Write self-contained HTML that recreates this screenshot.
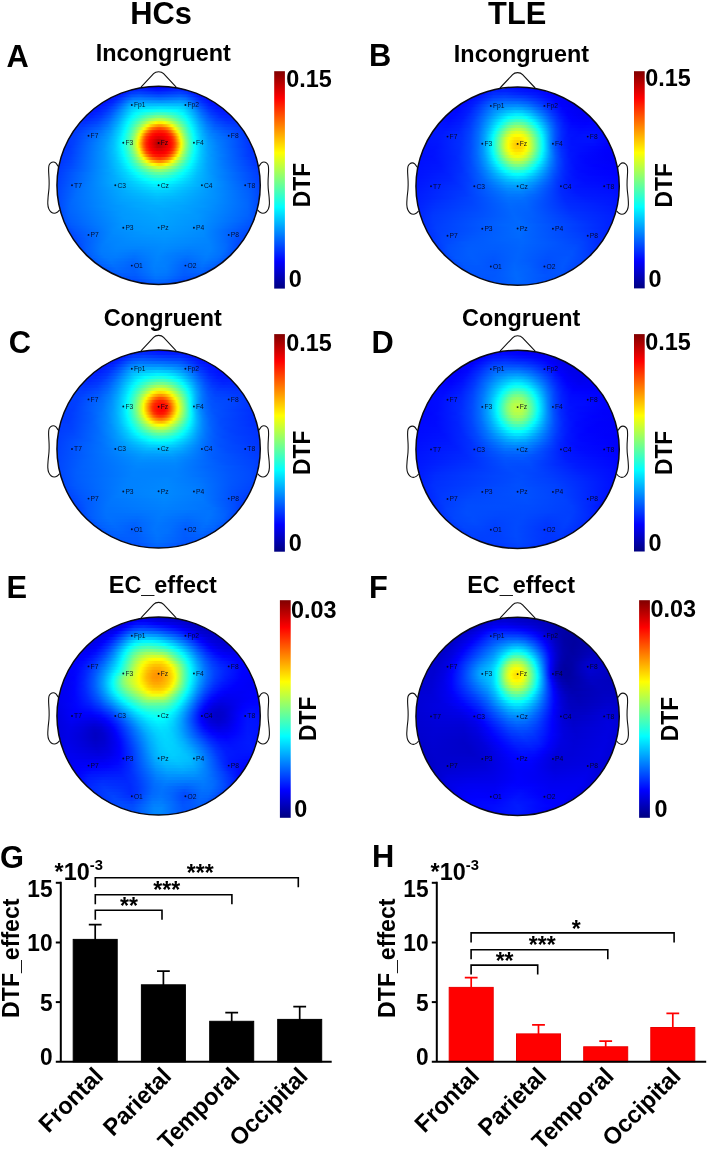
<!DOCTYPE html>
<html lang="en"><head><meta charset="utf-8"><title>Figure</title>
<style>html,body{margin:0;padding:0;background:#fff}svg{display:block}text{font-family:'Liberation Sans',sans-serif;font-weight:bold;fill:#000}.el text{font-weight:400;fill:#05051a}</style></head><body>
<svg width="709" height="1150" viewBox="0 0 709 1150">
<rect width="709" height="1150" fill="#fff"/>
<defs><linearGradient id="jet" x1="0" y1="1" x2="0" y2="0"><stop offset="0" stop-color="#000080"/><stop offset=".125" stop-color="#0000ff"/><stop offset=".375" stop-color="#00ffff"/><stop offset=".625" stop-color="#ffff00"/><stop offset=".875" stop-color="#ff0000"/><stop offset="1" stop-color="#800000"/></linearGradient></defs>
<!-- head A -->
<defs><linearGradient id="A0"><stop offset="0" stop-color="#0012ff"/><stop offset=".167" stop-color="#0014ff"/><stop offset=".444" stop-color="#0000fd"/><stop offset=".639" stop-color="#0004ff"/><stop offset=".861" stop-color="#0015ff"/><stop offset="1" stop-color="#0012ff"/></linearGradient><linearGradient id="A1"><stop offset="0" stop-color="#0001ff"/><stop offset=".14" stop-color="#0022ff"/><stop offset=".26" stop-color="#0028ff"/><stop offset=".48" stop-color="#0013ff"/><stop offset=".6" stop-color="#0019ff"/><stop offset=".76" stop-color="#0028ff"/><stop offset=".86" stop-color="#0022ff"/><stop offset="1" stop-color="#0001ff"/></linearGradient><linearGradient id="A2"><stop offset="0" stop-color="#0000fd"/><stop offset=".05" stop-color="#0004ff"/><stop offset=".2" stop-color="#0038ff"/><stop offset=".283" stop-color="#0041ff"/><stop offset=".5" stop-color="#002eff"/><stop offset=".733" stop-color="#0041ff"/><stop offset=".817" stop-color="#0033ff"/><stop offset=".95" stop-color="#0004ff"/><stop offset="1" stop-color="#0000fc"/></linearGradient><linearGradient id="A3"><stop offset="0" stop-color="#0003ff"/><stop offset=".074" stop-color="#000cff"/><stop offset=".132" stop-color="#0022ff"/><stop offset=".235" stop-color="#0053ff"/><stop offset=".309" stop-color="#005eff"/><stop offset=".5" stop-color="#004dff"/><stop offset=".706" stop-color="#005dff"/><stop offset=".765" stop-color="#0053ff"/><stop offset=".912" stop-color="#000fff"/><stop offset=".985" stop-color="#0003ff"/><stop offset="1" stop-color="#0002ff"/></linearGradient><linearGradient id="A4"><stop offset="0" stop-color="#0009ff"/><stop offset=".066" stop-color="#000dff"/><stop offset=".132" stop-color="#0022ff"/><stop offset=".224" stop-color="#005cff"/><stop offset=".276" stop-color="#0077ff"/><stop offset=".342" stop-color="#007cff"/><stop offset=".513" stop-color="#006fff"/><stop offset=".684" stop-color="#007dff"/><stop offset=".737" stop-color="#0071ff"/><stop offset=".803" stop-color="#0049ff"/><stop offset=".868" stop-color="#0020ff"/><stop offset=".934" stop-color="#000bff"/><stop offset="1" stop-color="#0007ff"/></linearGradient><linearGradient id="A5"><stop offset="0" stop-color="#000dff"/><stop offset=".073" stop-color="#0012ff"/><stop offset=".134" stop-color="#0027ff"/><stop offset=".195" stop-color="#004fff"/><stop offset=".268" stop-color="#008bff"/><stop offset=".305" stop-color="#009aff"/><stop offset=".39" stop-color="#009aff"/><stop offset=".524" stop-color="#0094ff"/><stop offset=".671" stop-color="#009dff"/><stop offset=".72" stop-color="#0091ff"/><stop offset=".793" stop-color="#0058ff"/><stop offset=".854" stop-color="#002cff"/><stop offset=".915" stop-color="#0012ff"/><stop offset="1" stop-color="#000bff"/></linearGradient><linearGradient id="A6"><stop offset="0" stop-color="#0010ff"/><stop offset=".07" stop-color="#0015ff"/><stop offset=".14" stop-color="#0030ff"/><stop offset=".209" stop-color="#0065ff"/><stop offset=".279" stop-color="#00a7ff"/><stop offset=".314" stop-color="#00b8ff"/><stop offset=".395" stop-color="#00bcff"/><stop offset=".593" stop-color="#00bdff"/><stop offset=".674" stop-color="#00bbff"/><stop offset=".709" stop-color="#00afff"/><stop offset=".826" stop-color="#0045ff"/><stop offset=".895" stop-color="#001dff"/><stop offset=".965" stop-color="#000eff"/><stop offset="1" stop-color="#000eff"/></linearGradient><linearGradient id="A7"><stop offset="0" stop-color="#0013ff"/><stop offset=".065" stop-color="#0016ff"/><stop offset=".13" stop-color="#002cff"/><stop offset=".196" stop-color="#0059ff"/><stop offset=".304" stop-color="#00c5ff"/><stop offset=".348" stop-color="#00d7ff"/><stop offset=".511" stop-color="#00e4ff"/><stop offset=".641" stop-color="#00dcff"/><stop offset=".685" stop-color="#00cdff"/><stop offset=".728" stop-color="#00a7ff"/><stop offset=".804" stop-color="#0057ff"/><stop offset=".859" stop-color="#002fff"/><stop offset=".924" stop-color="#0016ff"/><stop offset=".989" stop-color="#0011ff"/><stop offset="1" stop-color="#0012ff"/></linearGradient><linearGradient id="A8"><stop offset="0" stop-color="#0016ff"/><stop offset=".073" stop-color="#001bff"/><stop offset=".135" stop-color="#0033ff"/><stop offset=".187" stop-color="#0057ff"/><stop offset=".26" stop-color="#00a1ff"/><stop offset=".312" stop-color="#00d6ff"/><stop offset=".354" stop-color="#00efff"/><stop offset=".406" stop-color="#01fffe"/><stop offset=".5" stop-color="#12ffed"/><stop offset=".583" stop-color="#09fff6"/><stop offset=".625" stop-color="#00fcff"/><stop offset=".677" stop-color="#00e1ff"/><stop offset=".719" stop-color="#00b8ff"/><stop offset=".792" stop-color="#0067ff"/><stop offset=".844" stop-color="#003cff"/><stop offset=".896" stop-color="#0022ff"/><stop offset=".958" stop-color="#0015ff"/><stop offset="1" stop-color="#0016ff"/></linearGradient><linearGradient id="A9"><stop offset="0" stop-color="#001cff"/><stop offset=".06" stop-color="#001dff"/><stop offset=".12" stop-color="#002fff"/><stop offset=".18" stop-color="#0054ff"/><stop offset=".25" stop-color="#0099ff"/><stop offset=".33" stop-color="#00f0ff"/><stop offset=".35" stop-color="#01fffe"/><stop offset=".43" stop-color="#2fffd0"/><stop offset=".49" stop-color="#43ffbc"/><stop offset=".54" stop-color="#40ffbf"/><stop offset=".6" stop-color="#28ffd7"/><stop offset=".66" stop-color="#00fdff"/><stop offset=".73" stop-color="#00b0ff"/><stop offset=".79" stop-color="#006bff"/><stop offset=".85" stop-color="#003bff"/><stop offset=".91" stop-color="#0022ff"/><stop offset=".97" stop-color="#0019ff"/><stop offset="1" stop-color="#001cff"/></linearGradient><linearGradient id="A10"><stop offset="0" stop-color="#0023ff"/><stop offset=".067" stop-color="#0023ff"/><stop offset=".135" stop-color="#003bff"/><stop offset=".192" stop-color="#0061ff"/><stop offset=".26" stop-color="#00a7ff"/><stop offset=".327" stop-color="#00f7ff"/><stop offset=".337" stop-color="#02fffd"/><stop offset=".423" stop-color="#53ffac"/><stop offset=".481" stop-color="#78ff87"/><stop offset=".519" stop-color="#7cff83"/><stop offset=".567" stop-color="#65ff9a"/><stop offset=".625" stop-color="#33ffcc"/><stop offset=".673" stop-color="#00fcff"/><stop offset=".769" stop-color="#0082ff"/><stop offset=".827" stop-color="#004eff"/><stop offset=".894" stop-color="#002bff"/><stop offset=".962" stop-color="#0020ff"/><stop offset="1" stop-color="#0024ff"/></linearGradient><linearGradient id="A11"><stop offset="0" stop-color="#002bff"/><stop offset=".056" stop-color="#0028ff"/><stop offset=".13" stop-color="#003dff"/><stop offset=".194" stop-color="#0066ff"/><stop offset=".25" stop-color="#009dff"/><stop offset=".324" stop-color="#00fbff"/><stop offset=".352" stop-color="#20ffdf"/><stop offset=".444" stop-color="#97ff68"/><stop offset=".491" stop-color="#bcff43"/><stop offset=".509" stop-color="#c0ff3f"/><stop offset=".537" stop-color="#b2ff4d"/><stop offset=".574" stop-color="#91ff6e"/><stop offset=".667" stop-color="#10ffef"/><stop offset=".676" stop-color="#02fffd"/><stop offset=".75" stop-color="#009aff"/><stop offset=".796" stop-color="#0068ff"/><stop offset=".852" stop-color="#0042ff"/><stop offset=".917" stop-color="#002cff"/><stop offset=".981" stop-color="#0029ff"/><stop offset="1" stop-color="#002cff"/></linearGradient><linearGradient id="A12"><stop offset="0" stop-color="#0031ff"/><stop offset=".063" stop-color="#0030ff"/><stop offset=".134" stop-color="#0045ff"/><stop offset=".196" stop-color="#006aff"/><stop offset=".259" stop-color="#00a9ff"/><stop offset=".321" stop-color="#00fdff"/><stop offset=".375" stop-color="#53ffac"/><stop offset=".446" stop-color="#d5ff2a"/><stop offset=".482" stop-color="#fffd00"/><stop offset=".5" stop-color="#ffef00"/><stop offset=".518" stop-color="#fff200"/><stop offset=".536" stop-color="#faff05"/><stop offset=".562" stop-color="#daff25"/><stop offset=".67" stop-color="#14ffeb"/><stop offset=".679" stop-color="#05fffa"/><stop offset=".696" stop-color="#00e6ff"/><stop offset=".741" stop-color="#00a5ff"/><stop offset=".786" stop-color="#0073ff"/><stop offset=".839" stop-color="#004eff"/><stop offset=".911" stop-color="#0035ff"/><stop offset=".982" stop-color="#0030ff"/><stop offset="1" stop-color="#0032ff"/></linearGradient><linearGradient id="A13"><stop offset="0" stop-color="#0034ff"/><stop offset=".061" stop-color="#0038ff"/><stop offset=".149" stop-color="#0055ff"/><stop offset=".202" stop-color="#0076ff"/><stop offset=".254" stop-color="#00a9ff"/><stop offset=".307" stop-color="#00f0ff"/><stop offset=".316" stop-color="#00fdff"/><stop offset=".351" stop-color="#3bffc4"/><stop offset=".395" stop-color="#96ff69"/><stop offset=".421" stop-color="#d7ff28"/><stop offset=".43" stop-color="#efff10"/><stop offset=".439" stop-color="#fff700"/><stop offset=".456" stop-color="#ffce00"/><stop offset=".482" stop-color="#ffa600"/><stop offset=".5" stop-color="#ff9600"/><stop offset=".518" stop-color="#ff9a00"/><stop offset=".544" stop-color="#ffba00"/><stop offset=".561" stop-color="#ffdb00"/><stop offset=".57" stop-color="#fff000"/><stop offset=".579" stop-color="#f7ff08"/><stop offset=".614" stop-color="#9aff65"/><stop offset=".675" stop-color="#15ffea"/><stop offset=".684" stop-color="#05fffa"/><stop offset=".702" stop-color="#00e5ff"/><stop offset=".737" stop-color="#00afff"/><stop offset=".781" stop-color="#007eff"/><stop offset=".825" stop-color="#005dff"/><stop offset=".886" stop-color="#0045ff"/><stop offset=".974" stop-color="#0035ff"/><stop offset="1" stop-color="#0036ff"/></linearGradient><linearGradient id="A14"><stop offset="0" stop-color="#0036ff"/><stop offset=".059" stop-color="#003cff"/><stop offset=".169" stop-color="#0064ff"/><stop offset=".229" stop-color="#008eff"/><stop offset=".288" stop-color="#00d4ff"/><stop offset=".314" stop-color="#00fbff"/><stop offset=".331" stop-color="#1bffe4"/><stop offset=".364" stop-color="#63ff9c"/><stop offset=".398" stop-color="#bdff42"/><stop offset=".415" stop-color="#f1ff0e"/><stop offset=".424" stop-color="#fff000"/><stop offset=".449" stop-color="#ff9700"/><stop offset=".466" stop-color="#ff6c00"/><stop offset=".492" stop-color="#ff4c00"/><stop offset=".508" stop-color="#ff4500"/><stop offset=".534" stop-color="#ff5b00"/><stop offset=".551" stop-color="#ff7800"/><stop offset=".568" stop-color="#ffa900"/><stop offset=".585" stop-color="#ffe600"/><stop offset=".593" stop-color="#f9ff06"/><stop offset=".636" stop-color="#7aff85"/><stop offset=".669" stop-color="#26ffd9"/><stop offset=".686" stop-color="#02fffd"/><stop offset=".729" stop-color="#00b8ff"/><stop offset=".771" stop-color="#0087ff"/><stop offset=".814" stop-color="#0067ff"/><stop offset=".881" stop-color="#004eff"/><stop offset=".975" stop-color="#0038ff"/><stop offset="1" stop-color="#0038ff"/></linearGradient><linearGradient id="A15"><stop offset="0" stop-color="#0037ff"/><stop offset=".05" stop-color="#003dff"/><stop offset=".183" stop-color="#0073ff"/><stop offset=".233" stop-color="#0097ff"/><stop offset=".283" stop-color="#00d1ff"/><stop offset=".308" stop-color="#00f8ff"/><stop offset=".317" stop-color="#08fff7"/><stop offset=".35" stop-color="#4dffb2"/><stop offset=".375" stop-color="#91ff6e"/><stop offset=".4" stop-color="#e8ff17"/><stop offset=".408" stop-color="#fff500"/><stop offset=".442" stop-color="#ff7200"/><stop offset=".458" stop-color="#ff4000"/><stop offset=".475" stop-color="#ff2500"/><stop offset=".5" stop-color="#ff1500"/><stop offset=".525" stop-color="#ff1b00"/><stop offset=".542" stop-color="#ff2b00"/><stop offset=".55" stop-color="#ff3a00"/><stop offset=".567" stop-color="#ff6800"/><stop offset=".6" stop-color="#ffeb00"/><stop offset=".608" stop-color="#f2ff0d"/><stop offset=".633" stop-color="#96ff69"/><stop offset=".658" stop-color="#4bffb4"/><stop offset=".683" stop-color="#0efff1"/><stop offset=".692" stop-color="#00fbff"/><stop offset=".717" stop-color="#00cdff"/><stop offset=".758" stop-color="#0097ff"/><stop offset=".8" stop-color="#0075ff"/><stop offset=".858" stop-color="#005dff"/><stop offset=".975" stop-color="#003aff"/><stop offset="1" stop-color="#0038ff"/></linearGradient><linearGradient id="A16"><stop offset="0" stop-color="#0036ff"/><stop offset=".049" stop-color="#003fff"/><stop offset=".197" stop-color="#0080ff"/><stop offset=".246" stop-color="#00a7ff"/><stop offset=".287" stop-color="#00d9ff"/><stop offset=".311" stop-color="#02fffd"/><stop offset=".344" stop-color="#47ffb8"/><stop offset=".369" stop-color="#8cff73"/><stop offset=".393" stop-color="#e9ff16"/><stop offset=".402" stop-color="#fff000"/><stop offset=".426" stop-color="#ff7a00"/><stop offset=".434" stop-color="#ff5900"/><stop offset=".451" stop-color="#ff2b00"/><stop offset=".467" stop-color="#ff0e00"/><stop offset=".484" stop-color="#fe0000"/><stop offset=".516" stop-color="#f90000"/><stop offset=".533" stop-color="#ff0300"/><stop offset=".549" stop-color="#ff1500"/><stop offset=".566" stop-color="#ff3800"/><stop offset=".574" stop-color="#ff5000"/><stop offset=".59" stop-color="#ff9400"/><stop offset=".607" stop-color="#ffe300"/><stop offset=".615" stop-color="#f4ff0b"/><stop offset=".639" stop-color="#90ff6f"/><stop offset=".664" stop-color="#42ffbd"/><stop offset=".689" stop-color="#05fffa"/><stop offset=".705" stop-color="#00e3ff"/><stop offset=".738" stop-color="#00b0ff"/><stop offset=".779" stop-color="#0087ff"/><stop offset=".836" stop-color="#006bff"/><stop offset=".91" stop-color="#0052ff"/><stop offset=".967" stop-color="#003cff"/><stop offset="1" stop-color="#0037ff"/></linearGradient><linearGradient id="A17"><stop offset="0" stop-color="#0034ff"/><stop offset=".056" stop-color="#0041ff"/><stop offset=".177" stop-color="#007aff"/><stop offset=".226" stop-color="#0097ff"/><stop offset=".274" stop-color="#00c9ff"/><stop offset=".306" stop-color="#00faff"/><stop offset=".323" stop-color="#19ffe6"/><stop offset=".347" stop-color="#52ffad"/><stop offset=".371" stop-color="#9cff63"/><stop offset=".395" stop-color="#fffe00"/><stop offset=".419" stop-color="#ff7d00"/><stop offset=".427" stop-color="#ff5700"/><stop offset=".435" stop-color="#ff3800"/><stop offset=".452" stop-color="#ff1000"/><stop offset=".46" stop-color="#ff0400"/><stop offset=".484" stop-color="#e90000"/><stop offset=".5" stop-color="#df0000"/><stop offset=".524" stop-color="#e70000"/><stop offset=".548" stop-color="#ff0000"/><stop offset=".565" stop-color="#ff1a00"/><stop offset=".573" stop-color="#ff2f00"/><stop offset=".581" stop-color="#ff4b00"/><stop offset=".589" stop-color="#ff6f00"/><stop offset=".613" stop-color="#fff000"/><stop offset=".621" stop-color="#e5ff1a"/><stop offset=".645" stop-color="#83ff7c"/><stop offset=".669" stop-color="#35ffca"/><stop offset=".685" stop-color="#0cfff3"/><stop offset=".694" stop-color="#00f9ff"/><stop offset=".726" stop-color="#00c0ff"/><stop offset=".766" stop-color="#0094ff"/><stop offset=".806" stop-color="#007aff"/><stop offset=".895" stop-color="#005bff"/><stop offset=".96" stop-color="#003dff"/><stop offset="1" stop-color="#0035ff"/></linearGradient><linearGradient id="A18"><stop offset="0" stop-color="#0032ff"/><stop offset=".056" stop-color="#0040ff"/><stop offset=".175" stop-color="#007bff"/><stop offset=".23" stop-color="#009cff"/><stop offset=".27" stop-color="#00c4ff"/><stop offset=".302" stop-color="#00f1ff"/><stop offset=".31" stop-color="#00ffff"/><stop offset=".341" stop-color="#44ffbb"/><stop offset=".365" stop-color="#8bff74"/><stop offset=".381" stop-color="#c9ff36"/><stop offset=".389" stop-color="#edff12"/><stop offset=".397" stop-color="#ffe900"/><stop offset=".421" stop-color="#ff6700"/><stop offset=".429" stop-color="#ff4300"/><stop offset=".437" stop-color="#ff2800"/><stop offset=".452" stop-color="#ff0400"/><stop offset=".476" stop-color="#df0000"/><stop offset=".492" stop-color="#c80000"/><stop offset=".5" stop-color="#c20000"/><stop offset=".516" stop-color="#c90000"/><stop offset=".556" stop-color="#fe0000"/><stop offset=".571" stop-color="#ff1f00"/><stop offset=".579" stop-color="#ff3900"/><stop offset=".587" stop-color="#ff5a00"/><stop offset=".611" stop-color="#ffdb00"/><stop offset=".619" stop-color="#f9ff06"/><stop offset=".643" stop-color="#8dff72"/><stop offset=".667" stop-color="#3cffc3"/><stop offset=".69" stop-color="#00fdff"/><stop offset=".722" stop-color="#00c4ff"/><stop offset=".762" stop-color="#0098ff"/><stop offset=".81" stop-color="#007bff"/><stop offset=".897" stop-color="#0059ff"/><stop offset=".968" stop-color="#0038ff"/><stop offset="1" stop-color="#0032ff"/></linearGradient><linearGradient id="A19"><stop offset="0" stop-color="#002fff"/><stop offset=".062" stop-color="#0041ff"/><stop offset=".219" stop-color="#0094ff"/><stop offset=".266" stop-color="#00bdff"/><stop offset=".305" stop-color="#00f3ff"/><stop offset=".312" stop-color="#02fffd"/><stop offset=".336" stop-color="#33ffcc"/><stop offset=".359" stop-color="#75ff8a"/><stop offset=".375" stop-color="#aeff51"/><stop offset=".391" stop-color="#f6ff09"/><stop offset=".398" stop-color="#ffde00"/><stop offset=".422" stop-color="#ff5a00"/><stop offset=".43" stop-color="#ff3900"/><stop offset=".437" stop-color="#ff2000"/><stop offset=".453" stop-color="#ff0000"/><stop offset=".477" stop-color="#d70000"/><stop offset=".492" stop-color="#bb0000"/><stop offset=".5" stop-color="#b30000"/><stop offset=".516" stop-color="#bf0000"/><stop offset=".555" stop-color="#fb0000"/><stop offset=".562" stop-color="#ff0800"/><stop offset=".57" stop-color="#ff1900"/><stop offset=".578" stop-color="#ff3000"/><stop offset=".586" stop-color="#ff4e00"/><stop offset=".602" stop-color="#ffa300"/><stop offset=".617" stop-color="#fffc00"/><stop offset=".641" stop-color="#92ff6d"/><stop offset=".664" stop-color="#3fffc0"/><stop offset=".687" stop-color="#01fffe"/><stop offset=".719" stop-color="#00c7ff"/><stop offset=".758" stop-color="#009bff"/><stop offset=".805" stop-color="#007eff"/><stop offset=".898" stop-color="#0056ff"/><stop offset=".969" stop-color="#0036ff"/><stop offset="1" stop-color="#0030ff"/></linearGradient><linearGradient id="A20"><stop offset="0" stop-color="#002eff"/><stop offset=".046" stop-color="#0038ff"/><stop offset=".223" stop-color="#0096ff"/><stop offset=".277" stop-color="#00c7ff"/><stop offset=".315" stop-color="#02fffd"/><stop offset=".338" stop-color="#32ffcd"/><stop offset=".362" stop-color="#72ff8d"/><stop offset=".377" stop-color="#aaff55"/><stop offset=".392" stop-color="#efff10"/><stop offset=".4" stop-color="#ffe600"/><stop offset=".423" stop-color="#ff6400"/><stop offset=".431" stop-color="#ff4100"/><stop offset=".438" stop-color="#ff2600"/><stop offset=".454" stop-color="#ff0300"/><stop offset=".492" stop-color="#c90000"/><stop offset=".508" stop-color="#c50000"/><stop offset=".531" stop-color="#dd0000"/><stop offset=".554" stop-color="#fd0000"/><stop offset=".562" stop-color="#ff0b00"/><stop offset=".569" stop-color="#ff1e00"/><stop offset=".577" stop-color="#ff3700"/><stop offset=".585" stop-color="#ff5700"/><stop offset=".608" stop-color="#ffd800"/><stop offset=".615" stop-color="#fbff04"/><stop offset=".638" stop-color="#8fff70"/><stop offset=".654" stop-color="#56ffa9"/><stop offset=".677" stop-color="#13ffec"/><stop offset=".685" stop-color="#01fffe"/><stop offset=".715" stop-color="#00c8ff"/><stop offset=".754" stop-color="#009dff"/><stop offset=".815" stop-color="#0079ff"/><stop offset=".915" stop-color="#004bff"/><stop offset=".977" stop-color="#0031ff"/><stop offset="1" stop-color="#002eff"/></linearGradient><linearGradient id="A21"><stop offset="0" stop-color="#002eff"/><stop offset=".045" stop-color="#0037ff"/><stop offset=".212" stop-color="#008eff"/><stop offset=".265" stop-color="#00b7ff"/><stop offset=".303" stop-color="#00e5ff"/><stop offset=".318" stop-color="#00feff"/><stop offset=".341" stop-color="#2dffd2"/><stop offset=".364" stop-color="#6aff95"/><stop offset=".386" stop-color="#bcff43"/><stop offset=".402" stop-color="#fffb00"/><stop offset=".424" stop-color="#ff7900"/><stop offset=".432" stop-color="#ff5300"/><stop offset=".439" stop-color="#ff3400"/><stop offset=".455" stop-color="#ff0d00"/><stop offset=".462" stop-color="#ff0100"/><stop offset=".492" stop-color="#e00000"/><stop offset=".515" stop-color="#e00000"/><stop offset=".545" stop-color="#fd0000"/><stop offset=".553" stop-color="#ff0800"/><stop offset=".568" stop-color="#ff2c00"/><stop offset=".576" stop-color="#ff4800"/><stop offset=".591" stop-color="#ff9500"/><stop offset=".606" stop-color="#ffed00"/><stop offset=".614" stop-color="#e9ff16"/><stop offset=".636" stop-color="#85ff7a"/><stop offset=".659" stop-color="#39ffc6"/><stop offset=".682" stop-color="#00ffff"/><stop offset=".712" stop-color="#00c9ff"/><stop offset=".742" stop-color="#00a5ff"/><stop offset=".788" stop-color="#0085ff"/><stop offset=".97" stop-color="#0032ff"/><stop offset="1" stop-color="#002dff"/></linearGradient><linearGradient id="A22"><stop offset="0" stop-color="#002eff"/><stop offset=".061" stop-color="#003fff"/><stop offset=".235" stop-color="#009dff"/><stop offset=".288" stop-color="#00ceff"/><stop offset=".318" stop-color="#00f9ff"/><stop offset=".326" stop-color="#07fff8"/><stop offset=".348" stop-color="#36ffc9"/><stop offset=".371" stop-color="#75ff8a"/><stop offset=".386" stop-color="#aaff55"/><stop offset=".402" stop-color="#edff12"/><stop offset=".409" stop-color="#ffeb00"/><stop offset=".432" stop-color="#ff7300"/><stop offset=".439" stop-color="#ff5200"/><stop offset=".455" stop-color="#ff2500"/><stop offset=".47" stop-color="#ff0a00"/><stop offset=".477" stop-color="#ff0100"/><stop offset=".5" stop-color="#f50000"/><stop offset=".523" stop-color="#f80000"/><stop offset=".538" stop-color="#ff0600"/><stop offset=".553" stop-color="#ff1f00"/><stop offset=".568" stop-color="#ff4900"/><stop offset=".583" stop-color="#ff8d00"/><stop offset=".598" stop-color="#ffde00"/><stop offset=".606" stop-color="#f9ff06"/><stop offset=".621" stop-color="#b2ff4d"/><stop offset=".644" stop-color="#5effa1"/><stop offset=".667" stop-color="#1effe1"/><stop offset=".682" stop-color="#00fbff"/><stop offset=".712" stop-color="#00c8ff"/><stop offset=".75" stop-color="#009fff"/><stop offset=".811" stop-color="#007bff"/><stop offset=".97" stop-color="#0033ff"/><stop offset="1" stop-color="#002eff"/></linearGradient><linearGradient id="A23"><stop offset="0" stop-color="#002fff"/><stop offset=".06" stop-color="#003eff"/><stop offset=".231" stop-color="#0098ff"/><stop offset=".284" stop-color="#00c3ff"/><stop offset=".321" stop-color="#00f3ff"/><stop offset=".328" stop-color="#00ffff"/><stop offset=".358" stop-color="#3dffc2"/><stop offset=".381" stop-color="#7bff84"/><stop offset=".403" stop-color="#ceff31"/><stop offset=".41" stop-color="#eeff11"/><stop offset=".418" stop-color="#ffee00"/><stop offset=".44" stop-color="#ff8700"/><stop offset=".455" stop-color="#ff4e00"/><stop offset=".47" stop-color="#ff2900"/><stop offset=".485" stop-color="#ff1700"/><stop offset=".507" stop-color="#ff0f00"/><stop offset=".53" stop-color="#ff1b00"/><stop offset=".545" stop-color="#ff3300"/><stop offset=".56" stop-color="#ff6000"/><stop offset=".575" stop-color="#ff9d00"/><stop offset=".59" stop-color="#ffe300"/><stop offset=".597" stop-color="#f9ff06"/><stop offset=".619" stop-color="#9bff64"/><stop offset=".642" stop-color="#50ffaf"/><stop offset=".664" stop-color="#15ffea"/><stop offset=".672" stop-color="#05fffa"/><stop offset=".687" stop-color="#00e8ff"/><stop offset=".716" stop-color="#00bdff"/><stop offset=".761" stop-color="#0094ff"/><stop offset=".94" stop-color="#003dff"/><stop offset="1" stop-color="#002fff"/></linearGradient><linearGradient id="A24"><stop offset="0" stop-color="#0030ff"/><stop offset=".059" stop-color="#003dff"/><stop offset=".235" stop-color="#0098ff"/><stop offset=".287" stop-color="#00c0ff"/><stop offset=".324" stop-color="#00ecff"/><stop offset=".338" stop-color="#03fffc"/><stop offset=".368" stop-color="#3fffc0"/><stop offset=".39" stop-color="#7aff85"/><stop offset=".419" stop-color="#ddff22"/><stop offset=".426" stop-color="#f9ff06"/><stop offset=".434" stop-color="#ffe700"/><stop offset=".456" stop-color="#ff8c00"/><stop offset=".471" stop-color="#ff6100"/><stop offset=".493" stop-color="#ff4200"/><stop offset=".507" stop-color="#ff3b00"/><stop offset=".529" stop-color="#ff5100"/><stop offset=".544" stop-color="#ff6d00"/><stop offset=".559" stop-color="#ff9f00"/><stop offset=".581" stop-color="#fffc00"/><stop offset=".618" stop-color="#7fff80"/><stop offset=".64" stop-color="#3fffc0"/><stop offset=".662" stop-color="#0bfff4"/><stop offset=".669" stop-color="#00fcff"/><stop offset=".699" stop-color="#00cdff"/><stop offset=".735" stop-color="#00a5ff"/><stop offset=".801" stop-color="#007cff"/><stop offset=".956" stop-color="#0038ff"/><stop offset="1" stop-color="#002fff"/></linearGradient><linearGradient id="A25"><stop offset="0" stop-color="#0031ff"/><stop offset=".074" stop-color="#0046ff"/><stop offset=".25" stop-color="#00a0ff"/><stop offset=".301" stop-color="#00caff"/><stop offset=".338" stop-color="#00f8ff"/><stop offset=".346" stop-color="#05fffa"/><stop offset=".375" stop-color="#3cffc3"/><stop offset=".404" stop-color="#85ff7a"/><stop offset=".434" stop-color="#deff21"/><stop offset=".441" stop-color="#f7ff08"/><stop offset=".449" stop-color="#ffee00"/><stop offset=".463" stop-color="#ffc300"/><stop offset=".478" stop-color="#ffa500"/><stop offset=".493" stop-color="#ff8f00"/><stop offset=".507" stop-color="#ff8800"/><stop offset=".522" stop-color="#ff9500"/><stop offset=".544" stop-color="#ffbd00"/><stop offset=".566" stop-color="#fffe00"/><stop offset=".596" stop-color="#9fff60"/><stop offset=".632" stop-color="#3dffc2"/><stop offset=".662" stop-color="#00ffff"/><stop offset=".699" stop-color="#00c8ff"/><stop offset=".743" stop-color="#009fff"/><stop offset=".824" stop-color="#0073ff"/><stop offset=".971" stop-color="#0036ff"/><stop offset="1" stop-color="#0031ff"/></linearGradient><linearGradient id="A26"><stop offset="0" stop-color="#0033ff"/><stop offset=".074" stop-color="#0049ff"/><stop offset=".25" stop-color="#009fff"/><stop offset=".309" stop-color="#00ccff"/><stop offset=".353" stop-color="#03fffc"/><stop offset=".39" stop-color="#44ffbb"/><stop offset=".426" stop-color="#97ff68"/><stop offset=".456" stop-color="#dfff20"/><stop offset=".471" stop-color="#f9ff06"/><stop offset=".478" stop-color="#fffb00"/><stop offset=".5" stop-color="#ffe100"/><stop offset=".515" stop-color="#ffe400"/><stop offset=".537" stop-color="#fcff03"/><stop offset=".559" stop-color="#d4ff2b"/><stop offset=".61" stop-color="#56ffa9"/><stop offset=".647" stop-color="#0dfff2"/><stop offset=".654" stop-color="#00ffff"/><stop offset=".691" stop-color="#00ccff"/><stop offset=".735" stop-color="#00a3ff"/><stop offset=".809" stop-color="#007bff"/><stop offset=".963" stop-color="#003bff"/><stop offset="1" stop-color="#0032ff"/></linearGradient><linearGradient id="A27"><stop offset="0" stop-color="#0035ff"/><stop offset=".081" stop-color="#004fff"/><stop offset=".25" stop-color="#009eff"/><stop offset=".316" stop-color="#00cdff"/><stop offset=".36" stop-color="#00feff"/><stop offset=".397" stop-color="#38ffc7"/><stop offset=".456" stop-color="#a2ff5d"/><stop offset=".493" stop-color="#cbff34"/><stop offset=".507" stop-color="#d0ff2f"/><stop offset=".529" stop-color="#c0ff3f"/><stop offset=".559" stop-color="#9aff65"/><stop offset=".632" stop-color="#14ffeb"/><stop offset=".647" stop-color="#00fdff"/><stop offset=".691" stop-color="#00c7ff"/><stop offset=".743" stop-color="#009eff"/><stop offset=".824" stop-color="#0076ff"/><stop offset=".978" stop-color="#003aff"/><stop offset="1" stop-color="#0034ff"/></linearGradient><linearGradient id="A28"><stop offset="0" stop-color="#0036ff"/><stop offset=".132" stop-color="#0068ff"/><stop offset=".279" stop-color="#00aeff"/><stop offset=".338" stop-color="#00daff"/><stop offset=".375" stop-color="#02fffd"/><stop offset=".456" stop-color="#70ff8f"/><stop offset=".485" stop-color="#8bff74"/><stop offset=".507" stop-color="#92ff6d"/><stop offset=".537" stop-color="#81ff7e"/><stop offset=".574" stop-color="#57ffa8"/><stop offset=".632" stop-color="#02fffd"/><stop offset=".691" stop-color="#00c2ff"/><stop offset=".75" stop-color="#0099ff"/><stop offset=".897" stop-color="#005aff"/><stop offset="1" stop-color="#0036ff"/></linearGradient><linearGradient id="A29"><stop offset="0" stop-color="#0038ff"/><stop offset=".257" stop-color="#00a0ff"/><stop offset=".338" stop-color="#00d1ff"/><stop offset=".39" stop-color="#02fffd"/><stop offset=".456" stop-color="#48ffb7"/><stop offset=".485" stop-color="#5cffa3"/><stop offset=".515" stop-color="#60ff9f"/><stop offset=".551" stop-color="#4affb5"/><stop offset=".61" stop-color="#0bfff4"/><stop offset=".618" stop-color="#02fffd"/><stop offset=".691" stop-color="#00bdff"/><stop offset=".765" stop-color="#0092ff"/><stop offset="1" stop-color="#0038ff"/></linearGradient><linearGradient id="A30"><stop offset="0" stop-color="#003aff"/><stop offset=".287" stop-color="#00adff"/><stop offset=".368" stop-color="#00deff"/><stop offset=".404" stop-color="#00fdff"/><stop offset=".471" stop-color="#31ffce"/><stop offset=".507" stop-color="#3affc5"/><stop offset=".544" stop-color="#2effd1"/><stop offset=".603" stop-color="#00fdff"/><stop offset=".684" stop-color="#00bdff"/><stop offset=".794" stop-color="#0086ff"/><stop offset="1" stop-color="#003aff"/></linearGradient><linearGradient id="A31"><stop offset="0" stop-color="#003cff"/><stop offset=".316" stop-color="#00b8ff"/><stop offset=".404" stop-color="#00ebff"/><stop offset=".434" stop-color="#00ffff"/><stop offset=".485" stop-color="#1affe5"/><stop offset=".529" stop-color="#18ffe7"/><stop offset=".574" stop-color="#01fffe"/><stop offset=".684" stop-color="#00b9ff"/><stop offset=".809" stop-color="#0082ff"/><stop offset=".985" stop-color="#0041ff"/><stop offset="1" stop-color="#003cff"/></linearGradient><linearGradient id="A32"><stop offset="0" stop-color="#003dff"/><stop offset=".132" stop-color="#0072ff"/><stop offset=".368" stop-color="#00caff"/><stop offset=".471" stop-color="#00fdff"/><stop offset=".522" stop-color="#02fffd"/><stop offset=".566" stop-color="#00f1ff"/><stop offset=".691" stop-color="#00b2ff"/><stop offset=".853" stop-color="#0075ff"/><stop offset=".971" stop-color="#004aff"/><stop offset="1" stop-color="#003dff"/></linearGradient><linearGradient id="A33"><stop offset="0" stop-color="#003fff"/><stop offset=".132" stop-color="#0074ff"/><stop offset=".397" stop-color="#00ceff"/><stop offset=".485" stop-color="#00eeff"/><stop offset=".529" stop-color="#00ecff"/><stop offset=".618" stop-color="#00cbff"/><stop offset=".838" stop-color="#007cff"/><stop offset=".956" stop-color="#0053ff"/><stop offset="1" stop-color="#003fff"/></linearGradient><linearGradient id="A34"><stop offset="0" stop-color="#0040ff"/><stop offset=".11" stop-color="#006fff"/><stop offset=".478" stop-color="#00ddff"/><stop offset=".529" stop-color="#00ddff"/><stop offset=".941" stop-color="#005cff"/><stop offset="1" stop-color="#0041ff"/></linearGradient><linearGradient id="A35"><stop offset="0" stop-color="#0042ff"/><stop offset=".103" stop-color="#006eff"/><stop offset=".353" stop-color="#00b2ff"/><stop offset=".485" stop-color="#00d1ff"/><stop offset=".544" stop-color="#00ceff"/><stop offset=".824" stop-color="#0082ff"/><stop offset=".941" stop-color="#005eff"/><stop offset="1" stop-color="#0042ff"/></linearGradient><linearGradient id="A36"><stop offset="0" stop-color="#0043ff"/><stop offset=".096" stop-color="#006dff"/><stop offset=".324" stop-color="#00a8ff"/><stop offset=".493" stop-color="#00c7ff"/><stop offset=".566" stop-color="#00c0ff"/><stop offset=".794" stop-color="#008bff"/><stop offset=".941" stop-color="#0060ff"/><stop offset="1" stop-color="#0043ff"/></linearGradient><linearGradient id="A37"><stop offset="0" stop-color="#0044ff"/><stop offset=".096" stop-color="#006eff"/><stop offset=".324" stop-color="#00a5ff"/><stop offset=".493" stop-color="#00beff"/><stop offset=".581" stop-color="#00b6ff"/><stop offset=".772" stop-color="#0090ff"/><stop offset=".941" stop-color="#0061ff"/><stop offset="1" stop-color="#0044ff"/></linearGradient><linearGradient id="A38"><stop offset="0" stop-color="#0044ff"/><stop offset=".081" stop-color="#006aff"/><stop offset=".316" stop-color="#00a1ff"/><stop offset=".493" stop-color="#00b7ff"/><stop offset=".603" stop-color="#00aeff"/><stop offset=".779" stop-color="#008dff"/><stop offset=".934" stop-color="#0065ff"/><stop offset="1" stop-color="#0044ff"/></linearGradient><linearGradient id="A39"><stop offset="0" stop-color="#0044ff"/><stop offset=".074" stop-color="#0068ff"/><stop offset=".301" stop-color="#009cff"/><stop offset=".493" stop-color="#00b2ff"/><stop offset=".625" stop-color="#00a7ff"/><stop offset=".779" stop-color="#008cff"/><stop offset=".934" stop-color="#0066ff"/><stop offset="1" stop-color="#0044ff"/></linearGradient><linearGradient id="A40"><stop offset="0" stop-color="#0043ff"/><stop offset=".066" stop-color="#0065ff"/><stop offset=".228" stop-color="#008cff"/><stop offset=".39" stop-color="#00a6ff"/><stop offset=".529" stop-color="#00adff"/><stop offset=".721" stop-color="#0097ff"/><stop offset=".934" stop-color="#0066ff"/><stop offset="1" stop-color="#0043ff"/></linearGradient><linearGradient id="A41"><stop offset="0" stop-color="#0042ff"/><stop offset=".066" stop-color="#0065ff"/><stop offset=".287" stop-color="#0096ff"/><stop offset=".463" stop-color="#00a9ff"/><stop offset=".596" stop-color="#00a5ff"/><stop offset=".75" stop-color="#008fff"/><stop offset=".934" stop-color="#0065ff"/><stop offset=".985" stop-color="#004cff"/><stop offset="1" stop-color="#0042ff"/></linearGradient><linearGradient id="A42"><stop offset="0" stop-color="#0040ff"/><stop offset=".066" stop-color="#0064ff"/><stop offset=".324" stop-color="#009aff"/><stop offset=".493" stop-color="#00a7ff"/><stop offset=".647" stop-color="#009eff"/><stop offset=".787" stop-color="#0085ff"/><stop offset=".941" stop-color="#0062ff"/><stop offset="1" stop-color="#0040ff"/></linearGradient><linearGradient id="A43"><stop offset="0" stop-color="#0043ff"/><stop offset=".052" stop-color="#0060ff"/><stop offset=".313" stop-color="#0098ff"/><stop offset=".507" stop-color="#00a5ff"/><stop offset=".694" stop-color="#0097ff"/><stop offset=".94" stop-color="#0063ff"/><stop offset=".993" stop-color="#0048ff"/><stop offset="1" stop-color="#0043ff"/></linearGradient><linearGradient id="A44"><stop offset="0" stop-color="#0045ff"/><stop offset=".053" stop-color="#0060ff"/><stop offset=".326" stop-color="#0099ff"/><stop offset=".515" stop-color="#00a3ff"/><stop offset=".697" stop-color="#0096ff"/><stop offset=".955" stop-color="#005eff"/><stop offset="1" stop-color="#0045ff"/></linearGradient><linearGradient id="A45"><stop offset="0" stop-color="#0041ff"/><stop offset=".053" stop-color="#005dff"/><stop offset=".311" stop-color="#0095ff"/><stop offset=".515" stop-color="#00a2ff"/><stop offset=".705" stop-color="#0093ff"/><stop offset=".909" stop-color="#0067ff"/><stop offset=".97" stop-color="#0054ff"/><stop offset="1" stop-color="#0041ff"/></linearGradient><linearGradient id="A46"><stop offset="0" stop-color="#0042ff"/><stop offset=".054" stop-color="#005cff"/><stop offset=".2" stop-color="#007cff"/><stop offset=".323" stop-color="#0096ff"/><stop offset=".523" stop-color="#00a0ff"/><stop offset=".708" stop-color="#0092ff"/><stop offset=".892" stop-color="#0067ff"/><stop offset=".969" stop-color="#0054ff"/><stop offset="1" stop-color="#0042ff"/></linearGradient><linearGradient id="A47"><stop offset="0" stop-color="#0040ff"/><stop offset=".047" stop-color="#0057ff"/><stop offset=".187" stop-color="#0077ff"/><stop offset=".297" stop-color="#0092ff"/><stop offset=".523" stop-color="#009eff"/><stop offset=".719" stop-color="#008fff"/><stop offset=".898" stop-color="#0063ff"/><stop offset=".969" stop-color="#0051ff"/><stop offset="1" stop-color="#0040ff"/></linearGradient><linearGradient id="A48"><stop offset="0" stop-color="#003dff"/><stop offset=".056" stop-color="#0057ff"/><stop offset=".167" stop-color="#0070ff"/><stop offset=".262" stop-color="#008bff"/><stop offset=".389" stop-color="#0097ff"/><stop offset=".548" stop-color="#009bff"/><stop offset=".73" stop-color="#008dff"/><stop offset=".857" stop-color="#0069ff"/><stop offset=".968" stop-color="#004fff"/><stop offset="1" stop-color="#003dff"/></linearGradient><linearGradient id="A49"><stop offset="0" stop-color="#003aff"/><stop offset=".056" stop-color="#0054ff"/><stop offset=".153" stop-color="#006cff"/><stop offset=".258" stop-color="#008aff"/><stop offset=".452" stop-color="#0098ff"/><stop offset=".589" stop-color="#0096ff"/><stop offset=".742" stop-color="#008aff"/><stop offset=".847" stop-color="#006cff"/><stop offset=".903" stop-color="#005dff"/><stop offset=".968" stop-color="#004cff"/><stop offset="1" stop-color="#003aff"/></linearGradient><linearGradient id="A50"><stop offset="0" stop-color="#0036ff"/><stop offset=".057" stop-color="#0052ff"/><stop offset=".156" stop-color="#006eff"/><stop offset=".238" stop-color="#0086ff"/><stop offset=".369" stop-color="#0091ff"/><stop offset=".541" stop-color="#0096ff"/><stop offset=".746" stop-color="#0089ff"/><stop offset=".836" stop-color="#0071ff"/><stop offset=".918" stop-color="#0059ff"/><stop offset=".984" stop-color="#0040ff"/><stop offset="1" stop-color="#0036ff"/></linearGradient><linearGradient id="A51"><stop offset="0" stop-color="#0033ff"/><stop offset=".058" stop-color="#0051ff"/><stop offset=".225" stop-color="#0084ff"/><stop offset=".35" stop-color="#008dff"/><stop offset=".533" stop-color="#0093ff"/><stop offset=".767" stop-color="#0085ff"/><stop offset=".85" stop-color="#006fff"/><stop offset=".967" stop-color="#0047ff"/><stop offset="1" stop-color="#0033ff"/></linearGradient><linearGradient id="A52"><stop offset="0" stop-color="#0030ff"/><stop offset=".059" stop-color="#0052ff"/><stop offset=".203" stop-color="#0081ff"/><stop offset=".314" stop-color="#0089ff"/><stop offset=".534" stop-color="#0090ff"/><stop offset=".78" stop-color="#0084ff"/><stop offset=".873" stop-color="#006aff"/><stop offset=".966" stop-color="#0045ff"/><stop offset="1" stop-color="#0030ff"/></linearGradient><linearGradient id="A53"><stop offset="0" stop-color="#0034ff"/><stop offset=".07" stop-color="#005bff"/><stop offset=".175" stop-color="#007dff"/><stop offset=".263" stop-color="#0086ff"/><stop offset=".412" stop-color="#0089ff"/><stop offset=".535" stop-color="#008dff"/><stop offset=".693" stop-color="#0085ff"/><stop offset=".798" stop-color="#0082ff"/><stop offset=".895" stop-color="#0069ff"/><stop offset=".982" stop-color="#0040ff"/><stop offset="1" stop-color="#0034ff"/></linearGradient><linearGradient id="A54"><stop offset="0" stop-color="#0032ff"/><stop offset=".071" stop-color="#005eff"/><stop offset=".161" stop-color="#007bff"/><stop offset=".25" stop-color="#0084ff"/><stop offset=".402" stop-color="#0084ff"/><stop offset=".527" stop-color="#008bff"/><stop offset=".679" stop-color="#0081ff"/><stop offset=".804" stop-color="#0082ff"/><stop offset=".893" stop-color="#006cff"/><stop offset=".964" stop-color="#004bff"/><stop offset="1" stop-color="#0032ff"/></linearGradient><linearGradient id="A55"><stop offset="0" stop-color="#0038ff"/><stop offset=".056" stop-color="#005cff"/><stop offset=".148" stop-color="#007bff"/><stop offset=".241" stop-color="#0082ff"/><stop offset=".361" stop-color="#007dff"/><stop offset=".509" stop-color="#0089ff"/><stop offset=".676" stop-color="#007cff"/><stop offset=".815" stop-color="#0081ff"/><stop offset=".898" stop-color="#006eff"/><stop offset=".963" stop-color="#0052ff"/><stop offset="1" stop-color="#0038ff"/></linearGradient><linearGradient id="A56"><stop offset="0" stop-color="#003eff"/><stop offset=".058" stop-color="#0060ff"/><stop offset=".135" stop-color="#0079ff"/><stop offset=".221" stop-color="#007fff"/><stop offset=".346" stop-color="#0077ff"/><stop offset=".5" stop-color="#0087ff"/><stop offset=".625" stop-color="#007aff"/><stop offset=".702" stop-color="#0078ff"/><stop offset=".808" stop-color="#0080ff"/><stop offset=".894" stop-color="#0072ff"/><stop offset=".971" stop-color="#0052ff"/><stop offset="1" stop-color="#003eff"/></linearGradient><linearGradient id="A57"><stop offset="0" stop-color="#0043ff"/><stop offset=".06" stop-color="#0063ff"/><stop offset=".14" stop-color="#0079ff"/><stop offset=".22" stop-color="#007cff"/><stop offset=".34" stop-color="#0071ff"/><stop offset=".49" stop-color="#0085ff"/><stop offset=".6" stop-color="#007aff"/><stop offset=".69" stop-color="#0071ff"/><stop offset=".82" stop-color="#007dff"/><stop offset=".9" stop-color="#0070ff"/><stop offset=".97" stop-color="#0055ff"/><stop offset="1" stop-color="#0043ff"/></linearGradient><linearGradient id="A58"><stop offset="0" stop-color="#0045ff"/><stop offset=".083" stop-color="#006aff"/><stop offset=".167" stop-color="#0079ff"/><stop offset=".25" stop-color="#0073ff"/><stop offset=".323" stop-color="#006bff"/><stop offset=".49" stop-color="#0084ff"/><stop offset=".583" stop-color="#007bff"/><stop offset=".687" stop-color="#006bff"/><stop offset=".823" stop-color="#007aff"/><stop offset=".906" stop-color="#006dff"/><stop offset=".99" stop-color="#004bff"/><stop offset="1" stop-color="#0045ff"/></linearGradient><linearGradient id="A59"><stop offset="0" stop-color="#0043ff"/><stop offset=".087" stop-color="#0068ff"/><stop offset=".163" stop-color="#0075ff"/><stop offset=".25" stop-color="#006dff"/><stop offset=".315" stop-color="#0065ff"/><stop offset=".478" stop-color="#0082ff"/><stop offset=".565" stop-color="#007dff"/><stop offset=".696" stop-color="#0065ff"/><stop offset=".826" stop-color="#0076ff"/><stop offset=".913" stop-color="#0068ff"/><stop offset="1" stop-color="#0043ff"/></linearGradient><linearGradient id="A60"><stop offset="0" stop-color="#0045ff"/><stop offset=".081" stop-color="#0064ff"/><stop offset=".151" stop-color="#0070ff"/><stop offset=".233" stop-color="#006aff"/><stop offset=".302" stop-color="#0061ff"/><stop offset=".465" stop-color="#0080ff"/><stop offset=".547" stop-color="#007fff"/><stop offset=".709" stop-color="#0061ff"/><stop offset=".837" stop-color="#0071ff"/><stop offset=".919" stop-color="#0065ff"/><stop offset="1" stop-color="#0045ff"/></linearGradient><linearGradient id="A61"><stop offset="0" stop-color="#0040ff"/><stop offset=".085" stop-color="#0060ff"/><stop offset=".159" stop-color="#006bff"/><stop offset=".293" stop-color="#0060ff"/><stop offset=".463" stop-color="#007eff"/><stop offset=".561" stop-color="#007cff"/><stop offset=".707" stop-color="#0060ff"/><stop offset=".854" stop-color="#006bff"/><stop offset=".927" stop-color="#005dff"/><stop offset="1" stop-color="#0040ff"/></linearGradient><linearGradient id="A62"><stop offset="0" stop-color="#0040ff"/><stop offset=".092" stop-color="#005eff"/><stop offset=".171" stop-color="#0064ff"/><stop offset=".289" stop-color="#005fff"/><stop offset=".474" stop-color="#007dff"/><stop offset=".566" stop-color="#0079ff"/><stop offset=".724" stop-color="#005eff"/><stop offset=".868" stop-color="#0064ff"/><stop offset=".947" stop-color="#0054ff"/><stop offset="1" stop-color="#0040ff"/></linearGradient><linearGradient id="A63"><stop offset="0" stop-color="#0044ff"/><stop offset=".088" stop-color="#005bff"/><stop offset=".279" stop-color="#005dff"/><stop offset=".471" stop-color="#0079ff"/><stop offset=".574" stop-color="#0075ff"/><stop offset=".75" stop-color="#005bff"/><stop offset=".912" stop-color="#005bff"/><stop offset="1" stop-color="#0044ff"/></linearGradient><linearGradient id="A64"><stop offset="0" stop-color="#0046ff"/><stop offset=".083" stop-color="#0053ff"/><stop offset=".25" stop-color="#0057ff"/><stop offset=".467" stop-color="#0073ff"/><stop offset=".583" stop-color="#006fff"/><stop offset=".783" stop-color="#0054ff"/><stop offset=".95" stop-color="#0050ff"/><stop offset="1" stop-color="#0046ff"/></linearGradient><linearGradient id="A65"><stop offset="0" stop-color="#0043ff"/><stop offset=".24" stop-color="#0050ff"/><stop offset=".46" stop-color="#006aff"/><stop offset=".58" stop-color="#0067ff"/><stop offset=".84" stop-color="#0049ff"/><stop offset="1" stop-color="#0043ff"/></linearGradient><linearGradient id="A66"><stop offset="0" stop-color="#0037ff"/><stop offset=".472" stop-color="#005fff"/><stop offset=".639" stop-color="#0058ff"/><stop offset="1" stop-color="#0037ff"/></linearGradient><clipPath id="clipA"><ellipse cx="158.6" cy="185.3" rx="101.65" ry="99.10"/></clipPath></defs>
<g clip-path="url(#clipA)"><rect x="131.5" y="85.45" width="54.2" height="4.08" fill="url(#A0)"/><rect x="121.0" y="88.43" width="75.3" height="4.08" fill="url(#A1)"/><rect x="113.4" y="91.41" width="90.4" height="4.08" fill="url(#A2)"/><rect x="107.4" y="94.39" width="102.4" height="4.08" fill="url(#A3)"/><rect x="101.4" y="97.37" width="114.4" height="4.08" fill="url(#A4)"/><rect x="96.9" y="100.35" width="123.5" height="4.08" fill="url(#A5)"/><rect x="93.8" y="103.33" width="129.5" height="4.08" fill="url(#A6)"/><rect x="89.3" y="106.31" width="138.5" height="4.08" fill="url(#A7)"/><rect x="86.3" y="109.29" width="144.6" height="4.08" fill="url(#A8)"/><rect x="83.3" y="112.28" width="150.6" height="4.08" fill="url(#A9)"/><rect x="80.3" y="115.26" width="156.6" height="4.08" fill="url(#A10)"/><rect x="77.3" y="118.24" width="162.6" height="4.08" fill="url(#A11)"/><rect x="74.3" y="121.22" width="168.7" height="4.08" fill="url(#A12)"/><rect x="72.8" y="124.20" width="171.7" height="4.08" fill="url(#A13)"/><rect x="69.8" y="127.18" width="177.7" height="4.08" fill="url(#A14)"/><rect x="68.2" y="130.16" width="180.7" height="4.08" fill="url(#A15)"/><rect x="66.7" y="133.14" width="183.7" height="4.08" fill="url(#A16)"/><rect x="65.2" y="136.12" width="186.7" height="4.08" fill="url(#A17)"/><rect x="63.7" y="139.10" width="189.7" height="4.08" fill="url(#A18)"/><rect x="62.2" y="142.08" width="192.8" height="4.08" fill="url(#A19)"/><rect x="60.7" y="145.06" width="195.8" height="4.08" fill="url(#A20)"/><rect x="59.2" y="148.04" width="198.8" height="4.08" fill="url(#A21)"/><rect x="59.2" y="151.02" width="198.8" height="4.08" fill="url(#A22)"/><rect x="57.7" y="154.00" width="201.8" height="4.08" fill="url(#A23)"/><rect x="56.2" y="156.98" width="204.8" height="4.08" fill="url(#A24)"/><rect x="56.2" y="159.96" width="204.8" height="4.08" fill="url(#A25)"/><rect x="56.2" y="162.95" width="204.8" height="4.08" fill="url(#A26)"/><rect x="56.2" y="165.93" width="204.8" height="4.08" fill="url(#A27)"/><rect x="56.2" y="168.91" width="204.8" height="4.08" fill="url(#A28)"/><rect x="56.2" y="171.89" width="204.8" height="4.08" fill="url(#A29)"/><rect x="56.2" y="174.87" width="204.8" height="4.08" fill="url(#A30)"/><rect x="56.2" y="177.85" width="204.8" height="4.08" fill="url(#A31)"/><rect x="56.2" y="180.83" width="204.8" height="4.08" fill="url(#A32)"/><rect x="56.2" y="183.81" width="204.8" height="4.08" fill="url(#A33)"/><rect x="56.2" y="186.79" width="204.8" height="4.08" fill="url(#A34)"/><rect x="56.2" y="189.77" width="204.8" height="4.08" fill="url(#A35)"/><rect x="56.2" y="192.75" width="204.8" height="4.08" fill="url(#A36)"/><rect x="56.2" y="195.73" width="204.8" height="4.08" fill="url(#A37)"/><rect x="56.2" y="198.71" width="204.8" height="4.08" fill="url(#A38)"/><rect x="56.2" y="201.69" width="204.8" height="4.08" fill="url(#A39)"/><rect x="56.2" y="204.67" width="204.8" height="4.08" fill="url(#A40)"/><rect x="56.2" y="207.65" width="204.8" height="4.08" fill="url(#A41)"/><rect x="56.2" y="210.64" width="204.8" height="4.08" fill="url(#A42)"/><rect x="57.7" y="213.62" width="201.8" height="4.08" fill="url(#A43)"/><rect x="59.2" y="216.60" width="198.8" height="4.08" fill="url(#A44)"/><rect x="59.2" y="219.58" width="198.8" height="4.08" fill="url(#A45)"/><rect x="60.7" y="222.56" width="195.8" height="4.08" fill="url(#A46)"/><rect x="62.2" y="225.54" width="192.8" height="4.08" fill="url(#A47)"/><rect x="63.7" y="228.52" width="189.7" height="4.08" fill="url(#A48)"/><rect x="65.2" y="231.50" width="186.7" height="4.08" fill="url(#A49)"/><rect x="66.7" y="234.48" width="183.7" height="4.08" fill="url(#A50)"/><rect x="68.2" y="237.46" width="180.7" height="4.08" fill="url(#A51)"/><rect x="69.8" y="240.44" width="177.7" height="4.08" fill="url(#A52)"/><rect x="72.8" y="243.42" width="171.7" height="4.08" fill="url(#A53)"/><rect x="74.3" y="246.40" width="168.7" height="4.08" fill="url(#A54)"/><rect x="77.3" y="249.38" width="162.6" height="4.08" fill="url(#A55)"/><rect x="80.3" y="252.36" width="156.6" height="4.08" fill="url(#A56)"/><rect x="83.3" y="255.34" width="150.6" height="4.08" fill="url(#A57)"/><rect x="86.3" y="258.32" width="144.6" height="4.08" fill="url(#A58)"/><rect x="89.3" y="261.31" width="138.5" height="4.08" fill="url(#A59)"/><rect x="93.8" y="264.29" width="129.5" height="4.08" fill="url(#A60)"/><rect x="96.9" y="267.27" width="123.5" height="4.08" fill="url(#A61)"/><rect x="101.4" y="270.25" width="114.4" height="4.08" fill="url(#A62)"/><rect x="107.4" y="273.23" width="102.4" height="4.08" fill="url(#A63)"/><rect x="113.4" y="276.21" width="90.4" height="4.08" fill="url(#A64)"/><rect x="121.0" y="279.19" width="75.3" height="4.08" fill="url(#A65)"/><rect x="131.5" y="282.17" width="54.2" height="4.08" fill="url(#A66)"/></g>
<g fill="none" stroke="#111" stroke-width="1.1" stroke-linejoin="round"><path d="M58.2 166.4C57.8 165.8 56.5 163.6 55.7 162.9C54.9 162.2 54.1 162.0 53.3 162.0C52.5 162.0 51.5 162.3 50.8 162.9C50.1 163.5 49.4 164.2 49.0 165.4C48.6 166.6 48.6 167.8 48.6 170.3C48.6 172.8 49.0 177.2 49.1 180.2C49.2 183.2 49.2 185.3 49.0 188.1C48.8 190.9 48.3 194.4 48.1 197.0C47.9 199.6 47.7 201.9 47.8 203.9C47.9 205.9 48.2 207.5 48.8 208.9C49.4 210.3 50.4 211.6 51.3 212.3C52.2 213.0 53.3 213.3 54.3 213.3C55.3 213.3 56.3 212.9 57.2 212.3C58.1 211.7 59.2 210.3 59.6 209.9"/><path d="M259.0 166.4C259.4 165.8 260.7 163.6 261.5 162.9C262.3 162.2 263.1 162.0 263.9 162.0C264.7 162.0 265.7 162.3 266.4 162.9C267.1 163.5 267.8 164.2 268.2 165.4C268.6 166.6 268.6 167.8 268.6 170.3C268.6 172.8 268.2 177.2 268.1 180.2C268.0 183.2 268.0 185.3 268.2 188.1C268.4 190.9 268.9 194.4 269.1 197.0C269.3 199.6 269.5 201.9 269.4 203.9C269.3 205.9 269.0 207.5 268.4 208.9C267.8 210.3 266.8 211.6 265.9 212.3C265.0 213.0 263.9 213.3 262.9 213.3C261.9 213.3 260.9 212.9 260.0 212.3C259.1 211.7 258.0 210.3 257.6 209.9"/><path d="M141.0 87.1L153.6 73.7C155.4 71.7 156.8 71.7 158.6 71.7C160.4 71.7 161.8 71.7 163.6 73.7L176.2 87.1"/></g>
<ellipse cx="158.6" cy="185.3" rx="101.65" ry="99.10" fill="none" stroke="#0a0a14" stroke-width="1.5"/>
<g class="el" font-size="6.7" fill="#05051a" fill-opacity=".9"><circle cx="131.8" cy="105.0" r="0.95"/><text x="133.9" y="107.3">Fp1</text><circle cx="185.4" cy="105.0" r="0.95"/><text x="187.5" y="107.3">Fp2</text><circle cx="88.5" cy="135.7" r="0.95"/><text x="90.6" y="138.0">F7</text><circle cx="228.7" cy="135.7" r="0.95"/><text x="230.8" y="138.0">F8</text><circle cx="72.0" cy="185.3" r="0.95"/><text x="74.1" y="187.6">T7</text><circle cx="245.2" cy="185.3" r="0.95"/><text x="247.3" y="187.6">T8</text><circle cx="88.5" cy="234.9" r="0.95"/><text x="90.6" y="237.2">P7</text><circle cx="228.7" cy="234.9" r="0.95"/><text x="230.8" y="237.2">P8</text><circle cx="131.8" cy="265.6" r="0.95"/><text x="133.9" y="267.9">O1</text><circle cx="185.4" cy="265.6" r="0.95"/><text x="187.5" y="267.9">O2</text><circle cx="123.3" cy="142.8" r="0.95"/><text x="125.4" y="145.1">F3</text><circle cx="193.9" cy="142.8" r="0.95"/><text x="196.0" y="145.1">F4</text><circle cx="158.6" cy="143.0" r="0.95"/><text x="160.7" y="145.3">Fz</text><circle cx="158.6" cy="185.3" r="0.95"/><text x="160.7" y="187.6">Cz</text><circle cx="158.6" cy="227.6" r="0.95"/><text x="160.7" y="229.9">Pz</text><circle cx="115.3" cy="185.3" r="0.95"/><text x="117.4" y="187.6">C3</text><circle cx="201.9" cy="185.3" r="0.95"/><text x="204.0" y="187.6">C4</text><circle cx="123.3" cy="227.8" r="0.95"/><text x="125.4" y="230.1">P3</text><circle cx="193.9" cy="227.8" r="0.95"/><text x="196.0" y="230.1">P4</text></g>
<!-- head B -->
<defs><linearGradient id="B0"><stop offset="0" stop-color="#0015ff"/><stop offset=".25" stop-color="#0016ff"/><stop offset=".583" stop-color="#0006ff"/><stop offset="1" stop-color="#0000ff"/></linearGradient><linearGradient id="B1"><stop offset="0" stop-color="#0009ff"/><stop offset=".18" stop-color="#0020ff"/><stop offset=".36" stop-color="#0020ff"/><stop offset=".94" stop-color="#0000fd"/><stop offset="1" stop-color="#0000fb"/></linearGradient><linearGradient id="B2"><stop offset="0" stop-color="#0005ff"/><stop offset=".1" stop-color="#0012ff"/><stop offset=".233" stop-color="#002dff"/><stop offset=".367" stop-color="#0031ff"/><stop offset=".7" stop-color="#0015ff"/><stop offset=".883" stop-color="#0000fd"/><stop offset="1" stop-color="#0000f8"/></linearGradient><linearGradient id="B3"><stop offset="0" stop-color="#0005ff"/><stop offset=".088" stop-color="#000dff"/><stop offset=".265" stop-color="#003cff"/><stop offset=".368" stop-color="#0044ff"/><stop offset=".574" stop-color="#0035ff"/><stop offset=".853" stop-color="#0000ff"/><stop offset=".971" stop-color="#0000f7"/><stop offset="1" stop-color="#0000f8"/></linearGradient><linearGradient id="B4"><stop offset="0" stop-color="#0006ff"/><stop offset=".092" stop-color="#000cff"/><stop offset=".184" stop-color="#0027ff"/><stop offset=".289" stop-color="#004eff"/><stop offset=".395" stop-color="#0058ff"/><stop offset=".526" stop-color="#0051ff"/><stop offset=".658" stop-color="#0034ff"/><stop offset=".829" stop-color="#0002ff"/><stop offset=".961" stop-color="#0000f5"/><stop offset="1" stop-color="#0000f7"/></linearGradient><linearGradient id="B5"><stop offset="0" stop-color="#0007ff"/><stop offset=".085" stop-color="#000aff"/><stop offset=".171" stop-color="#0022ff"/><stop offset=".293" stop-color="#005dff"/><stop offset=".402" stop-color="#006fff"/><stop offset=".5" stop-color="#006eff"/><stop offset=".585" stop-color="#005dff"/><stop offset=".805" stop-color="#0008ff"/><stop offset=".854" stop-color="#0000fb"/><stop offset=".951" stop-color="#0000f4"/><stop offset="1" stop-color="#0000f7"/></linearGradient><linearGradient id="B6"><stop offset="0" stop-color="#0007ff"/><stop offset=".081" stop-color="#000aff"/><stop offset=".151" stop-color="#001cff"/><stop offset=".244" stop-color="#004dff"/><stop offset=".302" stop-color="#006eff"/><stop offset=".407" stop-color="#0087ff"/><stop offset=".5" stop-color="#008bff"/><stop offset=".57" stop-color="#007bff"/><stop offset=".663" stop-color="#004fff"/><stop offset=".779" stop-color="#0014ff"/><stop offset=".837" stop-color="#0000ff"/><stop offset=".93" stop-color="#0000f3"/><stop offset="1" stop-color="#0000f6"/></linearGradient><linearGradient id="B7"><stop offset="0" stop-color="#0008ff"/><stop offset=".076" stop-color="#0008ff"/><stop offset=".152" stop-color="#001aff"/><stop offset=".228" stop-color="#0042ff"/><stop offset=".315" stop-color="#007cff"/><stop offset=".413" stop-color="#009fff"/><stop offset=".478" stop-color="#00aaff"/><stop offset=".533" stop-color="#00a4ff"/><stop offset=".598" stop-color="#0088ff"/><stop offset=".75" stop-color="#0024ff"/><stop offset=".826" stop-color="#0002ff"/><stop offset=".924" stop-color="#0000f2"/><stop offset="1" stop-color="#0000f7"/></linearGradient><linearGradient id="B8"><stop offset="0" stop-color="#0009ff"/><stop offset=".083" stop-color="#0009ff"/><stop offset=".167" stop-color="#0020ff"/><stop offset=".24" stop-color="#004bff"/><stop offset=".333" stop-color="#008fff"/><stop offset=".427" stop-color="#00bdff"/><stop offset=".49" stop-color="#00cbff"/><stop offset=".531" stop-color="#00c6ff"/><stop offset=".583" stop-color="#00acff"/><stop offset=".74" stop-color="#002fff"/><stop offset=".802" stop-color="#000bff"/><stop offset=".844" stop-color="#0000fc"/><stop offset=".938" stop-color="#0000f3"/><stop offset="1" stop-color="#0000f8"/></linearGradient><linearGradient id="B9"><stop offset="0" stop-color="#000bff"/><stop offset=".09" stop-color="#000bff"/><stop offset=".16" stop-color="#001dff"/><stop offset=".23" stop-color="#0044ff"/><stop offset=".38" stop-color="#00b9ff"/><stop offset=".44" stop-color="#00dfff"/><stop offset=".49" stop-color="#00efff"/><stop offset=".53" stop-color="#00eaff"/><stop offset=".58" stop-color="#00cbff"/><stop offset=".73" stop-color="#003aff"/><stop offset=".79" stop-color="#0012ff"/><stop offset=".83" stop-color="#0001ff"/><stop offset=".91" stop-color="#0000f4"/><stop offset="1" stop-color="#0000fb"/></linearGradient><linearGradient id="B10"><stop offset="0" stop-color="#000eff"/><stop offset=".077" stop-color="#000aff"/><stop offset=".154" stop-color="#001aff"/><stop offset=".221" stop-color="#003dff"/><stop offset=".288" stop-color="#0074ff"/><stop offset=".433" stop-color="#00f8ff"/><stop offset=".442" stop-color="#00ffff"/><stop offset=".49" stop-color="#16ffe9"/><stop offset=".529" stop-color="#11ffee"/><stop offset=".558" stop-color="#00feff"/><stop offset=".615" stop-color="#00c1ff"/><stop offset=".712" stop-color="#004fff"/><stop offset=".769" stop-color="#001eff"/><stop offset=".827" stop-color="#0002ff"/><stop offset=".913" stop-color="#0000f6"/><stop offset="1" stop-color="#0000ff"/></linearGradient><linearGradient id="B11"><stop offset="0" stop-color="#0011ff"/><stop offset=".083" stop-color="#000dff"/><stop offset=".157" stop-color="#001bff"/><stop offset=".222" stop-color="#003cff"/><stop offset=".287" stop-color="#0072ff"/><stop offset=".398" stop-color="#00edff"/><stop offset=".417" stop-color="#05fffa"/><stop offset=".454" stop-color="#2bffd4"/><stop offset=".491" stop-color="#3effc1"/><stop offset=".519" stop-color="#3cffc3"/><stop offset=".546" stop-color="#2cffd3"/><stop offset=".583" stop-color="#03fffc"/><stop offset=".611" stop-color="#00dcff"/><stop offset=".694" stop-color="#0067ff"/><stop offset=".741" stop-color="#0034ff"/><stop offset=".787" stop-color="#0012ff"/><stop offset=".833" stop-color="#0001ff"/><stop offset=".926" stop-color="#0000fb"/><stop offset=".991" stop-color="#0003ff"/><stop offset="1" stop-color="#0005ff"/></linearGradient><linearGradient id="B12"><stop offset="0" stop-color="#0014ff"/><stop offset=".089" stop-color="#0010ff"/><stop offset=".161" stop-color="#001dff"/><stop offset=".214" stop-color="#0035ff"/><stop offset=".268" stop-color="#005eff"/><stop offset=".33" stop-color="#00a3ff"/><stop offset=".393" stop-color="#00f8ff"/><stop offset=".402" stop-color="#07fff8"/><stop offset=".446" stop-color="#48ffb7"/><stop offset=".482" stop-color="#66ff99"/><stop offset=".509" stop-color="#69ff96"/><stop offset=".536" stop-color="#5bffa4"/><stop offset=".562" stop-color="#3dffc2"/><stop offset=".598" stop-color="#07fff8"/><stop offset=".607" stop-color="#00f7ff"/><stop offset=".688" stop-color="#0074ff"/><stop offset=".732" stop-color="#003bff"/><stop offset=".777" stop-color="#0017ff"/><stop offset=".821" stop-color="#0005ff"/><stop offset=".902" stop-color="#0000ff"/><stop offset="1" stop-color="#0008ff"/></linearGradient><linearGradient id="B13"><stop offset="0" stop-color="#0015ff"/><stop offset=".088" stop-color="#0013ff"/><stop offset=".167" stop-color="#0021ff"/><stop offset=".219" stop-color="#0039ff"/><stop offset=".272" stop-color="#0063ff"/><stop offset=".325" stop-color="#00a2ff"/><stop offset=".386" stop-color="#02fffd"/><stop offset=".439" stop-color="#61ff9e"/><stop offset=".465" stop-color="#83ff7c"/><stop offset=".491" stop-color="#94ff6b"/><stop offset=".518" stop-color="#91ff6e"/><stop offset=".544" stop-color="#7aff85"/><stop offset=".579" stop-color="#44ffbb"/><stop offset=".614" stop-color="#02fffd"/><stop offset=".693" stop-color="#0071ff"/><stop offset=".728" stop-color="#0041ff"/><stop offset=".763" stop-color="#0020ff"/><stop offset=".807" stop-color="#000bff"/><stop offset=".868" stop-color="#0004ff"/><stop offset="1" stop-color="#0009ff"/></linearGradient><linearGradient id="B14"><stop offset="0" stop-color="#0016ff"/><stop offset=".093" stop-color="#0016ff"/><stop offset=".169" stop-color="#0022ff"/><stop offset=".237" stop-color="#0042ff"/><stop offset=".288" stop-color="#0071ff"/><stop offset=".339" stop-color="#00b8ff"/><stop offset=".373" stop-color="#00f5ff"/><stop offset=".381" stop-color="#07fff8"/><stop offset=".441" stop-color="#85ff7a"/><stop offset=".466" stop-color="#acff53"/><stop offset=".492" stop-color="#beff41"/><stop offset=".517" stop-color="#bbff44"/><stop offset=".542" stop-color="#a1ff5e"/><stop offset=".576" stop-color="#64ff9b"/><stop offset=".619" stop-color="#08fff7"/><stop offset=".627" stop-color="#00f4ff"/><stop offset=".678" stop-color="#0089ff"/><stop offset=".712" stop-color="#0050ff"/><stop offset=".746" stop-color="#0029ff"/><stop offset=".788" stop-color="#0010ff"/><stop offset=".847" stop-color="#0009ff"/><stop offset="1" stop-color="#000aff"/></linearGradient><linearGradient id="B15"><stop offset="0" stop-color="#0015ff"/><stop offset=".083" stop-color="#0017ff"/><stop offset=".183" stop-color="#0028ff"/><stop offset=".242" stop-color="#0045ff"/><stop offset=".283" stop-color="#006cff"/><stop offset=".317" stop-color="#0098ff"/><stop offset=".35" stop-color="#00d1ff"/><stop offset=".367" stop-color="#00f3ff"/><stop offset=".375" stop-color="#07fff8"/><stop offset=".442" stop-color="#a6ff59"/><stop offset=".467" stop-color="#d1ff2e"/><stop offset=".492" stop-color="#e4ff1b"/><stop offset=".517" stop-color="#e0ff1f"/><stop offset=".533" stop-color="#d1ff2e"/><stop offset=".558" stop-color="#a6ff59"/><stop offset=".6" stop-color="#45ffba"/><stop offset=".625" stop-color="#07fff8"/><stop offset=".633" stop-color="#00f2ff"/><stop offset=".683" stop-color="#007fff"/><stop offset=".708" stop-color="#0053ff"/><stop offset=".742" stop-color="#002bff"/><stop offset=".783" stop-color="#0012ff"/><stop offset=".842" stop-color="#000cff"/><stop offset=".917" stop-color="#000eff"/><stop offset="1" stop-color="#0008ff"/></linearGradient><linearGradient id="B16"><stop offset="0" stop-color="#0014ff"/><stop offset=".082" stop-color="#0018ff"/><stop offset=".197" stop-color="#002dff"/><stop offset=".246" stop-color="#0048ff"/><stop offset=".287" stop-color="#006eff"/><stop offset=".328" stop-color="#00aaff"/><stop offset=".369" stop-color="#00ffff"/><stop offset=".443" stop-color="#c4ff3b"/><stop offset=".467" stop-color="#efff10"/><stop offset=".484" stop-color="#feff01"/><stop offset=".516" stop-color="#feff01"/><stop offset=".533" stop-color="#efff10"/><stop offset=".557" stop-color="#c4ff3b"/><stop offset=".631" stop-color="#01fffe"/><stop offset=".68" stop-color="#0082ff"/><stop offset=".705" stop-color="#0053ff"/><stop offset=".738" stop-color="#002bff"/><stop offset=".77" stop-color="#0016ff"/><stop offset=".82" stop-color="#000eff"/><stop offset=".893" stop-color="#0013ff"/><stop offset=".992" stop-color="#0006ff"/><stop offset="1" stop-color="#0006ff"/></linearGradient><linearGradient id="B17"><stop offset="0" stop-color="#0013ff"/><stop offset=".081" stop-color="#0017ff"/><stop offset=".202" stop-color="#002fff"/><stop offset=".25" stop-color="#0049ff"/><stop offset=".29" stop-color="#0070ff"/><stop offset=".323" stop-color="#00a0ff"/><stop offset=".355" stop-color="#00e1ff"/><stop offset=".363" stop-color="#00f5ff"/><stop offset=".371" stop-color="#0afff5"/><stop offset=".411" stop-color="#7fff80"/><stop offset=".435" stop-color="#c7ff38"/><stop offset=".452" stop-color="#edff12"/><stop offset=".46" stop-color="#fbff04"/><stop offset=".484" stop-color="#ffea00"/><stop offset=".508" stop-color="#ffe700"/><stop offset=".532" stop-color="#fff800"/><stop offset=".54" stop-color="#fbff04"/><stop offset=".556" stop-color="#dbff24"/><stop offset=".589" stop-color="#7fff80"/><stop offset=".629" stop-color="#0afff5"/><stop offset=".637" stop-color="#00f2ff"/><stop offset=".669" stop-color="#0097ff"/><stop offset=".694" stop-color="#0060ff"/><stop offset=".718" stop-color="#003bff"/><stop offset=".75" stop-color="#001eff"/><stop offset=".79" stop-color="#0010ff"/><stop offset=".895" stop-color="#0012ff"/><stop offset=".992" stop-color="#0003ff"/><stop offset="1" stop-color="#0003ff"/></linearGradient><linearGradient id="B18"><stop offset="0" stop-color="#0012ff"/><stop offset=".079" stop-color="#0016ff"/><stop offset=".198" stop-color="#002eff"/><stop offset=".246" stop-color="#0045ff"/><stop offset=".294" stop-color="#0071ff"/><stop offset=".325" stop-color="#00a2ff"/><stop offset=".357" stop-color="#00e7ff"/><stop offset=".365" stop-color="#00fbff"/><stop offset=".373" stop-color="#11ffee"/><stop offset=".421" stop-color="#a5ff5a"/><stop offset=".444" stop-color="#ebff14"/><stop offset=".452" stop-color="#fcff03"/><stop offset=".484" stop-color="#ffd900"/><stop offset=".5" stop-color="#ffd300"/><stop offset=".516" stop-color="#ffd900"/><stop offset=".548" stop-color="#fcff03"/><stop offset=".563" stop-color="#d6ff29"/><stop offset=".627" stop-color="#0ffff0"/><stop offset=".635" stop-color="#00f6ff"/><stop offset=".667" stop-color="#0097ff"/><stop offset=".69" stop-color="#005eff"/><stop offset=".714" stop-color="#003aff"/><stop offset=".746" stop-color="#001eff"/><stop offset=".786" stop-color="#0011ff"/><stop offset=".889" stop-color="#0011ff"/><stop offset=".992" stop-color="#0000ff"/><stop offset="1" stop-color="#0000ff"/></linearGradient><linearGradient id="B19"><stop offset="0" stop-color="#0010ff"/><stop offset=".086" stop-color="#0015ff"/><stop offset=".211" stop-color="#0031ff"/><stop offset=".258" stop-color="#004cff"/><stop offset=".297" stop-color="#0072ff"/><stop offset=".328" stop-color="#00a3ff"/><stop offset=".359" stop-color="#00e9ff"/><stop offset=".367" stop-color="#00feff"/><stop offset=".398" stop-color="#5dffa2"/><stop offset=".437" stop-color="#dbff24"/><stop offset=".453" stop-color="#fffd00"/><stop offset=".477" stop-color="#ffd900"/><stop offset=".492" stop-color="#ffc900"/><stop offset=".508" stop-color="#ffc900"/><stop offset=".539" stop-color="#ffee00"/><stop offset=".547" stop-color="#fffd00"/><stop offset=".562" stop-color="#dbff24"/><stop offset=".625" stop-color="#11ffee"/><stop offset=".633" stop-color="#00f7ff"/><stop offset=".672" stop-color="#0082ff"/><stop offset=".687" stop-color="#005eff"/><stop offset=".711" stop-color="#003aff"/><stop offset=".742" stop-color="#001fff"/><stop offset=".781" stop-color="#0011ff"/><stop offset=".898" stop-color="#000cff"/><stop offset=".977" stop-color="#0000fd"/><stop offset="1" stop-color="#0000fc"/></linearGradient><linearGradient id="B20"><stop offset="0" stop-color="#000fff"/><stop offset=".085" stop-color="#0013ff"/><stop offset=".208" stop-color="#002fff"/><stop offset=".262" stop-color="#004cff"/><stop offset=".3" stop-color="#0073ff"/><stop offset=".331" stop-color="#00a4ff"/><stop offset=".362" stop-color="#00e8ff"/><stop offset=".369" stop-color="#00fdff"/><stop offset=".385" stop-color="#2affd5"/><stop offset=".438" stop-color="#d9ff26"/><stop offset=".454" stop-color="#fffe00"/><stop offset=".477" stop-color="#ffdc00"/><stop offset=".492" stop-color="#ffcf00"/><stop offset=".508" stop-color="#ffcf00"/><stop offset=".531" stop-color="#ffe500"/><stop offset=".546" stop-color="#fffe00"/><stop offset=".562" stop-color="#d9ff26"/><stop offset=".623" stop-color="#11ffee"/><stop offset=".631" stop-color="#00f7ff"/><stop offset=".669" stop-color="#0085ff"/><stop offset=".692" stop-color="#0054ff"/><stop offset=".723" stop-color="#002cff"/><stop offset=".762" stop-color="#0015ff"/><stop offset=".823" stop-color="#000eff"/><stop offset=".915" stop-color="#0005ff"/><stop offset=".969" stop-color="#0000fb"/><stop offset="1" stop-color="#0000fa"/></linearGradient><linearGradient id="B21"><stop offset="0" stop-color="#000fff"/><stop offset=".076" stop-color="#0011ff"/><stop offset=".205" stop-color="#002cff"/><stop offset=".258" stop-color="#0047ff"/><stop offset=".295" stop-color="#006aff"/><stop offset=".326" stop-color="#0095ff"/><stop offset=".356" stop-color="#00d2ff"/><stop offset=".371" stop-color="#00f8ff"/><stop offset=".379" stop-color="#0efff1"/><stop offset=".417" stop-color="#85ff7a"/><stop offset=".439" stop-color="#d0ff2f"/><stop offset=".455" stop-color="#f6ff09"/><stop offset=".462" stop-color="#fffb00"/><stop offset=".485" stop-color="#ffe100"/><stop offset=".508" stop-color="#ffde00"/><stop offset=".523" stop-color="#ffe700"/><stop offset=".538" stop-color="#fffb00"/><stop offset=".545" stop-color="#f6ff09"/><stop offset=".561" stop-color="#d0ff2f"/><stop offset=".621" stop-color="#0dfff2"/><stop offset=".629" stop-color="#00f5ff"/><stop offset=".667" stop-color="#0088ff"/><stop offset=".689" stop-color="#0058ff"/><stop offset=".72" stop-color="#002fff"/><stop offset=".765" stop-color="#0013ff"/><stop offset=".841" stop-color="#000bff"/><stop offset=".939" stop-color="#0000fd"/><stop offset="1" stop-color="#0000f9"/></linearGradient><linearGradient id="B22"><stop offset="0" stop-color="#000eff"/><stop offset=".083" stop-color="#0012ff"/><stop offset=".205" stop-color="#002cff"/><stop offset=".258" stop-color="#0047ff"/><stop offset=".295" stop-color="#006aff"/><stop offset=".326" stop-color="#0093ff"/><stop offset=".356" stop-color="#00cdff"/><stop offset=".371" stop-color="#00f1ff"/><stop offset=".379" stop-color="#05fffa"/><stop offset=".424" stop-color="#8eff71"/><stop offset=".447" stop-color="#d0ff2f"/><stop offset=".462" stop-color="#f0ff0f"/><stop offset=".47" stop-color="#fbff04"/><stop offset=".492" stop-color="#fff000"/><stop offset=".515" stop-color="#fff400"/><stop offset=".53" stop-color="#fbff04"/><stop offset=".545" stop-color="#e1ff1e"/><stop offset=".568" stop-color="#a6ff59"/><stop offset=".621" stop-color="#06fff9"/><stop offset=".636" stop-color="#00d9ff"/><stop offset=".667" stop-color="#008aff"/><stop offset=".689" stop-color="#005bff"/><stop offset=".72" stop-color="#0032ff"/><stop offset=".758" stop-color="#0017ff"/><stop offset=".818" stop-color="#000bff"/><stop offset=".939" stop-color="#0000fc"/><stop offset="1" stop-color="#0000f8"/></linearGradient><linearGradient id="B23"><stop offset="0" stop-color="#000fff"/><stop offset=".075" stop-color="#0010ff"/><stop offset=".194" stop-color="#0027ff"/><stop offset=".254" stop-color="#0042ff"/><stop offset=".299" stop-color="#0068ff"/><stop offset=".336" stop-color="#009cff"/><stop offset=".366" stop-color="#00d6ff"/><stop offset=".381" stop-color="#00faff"/><stop offset=".396" stop-color="#22ffdd"/><stop offset=".44" stop-color="#a2ff5d"/><stop offset=".463" stop-color="#d5ff2a"/><stop offset=".478" stop-color="#eaff15"/><stop offset=".5" stop-color="#f5ff0a"/><stop offset=".522" stop-color="#eaff15"/><stop offset=".545" stop-color="#c6ff39"/><stop offset=".567" stop-color="#8fff70"/><stop offset=".612" stop-color="#0ffff0"/><stop offset=".619" stop-color="#00faff"/><stop offset=".657" stop-color="#0099ff"/><stop offset=".687" stop-color="#005dff"/><stop offset=".716" stop-color="#0034ff"/><stop offset=".754" stop-color="#0018ff"/><stop offset=".813" stop-color="#0009ff"/><stop offset=".94" stop-color="#0000fb"/><stop offset="1" stop-color="#0000f9"/></linearGradient><linearGradient id="B24"><stop offset="0" stop-color="#000fff"/><stop offset=".096" stop-color="#0012ff"/><stop offset=".206" stop-color="#0029ff"/><stop offset=".265" stop-color="#0046ff"/><stop offset=".309" stop-color="#006fff"/><stop offset=".346" stop-color="#00a3ff"/><stop offset=".382" stop-color="#00ecff"/><stop offset=".39" stop-color="#00feff"/><stop offset=".449" stop-color="#96ff69"/><stop offset=".471" stop-color="#beff41"/><stop offset=".485" stop-color="#ceff31"/><stop offset=".507" stop-color="#d1ff2e"/><stop offset=".522" stop-color="#c7ff38"/><stop offset=".544" stop-color="#a5ff5a"/><stop offset=".574" stop-color="#5fffa0"/><stop offset=".61" stop-color="#00feff"/><stop offset=".654" stop-color="#0094ff"/><stop offset=".691" stop-color="#0051ff"/><stop offset=".728" stop-color="#0028ff"/><stop offset=".765" stop-color="#0013ff"/><stop offset=".831" stop-color="#0006ff"/><stop offset=".949" stop-color="#0000fa"/><stop offset="1" stop-color="#0000fa"/></linearGradient><linearGradient id="B25"><stop offset="0" stop-color="#000fff"/><stop offset=".11" stop-color="#0014ff"/><stop offset=".213" stop-color="#002cff"/><stop offset=".265" stop-color="#0045ff"/><stop offset=".309" stop-color="#006cff"/><stop offset=".346" stop-color="#009cff"/><stop offset=".39" stop-color="#00ecff"/><stop offset=".397" stop-color="#00fcff"/><stop offset=".434" stop-color="#52ffad"/><stop offset=".463" stop-color="#8dff72"/><stop offset=".485" stop-color="#a6ff59"/><stop offset=".507" stop-color="#a9ff56"/><stop offset=".529" stop-color="#97ff68"/><stop offset=".551" stop-color="#72ff8d"/><stop offset=".603" stop-color="#00fcff"/><stop offset=".654" stop-color="#008dff"/><stop offset=".691" stop-color="#0050ff"/><stop offset=".728" stop-color="#0029ff"/><stop offset=".765" stop-color="#0013ff"/><stop offset=".831" stop-color="#0006ff"/><stop offset=".963" stop-color="#0000fa"/><stop offset="1" stop-color="#0000fa"/></linearGradient><linearGradient id="B26"><stop offset="0" stop-color="#000fff"/><stop offset=".125" stop-color="#0017ff"/><stop offset=".221" stop-color="#002fff"/><stop offset=".272" stop-color="#0049ff"/><stop offset=".316" stop-color="#0070ff"/><stop offset=".36" stop-color="#00a9ff"/><stop offset=".404" stop-color="#00f5ff"/><stop offset=".412" stop-color="#05fffa"/><stop offset=".456" stop-color="#5affa5"/><stop offset=".478" stop-color="#75ff8a"/><stop offset=".5" stop-color="#7fff80"/><stop offset=".522" stop-color="#75ff8a"/><stop offset=".544" stop-color="#5affa5"/><stop offset=".581" stop-color="#14ffeb"/><stop offset=".588" stop-color="#05fffa"/><stop offset=".603" stop-color="#00e6ff"/><stop offset=".662" stop-color="#0079ff"/><stop offset=".699" stop-color="#0045ff"/><stop offset=".735" stop-color="#0023ff"/><stop offset=".779" stop-color="#000fff"/><stop offset=".875" stop-color="#0002ff"/><stop offset="1" stop-color="#0000fb"/></linearGradient><linearGradient id="B27"><stop offset="0" stop-color="#0010ff"/><stop offset=".125" stop-color="#0018ff"/><stop offset=".228" stop-color="#0031ff"/><stop offset=".287" stop-color="#0052ff"/><stop offset=".331" stop-color="#007aff"/><stop offset=".382" stop-color="#00bdff"/><stop offset=".419" stop-color="#00f8ff"/><stop offset=".426" stop-color="#06fff9"/><stop offset=".463" stop-color="#3cffc3"/><stop offset=".485" stop-color="#4fffb0"/><stop offset=".507" stop-color="#52ffad"/><stop offset=".529" stop-color="#44ffbb"/><stop offset=".551" stop-color="#2affd5"/><stop offset=".574" stop-color="#06fff9"/><stop offset=".581" stop-color="#00f8ff"/><stop offset=".654" stop-color="#007cff"/><stop offset=".699" stop-color="#0042ff"/><stop offset=".735" stop-color="#0023ff"/><stop offset=".787" stop-color="#000dff"/><stop offset=".926" stop-color="#0000ff"/><stop offset="1" stop-color="#0000fc"/></linearGradient><linearGradient id="B28"><stop offset="0" stop-color="#0011ff"/><stop offset=".132" stop-color="#001bff"/><stop offset=".228" stop-color="#0031ff"/><stop offset=".294" stop-color="#0055ff"/><stop offset=".346" stop-color="#0083ff"/><stop offset=".404" stop-color="#00ccff"/><stop offset=".441" stop-color="#00feff"/><stop offset=".478" stop-color="#22ffdd"/><stop offset=".5" stop-color="#29ffd6"/><stop offset=".529" stop-color="#1dffe2"/><stop offset=".559" stop-color="#00fdff"/><stop offset=".669" stop-color="#0060ff"/><stop offset=".713" stop-color="#0032ff"/><stop offset=".757" stop-color="#0017ff"/><stop offset=".816" stop-color="#0008ff"/><stop offset="1" stop-color="#0000fe"/></linearGradient><linearGradient id="B29"><stop offset="0" stop-color="#0011ff"/><stop offset=".162" stop-color="#0021ff"/><stop offset=".25" stop-color="#003aff"/><stop offset=".309" stop-color="#005cff"/><stop offset=".368" stop-color="#0091ff"/><stop offset=".449" stop-color="#00e8ff"/><stop offset=".478" stop-color="#00fdff"/><stop offset=".507" stop-color="#03fffc"/><stop offset=".529" stop-color="#00f9ff"/><stop offset=".574" stop-color="#00d0ff"/><stop offset=".676" stop-color="#0051ff"/><stop offset=".721" stop-color="#002aff"/><stop offset=".772" stop-color="#0012ff"/><stop offset=".846" stop-color="#0007ff"/><stop offset="1" stop-color="#0000ff"/></linearGradient><linearGradient id="B30"><stop offset="0" stop-color="#0012ff"/><stop offset=".169" stop-color="#0024ff"/><stop offset=".257" stop-color="#003dff"/><stop offset=".324" stop-color="#0063ff"/><stop offset=".419" stop-color="#00b6ff"/><stop offset=".463" stop-color="#00d7ff"/><stop offset=".5" stop-color="#00e3ff"/><stop offset=".537" stop-color="#00d7ff"/><stop offset=".588" stop-color="#00abff"/><stop offset=".684" stop-color="#0044ff"/><stop offset=".735" stop-color="#0020ff"/><stop offset=".794" stop-color="#000eff"/><stop offset="1" stop-color="#0002ff"/></linearGradient><linearGradient id="B31"><stop offset="0" stop-color="#0014ff"/><stop offset=".176" stop-color="#0026ff"/><stop offset=".265" stop-color="#003fff"/><stop offset=".338" stop-color="#0068ff"/><stop offset=".449" stop-color="#00b8ff"/><stop offset=".493" stop-color="#00c7ff"/><stop offset=".529" stop-color="#00c1ff"/><stop offset=".574" stop-color="#00a6ff"/><stop offset=".691" stop-color="#003aff"/><stop offset=".75" stop-color="#0019ff"/><stop offset=".824" stop-color="#000cff"/><stop offset="1" stop-color="#0004ff"/></linearGradient><linearGradient id="B32"><stop offset="0" stop-color="#0015ff"/><stop offset=".199" stop-color="#002cff"/><stop offset=".279" stop-color="#0045ff"/><stop offset=".36" stop-color="#0070ff"/><stop offset=".441" stop-color="#00a2ff"/><stop offset=".493" stop-color="#00b1ff"/><stop offset=".537" stop-color="#00a9ff"/><stop offset=".588" stop-color="#008aff"/><stop offset=".699" stop-color="#0032ff"/><stop offset=".75" stop-color="#001aff"/><stop offset=".831" stop-color="#000eff"/><stop offset=".985" stop-color="#0007ff"/><stop offset="1" stop-color="#0005ff"/></linearGradient><linearGradient id="B33"><stop offset="0" stop-color="#0016ff"/><stop offset=".221" stop-color="#0032ff"/><stop offset=".316" stop-color="#0053ff"/><stop offset=".449" stop-color="#0096ff"/><stop offset=".507" stop-color="#009eff"/><stop offset=".559" stop-color="#008fff"/><stop offset=".64" stop-color="#0059ff"/><stop offset=".713" stop-color="#0028ff"/><stop offset=".787" stop-color="#0013ff"/><stop offset=".978" stop-color="#000aff"/><stop offset="1" stop-color="#0007ff"/></linearGradient><linearGradient id="B34"><stop offset="0" stop-color="#0018ff"/><stop offset=".228" stop-color="#0035ff"/><stop offset=".331" stop-color="#0057ff"/><stop offset=".449" stop-color="#0089ff"/><stop offset=".507" stop-color="#008fff"/><stop offset=".566" stop-color="#007fff"/><stop offset=".713" stop-color="#0028ff"/><stop offset=".779" stop-color="#0017ff"/><stop offset=".971" stop-color="#000dff"/><stop offset="1" stop-color="#0009ff"/></linearGradient><linearGradient id="B35"><stop offset="0" stop-color="#0019ff"/><stop offset=".243" stop-color="#003aff"/><stop offset=".353" stop-color="#005dff"/><stop offset=".456" stop-color="#0080ff"/><stop offset=".515" stop-color="#0082ff"/><stop offset=".581" stop-color="#006fff"/><stop offset=".713" stop-color="#0029ff"/><stop offset=".787" stop-color="#0018ff"/><stop offset=".963" stop-color="#0010ff"/><stop offset="1" stop-color="#000bff"/></linearGradient><linearGradient id="B36"><stop offset="0" stop-color="#001bff"/><stop offset=".25" stop-color="#003cff"/><stop offset=".456" stop-color="#0078ff"/><stop offset=".529" stop-color="#0077ff"/><stop offset=".603" stop-color="#005eff"/><stop offset=".721" stop-color="#0028ff"/><stop offset=".809" stop-color="#0019ff"/><stop offset=".963" stop-color="#0013ff"/><stop offset="1" stop-color="#000cff"/></linearGradient><linearGradient id="B37"><stop offset="0" stop-color="#001cff"/><stop offset=".176" stop-color="#0033ff"/><stop offset=".301" stop-color="#0049ff"/><stop offset=".449" stop-color="#0070ff"/><stop offset=".515" stop-color="#0072ff"/><stop offset=".588" stop-color="#0060ff"/><stop offset=".728" stop-color="#0028ff"/><stop offset=".824" stop-color="#001cff"/><stop offset=".963" stop-color="#0015ff"/><stop offset="1" stop-color="#000eff"/></linearGradient><linearGradient id="B38"><stop offset="0" stop-color="#001dff"/><stop offset=".11" stop-color="#002fff"/><stop offset=".272" stop-color="#0043ff"/><stop offset=".456" stop-color="#006dff"/><stop offset=".537" stop-color="#006aff"/><stop offset=".625" stop-color="#004fff"/><stop offset=".735" stop-color="#0029ff"/><stop offset=".838" stop-color="#001fff"/><stop offset=".963" stop-color="#0017ff"/><stop offset="1" stop-color="#000fff"/></linearGradient><linearGradient id="B39"><stop offset="0" stop-color="#001eff"/><stop offset=".103" stop-color="#0031ff"/><stop offset=".279" stop-color="#0045ff"/><stop offset=".463" stop-color="#006aff"/><stop offset=".544" stop-color="#0066ff"/><stop offset=".743" stop-color="#002bff"/><stop offset=".868" stop-color="#0021ff"/><stop offset=".978" stop-color="#0016ff"/><stop offset="1" stop-color="#0010ff"/></linearGradient><linearGradient id="B40"><stop offset="0" stop-color="#001fff"/><stop offset=".088" stop-color="#0031ff"/><stop offset=".301" stop-color="#004aff"/><stop offset=".463" stop-color="#0068ff"/><stop offset=".544" stop-color="#0064ff"/><stop offset=".75" stop-color="#002dff"/><stop offset=".956" stop-color="#001cff"/><stop offset="1" stop-color="#0011ff"/></linearGradient><linearGradient id="B41"><stop offset="0" stop-color="#0020ff"/><stop offset=".096" stop-color="#0035ff"/><stop offset=".301" stop-color="#004bff"/><stop offset=".471" stop-color="#0067ff"/><stop offset=".551" stop-color="#0062ff"/><stop offset=".757" stop-color="#002fff"/><stop offset=".956" stop-color="#001dff"/><stop offset="1" stop-color="#0012ff"/></linearGradient><linearGradient id="B42"><stop offset="0" stop-color="#0021ff"/><stop offset=".088" stop-color="#0036ff"/><stop offset=".331" stop-color="#0051ff"/><stop offset=".478" stop-color="#0067ff"/><stop offset=".566" stop-color="#005fff"/><stop offset=".757" stop-color="#0033ff"/><stop offset=".956" stop-color="#001fff"/><stop offset="1" stop-color="#0012ff"/></linearGradient><linearGradient id="B43"><stop offset="0" stop-color="#0024ff"/><stop offset=".082" stop-color="#0038ff"/><stop offset=".328" stop-color="#0052ff"/><stop offset=".485" stop-color="#0067ff"/><stop offset=".575" stop-color="#005eff"/><stop offset=".784" stop-color="#0033ff"/><stop offset=".955" stop-color="#0022ff"/><stop offset="1" stop-color="#0015ff"/></linearGradient><linearGradient id="B44"><stop offset="0" stop-color="#0026ff"/><stop offset=".076" stop-color="#0039ff"/><stop offset=".379" stop-color="#005bff"/><stop offset=".492" stop-color="#0068ff"/><stop offset=".606" stop-color="#0059ff"/><stop offset=".811" stop-color="#0033ff"/><stop offset=".962" stop-color="#0023ff"/><stop offset="1" stop-color="#0018ff"/></linearGradient><linearGradient id="B45"><stop offset="0" stop-color="#0026ff"/><stop offset=".076" stop-color="#003aff"/><stop offset=".402" stop-color="#0060ff"/><stop offset=".508" stop-color="#0069ff"/><stop offset=".682" stop-color="#004cff"/><stop offset=".864" stop-color="#0030ff"/><stop offset=".97" stop-color="#0021ff"/><stop offset="1" stop-color="#0017ff"/></linearGradient><linearGradient id="B46"><stop offset="0" stop-color="#0028ff"/><stop offset=".085" stop-color="#003dff"/><stop offset=".431" stop-color="#0065ff"/><stop offset=".523" stop-color="#0069ff"/><stop offset=".885" stop-color="#0030ff"/><stop offset=".977" stop-color="#0021ff"/><stop offset="1" stop-color="#0019ff"/></linearGradient><linearGradient id="B47"><stop offset="0" stop-color="#0029ff"/><stop offset=".078" stop-color="#003eff"/><stop offset=".508" stop-color="#006bff"/><stop offset=".977" stop-color="#0022ff"/><stop offset="1" stop-color="#001aff"/></linearGradient><linearGradient id="B48"><stop offset="0" stop-color="#002aff"/><stop offset=".079" stop-color="#003fff"/><stop offset=".294" stop-color="#0056ff"/><stop offset=".508" stop-color="#006bff"/><stop offset=".952" stop-color="#0029ff"/><stop offset="1" stop-color="#001aff"/></linearGradient><linearGradient id="B49"><stop offset="0" stop-color="#002bff"/><stop offset=".089" stop-color="#0042ff"/><stop offset=".282" stop-color="#0057ff"/><stop offset=".508" stop-color="#006aff"/><stop offset=".839" stop-color="#003eff"/><stop offset=".976" stop-color="#0023ff"/><stop offset="1" stop-color="#001bff"/></linearGradient><linearGradient id="B50"><stop offset="0" stop-color="#002bff"/><stop offset=".09" stop-color="#0044ff"/><stop offset=".254" stop-color="#0057ff"/><stop offset=".508" stop-color="#0069ff"/><stop offset=".844" stop-color="#0040ff"/><stop offset=".975" stop-color="#0024ff"/><stop offset="1" stop-color="#001bff"/></linearGradient><linearGradient id="B51"><stop offset="0" stop-color="#002bff"/><stop offset=".083" stop-color="#0045ff"/><stop offset=".242" stop-color="#0058ff"/><stop offset=".425" stop-color="#0063ff"/><stop offset=".525" stop-color="#0067ff"/><stop offset=".842" stop-color="#0044ff"/><stop offset=".967" stop-color="#0027ff"/><stop offset="1" stop-color="#001bff"/></linearGradient><linearGradient id="B52"><stop offset="0" stop-color="#002bff"/><stop offset=".076" stop-color="#0045ff"/><stop offset=".195" stop-color="#0058ff"/><stop offset=".398" stop-color="#0060ff"/><stop offset=".525" stop-color="#0066ff"/><stop offset=".72" stop-color="#0054ff"/><stop offset=".864" stop-color="#0043ff"/><stop offset=".975" stop-color="#0025ff"/><stop offset="1" stop-color="#001bff"/></linearGradient><linearGradient id="B53"><stop offset="0" stop-color="#0030ff"/><stop offset=".096" stop-color="#004eff"/><stop offset=".219" stop-color="#005bff"/><stop offset=".386" stop-color="#005eff"/><stop offset=".518" stop-color="#0065ff"/><stop offset=".711" stop-color="#0055ff"/><stop offset=".842" stop-color="#004bff"/><stop offset=".956" stop-color="#0030ff"/><stop offset="1" stop-color="#001fff"/></linearGradient><linearGradient id="B54"><stop offset="0" stop-color="#0030ff"/><stop offset=".089" stop-color="#004fff"/><stop offset=".205" stop-color="#005cff"/><stop offset=".384" stop-color="#005dff"/><stop offset=".518" stop-color="#0064ff"/><stop offset=".696" stop-color="#0055ff"/><stop offset=".839" stop-color="#004eff"/><stop offset=".946" stop-color="#0035ff"/><stop offset="1" stop-color="#001fff"/></linearGradient><linearGradient id="B55"><stop offset="0" stop-color="#0035ff"/><stop offset=".083" stop-color="#0051ff"/><stop offset=".204" stop-color="#005dff"/><stop offset=".361" stop-color="#005aff"/><stop offset=".509" stop-color="#0064ff"/><stop offset=".694" stop-color="#0053ff"/><stop offset=".833" stop-color="#0052ff"/><stop offset=".944" stop-color="#003aff"/><stop offset="1" stop-color="#0024ff"/></linearGradient><linearGradient id="B56"><stop offset="0" stop-color="#0039ff"/><stop offset=".077" stop-color="#0052ff"/><stop offset=".192" stop-color="#005dff"/><stop offset=".356" stop-color="#0058ff"/><stop offset=".5" stop-color="#0064ff"/><stop offset=".692" stop-color="#0052ff"/><stop offset=".846" stop-color="#0052ff"/><stop offset=".952" stop-color="#003cff"/><stop offset="1" stop-color="#0029ff"/></linearGradient><linearGradient id="B57"><stop offset="0" stop-color="#003dff"/><stop offset=".09" stop-color="#0056ff"/><stop offset=".2" stop-color="#005dff"/><stop offset=".34" stop-color="#0056ff"/><stop offset=".5" stop-color="#0064ff"/><stop offset=".7" stop-color="#0050ff"/><stop offset=".83" stop-color="#0055ff"/><stop offset=".93" stop-color="#0045ff"/><stop offset="1" stop-color="#002eff"/></linearGradient><linearGradient id="B58"><stop offset="0" stop-color="#003fff"/><stop offset=".104" stop-color="#0058ff"/><stop offset=".208" stop-color="#005cff"/><stop offset=".333" stop-color="#0054ff"/><stop offset=".49" stop-color="#0064ff"/><stop offset=".604" stop-color="#0059ff"/><stop offset=".698" stop-color="#004eff"/><stop offset=".833" stop-color="#0056ff"/><stop offset=".938" stop-color="#0045ff"/><stop offset="1" stop-color="#0031ff"/></linearGradient><linearGradient id="B59"><stop offset="0" stop-color="#0040ff"/><stop offset=".109" stop-color="#0058ff"/><stop offset=".207" stop-color="#005bff"/><stop offset=".326" stop-color="#0053ff"/><stop offset=".478" stop-color="#0065ff"/><stop offset=".587" stop-color="#005dff"/><stop offset=".696" stop-color="#004dff"/><stop offset=".837" stop-color="#0056ff"/><stop offset=".935" stop-color="#0047ff"/><stop offset="1" stop-color="#0033ff"/></linearGradient><linearGradient id="B60"><stop offset="0" stop-color="#0043ff"/><stop offset=".105" stop-color="#0058ff"/><stop offset=".221" stop-color="#0058ff"/><stop offset=".314" stop-color="#0053ff"/><stop offset=".477" stop-color="#0066ff"/><stop offset=".57" stop-color="#0061ff"/><stop offset=".709" stop-color="#004dff"/><stop offset=".849" stop-color="#0056ff"/><stop offset=".953" stop-color="#0046ff"/><stop offset="1" stop-color="#0038ff"/></linearGradient><linearGradient id="B61"><stop offset="0" stop-color="#0042ff"/><stop offset=".11" stop-color="#0058ff"/><stop offset=".22" stop-color="#0057ff"/><stop offset=".317" stop-color="#0055ff"/><stop offset=".476" stop-color="#0067ff"/><stop offset=".585" stop-color="#0061ff"/><stop offset=".72" stop-color="#004fff"/><stop offset=".866" stop-color="#0055ff"/><stop offset=".976" stop-color="#0041ff"/><stop offset="1" stop-color="#0039ff"/></linearGradient><linearGradient id="B62"><stop offset="0" stop-color="#0044ff"/><stop offset=".105" stop-color="#0057ff"/><stop offset=".316" stop-color="#0058ff"/><stop offset=".487" stop-color="#0069ff"/><stop offset=".618" stop-color="#005eff"/><stop offset=".737" stop-color="#0051ff"/><stop offset=".882" stop-color="#0055ff"/><stop offset=".987" stop-color="#0041ff"/><stop offset="1" stop-color="#003dff"/></linearGradient><linearGradient id="B63"><stop offset="0" stop-color="#0049ff"/><stop offset=".103" stop-color="#0056ff"/><stop offset=".279" stop-color="#0057ff"/><stop offset=".485" stop-color="#0069ff"/><stop offset=".647" stop-color="#005dff"/><stop offset=".794" stop-color="#0053ff"/><stop offset=".926" stop-color="#0052ff"/><stop offset="1" stop-color="#0045ff"/></linearGradient><linearGradient id="B64"><stop offset="0" stop-color="#004cff"/><stop offset=".133" stop-color="#0054ff"/><stop offset=".3" stop-color="#005aff"/><stop offset=".5" stop-color="#0069ff"/><stop offset=".817" stop-color="#0052ff"/><stop offset=".967" stop-color="#0050ff"/><stop offset="1" stop-color="#004bff"/></linearGradient><linearGradient id="B65"><stop offset="0" stop-color="#004dff"/><stop offset=".28" stop-color="#0059ff"/><stop offset=".5" stop-color="#0066ff"/><stop offset=".7" stop-color="#005aff"/><stop offset=".94" stop-color="#004eff"/><stop offset="1" stop-color="#004dff"/></linearGradient><linearGradient id="B66"><stop offset="0" stop-color="#004aff"/><stop offset=".472" stop-color="#0062ff"/><stop offset=".75" stop-color="#0057ff"/><stop offset="1" stop-color="#004aff"/></linearGradient><clipPath id="clipB"><ellipse cx="517.6" cy="186.2" rx="101.65" ry="99.10"/></clipPath></defs>
<g clip-path="url(#clipB)"><rect x="490.5" y="86.35" width="54.2" height="4.08" fill="url(#B0)"/><rect x="480.0" y="89.33" width="75.3" height="4.08" fill="url(#B1)"/><rect x="472.4" y="92.31" width="90.4" height="4.08" fill="url(#B2)"/><rect x="466.4" y="95.29" width="102.4" height="4.08" fill="url(#B3)"/><rect x="460.4" y="98.27" width="114.4" height="4.08" fill="url(#B4)"/><rect x="455.9" y="101.25" width="123.5" height="4.08" fill="url(#B5)"/><rect x="452.8" y="104.23" width="129.5" height="4.08" fill="url(#B6)"/><rect x="448.3" y="107.21" width="138.5" height="4.08" fill="url(#B7)"/><rect x="445.3" y="110.19" width="144.6" height="4.08" fill="url(#B8)"/><rect x="442.3" y="113.18" width="150.6" height="4.08" fill="url(#B9)"/><rect x="439.3" y="116.16" width="156.6" height="4.08" fill="url(#B10)"/><rect x="436.3" y="119.14" width="162.6" height="4.08" fill="url(#B11)"/><rect x="433.3" y="122.12" width="168.7" height="4.08" fill="url(#B12)"/><rect x="431.8" y="125.10" width="171.7" height="4.08" fill="url(#B13)"/><rect x="428.8" y="128.08" width="177.7" height="4.08" fill="url(#B14)"/><rect x="427.2" y="131.06" width="180.7" height="4.08" fill="url(#B15)"/><rect x="425.7" y="134.04" width="183.7" height="4.08" fill="url(#B16)"/><rect x="424.2" y="137.02" width="186.7" height="4.08" fill="url(#B17)"/><rect x="422.7" y="140.00" width="189.7" height="4.08" fill="url(#B18)"/><rect x="421.2" y="142.98" width="192.8" height="4.08" fill="url(#B19)"/><rect x="419.7" y="145.96" width="195.8" height="4.08" fill="url(#B20)"/><rect x="418.2" y="148.94" width="198.8" height="4.08" fill="url(#B21)"/><rect x="418.2" y="151.92" width="198.8" height="4.08" fill="url(#B22)"/><rect x="416.7" y="154.90" width="201.8" height="4.08" fill="url(#B23)"/><rect x="415.2" y="157.88" width="204.8" height="4.08" fill="url(#B24)"/><rect x="415.2" y="160.86" width="204.8" height="4.08" fill="url(#B25)"/><rect x="415.2" y="163.85" width="204.8" height="4.08" fill="url(#B26)"/><rect x="415.2" y="166.83" width="204.8" height="4.08" fill="url(#B27)"/><rect x="415.2" y="169.81" width="204.8" height="4.08" fill="url(#B28)"/><rect x="415.2" y="172.79" width="204.8" height="4.08" fill="url(#B29)"/><rect x="415.2" y="175.77" width="204.8" height="4.08" fill="url(#B30)"/><rect x="415.2" y="178.75" width="204.8" height="4.08" fill="url(#B31)"/><rect x="415.2" y="181.73" width="204.8" height="4.08" fill="url(#B32)"/><rect x="415.2" y="184.71" width="204.8" height="4.08" fill="url(#B33)"/><rect x="415.2" y="187.69" width="204.8" height="4.08" fill="url(#B34)"/><rect x="415.2" y="190.67" width="204.8" height="4.08" fill="url(#B35)"/><rect x="415.2" y="193.65" width="204.8" height="4.08" fill="url(#B36)"/><rect x="415.2" y="196.63" width="204.8" height="4.08" fill="url(#B37)"/><rect x="415.2" y="199.61" width="204.8" height="4.08" fill="url(#B38)"/><rect x="415.2" y="202.59" width="204.8" height="4.08" fill="url(#B39)"/><rect x="415.2" y="205.57" width="204.8" height="4.08" fill="url(#B40)"/><rect x="415.2" y="208.55" width="204.8" height="4.08" fill="url(#B41)"/><rect x="415.2" y="211.54" width="204.8" height="4.08" fill="url(#B42)"/><rect x="416.7" y="214.52" width="201.8" height="4.08" fill="url(#B43)"/><rect x="418.2" y="217.50" width="198.8" height="4.08" fill="url(#B44)"/><rect x="418.2" y="220.48" width="198.8" height="4.08" fill="url(#B45)"/><rect x="419.7" y="223.46" width="195.8" height="4.08" fill="url(#B46)"/><rect x="421.2" y="226.44" width="192.8" height="4.08" fill="url(#B47)"/><rect x="422.7" y="229.42" width="189.7" height="4.08" fill="url(#B48)"/><rect x="424.2" y="232.40" width="186.7" height="4.08" fill="url(#B49)"/><rect x="425.7" y="235.38" width="183.7" height="4.08" fill="url(#B50)"/><rect x="427.2" y="238.36" width="180.7" height="4.08" fill="url(#B51)"/><rect x="428.8" y="241.34" width="177.7" height="4.08" fill="url(#B52)"/><rect x="431.8" y="244.32" width="171.7" height="4.08" fill="url(#B53)"/><rect x="433.3" y="247.30" width="168.7" height="4.08" fill="url(#B54)"/><rect x="436.3" y="250.28" width="162.6" height="4.08" fill="url(#B55)"/><rect x="439.3" y="253.26" width="156.6" height="4.08" fill="url(#B56)"/><rect x="442.3" y="256.24" width="150.6" height="4.08" fill="url(#B57)"/><rect x="445.3" y="259.22" width="144.6" height="4.08" fill="url(#B58)"/><rect x="448.3" y="262.21" width="138.5" height="4.08" fill="url(#B59)"/><rect x="452.8" y="265.19" width="129.5" height="4.08" fill="url(#B60)"/><rect x="455.9" y="268.17" width="123.5" height="4.08" fill="url(#B61)"/><rect x="460.4" y="271.15" width="114.4" height="4.08" fill="url(#B62)"/><rect x="466.4" y="274.13" width="102.4" height="4.08" fill="url(#B63)"/><rect x="472.4" y="277.11" width="90.4" height="4.08" fill="url(#B64)"/><rect x="480.0" y="280.09" width="75.3" height="4.08" fill="url(#B65)"/><rect x="490.5" y="283.07" width="54.2" height="4.08" fill="url(#B66)"/></g>
<g fill="none" stroke="#111" stroke-width="1.1" stroke-linejoin="round"><path d="M417.2 167.3C416.8 166.7 415.5 164.5 414.7 163.8C413.9 163.1 413.1 162.9 412.3 162.9C411.5 162.9 410.5 163.2 409.8 163.8C409.1 164.4 408.4 165.1 408.0 166.3C407.6 167.5 407.6 168.7 407.6 171.2C407.6 173.7 408.0 178.1 408.1 181.1C408.2 184.1 408.2 186.2 408.0 189.0C407.8 191.8 407.3 195.3 407.1 197.9C406.9 200.5 406.7 202.8 406.8 204.8C406.9 206.8 407.2 208.4 407.8 209.8C408.4 211.2 409.4 212.5 410.3 213.2C411.2 213.9 412.3 214.2 413.3 214.2C414.3 214.2 415.3 213.8 416.2 213.2C417.1 212.6 418.2 211.2 418.6 210.8"/><path d="M618.0 167.3C618.4 166.7 619.7 164.5 620.5 163.8C621.3 163.1 622.1 162.9 622.9 162.9C623.7 162.9 624.7 163.2 625.4 163.8C626.1 164.4 626.8 165.1 627.2 166.3C627.6 167.5 627.6 168.7 627.6 171.2C627.6 173.7 627.2 178.1 627.1 181.1C627.0 184.1 627.0 186.2 627.2 189.0C627.4 191.8 627.9 195.3 628.1 197.9C628.3 200.5 628.5 202.8 628.4 204.8C628.3 206.8 628.0 208.4 627.4 209.8C626.8 211.2 625.8 212.5 624.9 213.2C624.0 213.9 622.9 214.2 621.9 214.2C620.9 214.2 619.9 213.8 619.0 213.2C618.1 212.6 617.0 211.2 616.6 210.8"/><path d="M500.0 88.0L512.6 74.6C514.4 72.6 515.8 72.6 517.6 72.6C519.4 72.6 520.8 72.6 522.6 74.6L535.2 88.0"/></g>
<ellipse cx="517.6" cy="186.2" rx="101.65" ry="99.10" fill="none" stroke="#0a0a14" stroke-width="1.5"/>
<g class="el" font-size="6.7" fill="#05051a" fill-opacity=".9"><circle cx="490.8" cy="105.9" r="0.95"/><text x="492.9" y="108.2">Fp1</text><circle cx="544.4" cy="105.9" r="0.95"/><text x="546.5" y="108.2">Fp2</text><circle cx="447.5" cy="136.6" r="0.95"/><text x="449.6" y="138.9">F7</text><circle cx="587.7" cy="136.6" r="0.95"/><text x="589.8" y="138.9">F8</text><circle cx="431.0" cy="186.2" r="0.95"/><text x="433.1" y="188.5">T7</text><circle cx="604.2" cy="186.2" r="0.95"/><text x="606.3" y="188.5">T8</text><circle cx="447.5" cy="235.8" r="0.95"/><text x="449.6" y="238.1">P7</text><circle cx="587.7" cy="235.8" r="0.95"/><text x="589.8" y="238.1">P8</text><circle cx="490.8" cy="266.5" r="0.95"/><text x="492.9" y="268.8">O1</text><circle cx="544.4" cy="266.5" r="0.95"/><text x="546.5" y="268.8">O2</text><circle cx="482.3" cy="143.7" r="0.95"/><text x="484.4" y="146.0">F3</text><circle cx="552.9" cy="143.7" r="0.95"/><text x="555.0" y="146.0">F4</text><circle cx="517.6" cy="143.9" r="0.95"/><text x="519.7" y="146.2">Fz</text><circle cx="517.6" cy="186.2" r="0.95"/><text x="519.7" y="188.5">Cz</text><circle cx="517.6" cy="228.5" r="0.95"/><text x="519.7" y="230.8">Pz</text><circle cx="474.3" cy="186.2" r="0.95"/><text x="476.4" y="188.5">C3</text><circle cx="560.9" cy="186.2" r="0.95"/><text x="563.0" y="188.5">C4</text><circle cx="482.3" cy="228.7" r="0.95"/><text x="484.4" y="231.0">P3</text><circle cx="552.9" cy="228.7" r="0.95"/><text x="555.0" y="231.0">P4</text></g>
<!-- head C -->
<defs><linearGradient id="C0"><stop offset="0" stop-color="#001aff"/><stop offset=".194" stop-color="#001eff"/><stop offset=".528" stop-color="#000cff"/><stop offset=".917" stop-color="#0013ff"/><stop offset="1" stop-color="#0010ff"/></linearGradient><linearGradient id="C1"><stop offset="0" stop-color="#000aff"/><stop offset=".16" stop-color="#0029ff"/><stop offset=".28" stop-color="#002eff"/><stop offset=".54" stop-color="#001fff"/><stop offset=".8" stop-color="#001eff"/><stop offset="1" stop-color="#0008ff"/></linearGradient><linearGradient id="C2"><stop offset="0" stop-color="#0008ff"/><stop offset=".067" stop-color="#0010ff"/><stop offset=".217" stop-color="#003bff"/><stop offset=".333" stop-color="#0042ff"/><stop offset=".583" stop-color="#0034ff"/><stop offset=".733" stop-color="#002fff"/><stop offset=".9" stop-color="#0011ff"/><stop offset="1" stop-color="#0006ff"/></linearGradient><linearGradient id="C3"><stop offset="0" stop-color="#000dff"/><stop offset=".074" stop-color="#0012ff"/><stop offset=".147" stop-color="#002aff"/><stop offset=".25" stop-color="#0051ff"/><stop offset=".338" stop-color="#005aff"/><stop offset=".706" stop-color="#0043ff"/><stop offset=".824" stop-color="#0026ff"/><stop offset=".926" stop-color="#000cff"/><stop offset="1" stop-color="#0009ff"/></linearGradient><linearGradient id="C4"><stop offset="0" stop-color="#0012ff"/><stop offset=".079" stop-color="#0016ff"/><stop offset=".145" stop-color="#0029ff"/><stop offset=".263" stop-color="#0065ff"/><stop offset=".329" stop-color="#0073ff"/><stop offset=".553" stop-color="#0069ff"/><stop offset=".684" stop-color="#005aff"/><stop offset=".789" stop-color="#0036ff"/><stop offset=".868" stop-color="#0018ff"/><stop offset=".947" stop-color="#000bff"/><stop offset="1" stop-color="#000cff"/></linearGradient><linearGradient id="C5"><stop offset="0" stop-color="#0017ff"/><stop offset=".073" stop-color="#0018ff"/><stop offset=".134" stop-color="#0028ff"/><stop offset=".195" stop-color="#0048ff"/><stop offset=".28" stop-color="#007eff"/><stop offset=".341" stop-color="#008dff"/><stop offset=".5" stop-color="#008bff"/><stop offset=".646" stop-color="#0079ff"/><stop offset=".72" stop-color="#0061ff"/><stop offset=".841" stop-color="#0023ff"/><stop offset=".927" stop-color="#000eff"/><stop offset="1" stop-color="#000eff"/></linearGradient><linearGradient id="C6"><stop offset="0" stop-color="#0019ff"/><stop offset=".081" stop-color="#001dff"/><stop offset=".151" stop-color="#0035ff"/><stop offset=".221" stop-color="#0062ff"/><stop offset=".291" stop-color="#0096ff"/><stop offset=".36" stop-color="#00a8ff"/><stop offset=".5" stop-color="#00acff"/><stop offset=".605" stop-color="#009eff"/><stop offset=".698" stop-color="#007eff"/><stop offset=".826" stop-color="#002fff"/><stop offset=".895" stop-color="#0016ff"/><stop offset=".977" stop-color="#000eff"/><stop offset="1" stop-color="#0010ff"/></linearGradient><linearGradient id="C7"><stop offset="0" stop-color="#001dff"/><stop offset=".076" stop-color="#001eff"/><stop offset=".141" stop-color="#0031ff"/><stop offset=".207" stop-color="#0058ff"/><stop offset=".304" stop-color="#00a9ff"/><stop offset=".37" stop-color="#00c1ff"/><stop offset=".489" stop-color="#00cfff"/><stop offset=".576" stop-color="#00c4ff"/><stop offset=".652" stop-color="#00a7ff"/><stop offset=".717" stop-color="#007cff"/><stop offset=".804" stop-color="#003bff"/><stop offset=".87" stop-color="#001dff"/><stop offset=".946" stop-color="#0010ff"/><stop offset="1" stop-color="#0013ff"/></linearGradient><linearGradient id="C8"><stop offset="0" stop-color="#0021ff"/><stop offset=".073" stop-color="#0021ff"/><stop offset=".146" stop-color="#0036ff"/><stop offset=".208" stop-color="#005eff"/><stop offset=".323" stop-color="#00c0ff"/><stop offset=".396" stop-color="#00e0ff"/><stop offset=".49" stop-color="#00f3ff"/><stop offset=".552" stop-color="#00edff"/><stop offset=".615" stop-color="#00d4ff"/><stop offset=".677" stop-color="#00abff"/><stop offset=".792" stop-color="#0047ff"/><stop offset=".854" stop-color="#0024ff"/><stop offset=".917" stop-color="#0015ff"/><stop offset="1" stop-color="#0016ff"/></linearGradient><linearGradient id="C9"><stop offset="0" stop-color="#0025ff"/><stop offset=".08" stop-color="#0025ff"/><stop offset=".15" stop-color="#003bff"/><stop offset=".21" stop-color="#0062ff"/><stop offset=".34" stop-color="#00d6ff"/><stop offset=".41" stop-color="#00ffff"/><stop offset=".48" stop-color="#19ffe6"/><stop offset=".53" stop-color="#1affe5"/><stop offset=".59" stop-color="#02fffd"/><stop offset=".64" stop-color="#00ddff"/><stop offset=".78" stop-color="#0053ff"/><stop offset=".83" stop-color="#0031ff"/><stop offset=".89" stop-color="#001cff"/><stop offset=".97" stop-color="#0017ff"/><stop offset="1" stop-color="#001bff"/></linearGradient><linearGradient id="C10"><stop offset="0" stop-color="#002cff"/><stop offset=".058" stop-color="#0026ff"/><stop offset=".135" stop-color="#0037ff"/><stop offset=".202" stop-color="#005dff"/><stop offset=".279" stop-color="#00a4ff"/><stop offset=".365" stop-color="#00f7ff"/><stop offset=".375" stop-color="#00ffff"/><stop offset=".452" stop-color="#35ffca"/><stop offset=".5" stop-color="#46ffb9"/><stop offset=".538" stop-color="#42ffbd"/><stop offset=".577" stop-color="#2effd1"/><stop offset=".625" stop-color="#04fffb"/><stop offset=".644" stop-color="#00efff"/><stop offset=".75" stop-color="#0071ff"/><stop offset=".798" stop-color="#0046ff"/><stop offset=".846" stop-color="#002bff"/><stop offset=".904" stop-color="#001eff"/><stop offset=".981" stop-color="#001fff"/><stop offset="1" stop-color="#0022ff"/></linearGradient><linearGradient id="C11"><stop offset="0" stop-color="#0032ff"/><stop offset=".065" stop-color="#002cff"/><stop offset=".13" stop-color="#0039ff"/><stop offset=".185" stop-color="#0053ff"/><stop offset=".25" stop-color="#0088ff"/><stop offset=".361" stop-color="#02fffd"/><stop offset=".444" stop-color="#55ffaa"/><stop offset=".491" stop-color="#72ff8d"/><stop offset=".528" stop-color="#73ff8c"/><stop offset=".565" stop-color="#5fffa0"/><stop offset=".602" stop-color="#3affc5"/><stop offset=".648" stop-color="#00fdff"/><stop offset=".741" stop-color="#007cff"/><stop offset=".787" stop-color="#004eff"/><stop offset=".833" stop-color="#0032ff"/><stop offset=".898" stop-color="#0023ff"/><stop offset=".991" stop-color="#0027ff"/><stop offset="1" stop-color="#0029ff"/></linearGradient><linearGradient id="C12"><stop offset="0" stop-color="#0038ff"/><stop offset=".063" stop-color="#0032ff"/><stop offset=".134" stop-color="#003eff"/><stop offset=".205" stop-color="#0062ff"/><stop offset=".268" stop-color="#009bff"/><stop offset=".348" stop-color="#00fcff"/><stop offset=".384" stop-color="#2bffd4"/><stop offset=".455" stop-color="#87ff78"/><stop offset=".491" stop-color="#a4ff5b"/><stop offset=".518" stop-color="#a9ff56"/><stop offset=".545" stop-color="#9dff62"/><stop offset=".58" stop-color="#78ff87"/><stop offset=".634" stop-color="#27ffd8"/><stop offset=".652" stop-color="#09fff6"/><stop offset=".661" stop-color="#00f9ff"/><stop offset=".723" stop-color="#0093ff"/><stop offset=".768" stop-color="#005dff"/><stop offset=".812" stop-color="#003dff"/><stop offset=".866" stop-color="#002dff"/><stop offset=".955" stop-color="#002aff"/><stop offset="1" stop-color="#002fff"/></linearGradient><linearGradient id="C13"><stop offset="0" stop-color="#003aff"/><stop offset=".07" stop-color="#0038ff"/><stop offset=".149" stop-color="#004aff"/><stop offset=".202" stop-color="#0065ff"/><stop offset=".254" stop-color="#0090ff"/><stop offset=".316" stop-color="#00d9ff"/><stop offset=".342" stop-color="#00feff"/><stop offset=".412" stop-color="#6dff92"/><stop offset=".456" stop-color="#b6ff49"/><stop offset=".482" stop-color="#d6ff29"/><stop offset=".509" stop-color="#e3ff1c"/><stop offset=".535" stop-color="#dbff24"/><stop offset=".561" stop-color="#bfff40"/><stop offset=".605" stop-color="#76ff89"/><stop offset=".667" stop-color="#00fdff"/><stop offset=".719" stop-color="#009cff"/><stop offset=".754" stop-color="#006dff"/><stop offset=".789" stop-color="#004dff"/><stop offset=".842" stop-color="#0037ff"/><stop offset=".965" stop-color="#0030ff"/><stop offset="1" stop-color="#0032ff"/></linearGradient><linearGradient id="C14"><stop offset="0" stop-color="#003dff"/><stop offset=".076" stop-color="#003dff"/><stop offset=".161" stop-color="#0052ff"/><stop offset=".212" stop-color="#006cff"/><stop offset=".263" stop-color="#0097ff"/><stop offset=".314" stop-color="#00d6ff"/><stop offset=".339" stop-color="#00fdff"/><stop offset=".39" stop-color="#59ffa6"/><stop offset=".466" stop-color="#f9ff06"/><stop offset=".475" stop-color="#fff800"/><stop offset=".492" stop-color="#ffe300"/><stop offset=".508" stop-color="#ffda00"/><stop offset=".534" stop-color="#ffe600"/><stop offset=".551" stop-color="#fffc00"/><stop offset=".568" stop-color="#e4ff1b"/><stop offset=".636" stop-color="#4dffb2"/><stop offset=".669" stop-color="#00fcff"/><stop offset=".703" stop-color="#00b4ff"/><stop offset=".737" stop-color="#007cff"/><stop offset=".771" stop-color="#0058ff"/><stop offset=".814" stop-color="#0041ff"/><stop offset=".924" stop-color="#0036ff"/><stop offset="1" stop-color="#0035ff"/></linearGradient><linearGradient id="C15"><stop offset="0" stop-color="#003dff"/><stop offset=".067" stop-color="#003fff"/><stop offset=".175" stop-color="#005cff"/><stop offset=".233" stop-color="#007fff"/><stop offset=".275" stop-color="#00a7ff"/><stop offset=".317" stop-color="#00deff"/><stop offset=".333" stop-color="#00faff"/><stop offset=".342" stop-color="#09fff6"/><stop offset=".375" stop-color="#4bffb4"/><stop offset=".417" stop-color="#b0ff4f"/><stop offset=".442" stop-color="#f3ff0c"/><stop offset=".45" stop-color="#fff400"/><stop offset=".475" stop-color="#ffba00"/><stop offset=".5" stop-color="#ff9800"/><stop offset=".517" stop-color="#ff9500"/><stop offset=".533" stop-color="#ffa500"/><stop offset=".55" stop-color="#ffc000"/><stop offset=".575" stop-color="#fffc00"/><stop offset=".642" stop-color="#50ffaf"/><stop offset=".667" stop-color="#0cfff3"/><stop offset=".675" stop-color="#00f5ff"/><stop offset=".708" stop-color="#00a9ff"/><stop offset=".742" stop-color="#0075ff"/><stop offset=".775" stop-color="#0056ff"/><stop offset=".817" stop-color="#0044ff"/><stop offset=".925" stop-color="#003bff"/><stop offset="1" stop-color="#0035ff"/></linearGradient><linearGradient id="C16"><stop offset="0" stop-color="#003dff"/><stop offset=".057" stop-color="#003fff"/><stop offset=".18" stop-color="#0062ff"/><stop offset=".238" stop-color="#0084ff"/><stop offset=".279" stop-color="#00acff"/><stop offset=".32" stop-color="#00e5ff"/><stop offset=".336" stop-color="#03fffc"/><stop offset=".369" stop-color="#47ffb8"/><stop offset=".402" stop-color="#9dff62"/><stop offset=".426" stop-color="#e9ff16"/><stop offset=".434" stop-color="#fffa00"/><stop offset=".467" stop-color="#ff9200"/><stop offset=".484" stop-color="#ff6b00"/><stop offset=".5" stop-color="#ff5500"/><stop offset=".508" stop-color="#ff4f00"/><stop offset=".525" stop-color="#ff5700"/><stop offset=".541" stop-color="#ff7100"/><stop offset=".557" stop-color="#ff9b00"/><stop offset=".582" stop-color="#ffe900"/><stop offset=".59" stop-color="#faff05"/><stop offset=".672" stop-color="#00feff"/><stop offset=".697" stop-color="#00bdff"/><stop offset=".721" stop-color="#008dff"/><stop offset=".746" stop-color="#006dff"/><stop offset=".787" stop-color="#004fff"/><stop offset=".844" stop-color="#0045ff"/><stop offset=".893" stop-color="#0044ff"/><stop offset=".992" stop-color="#0034ff"/><stop offset="1" stop-color="#0034ff"/></linearGradient><linearGradient id="C17"><stop offset="0" stop-color="#003cff"/><stop offset=".065" stop-color="#0040ff"/><stop offset=".202" stop-color="#006eff"/><stop offset=".25" stop-color="#008fff"/><stop offset=".29" stop-color="#00baff"/><stop offset=".323" stop-color="#00eaff"/><stop offset=".331" stop-color="#00f9ff"/><stop offset=".347" stop-color="#1affe5"/><stop offset=".379" stop-color="#68ff97"/><stop offset=".411" stop-color="#cdff32"/><stop offset=".419" stop-color="#e9ff16"/><stop offset=".427" stop-color="#fff700"/><stop offset=".468" stop-color="#ff6000"/><stop offset=".476" stop-color="#ff4800"/><stop offset=".492" stop-color="#ff2c00"/><stop offset=".508" stop-color="#ff2000"/><stop offset=".524" stop-color="#ff2500"/><stop offset=".54" stop-color="#ff3c00"/><stop offset=".548" stop-color="#ff5000"/><stop offset=".573" stop-color="#ffa600"/><stop offset=".597" stop-color="#fdff02"/><stop offset=".653" stop-color="#3cffc3"/><stop offset=".669" stop-color="#05fffa"/><stop offset=".685" stop-color="#00d3ff"/><stop offset=".71" stop-color="#009bff"/><stop offset=".734" stop-color="#0077ff"/><stop offset=".766" stop-color="#005aff"/><stop offset=".806" stop-color="#004bff"/><stop offset=".895" stop-color="#0045ff"/><stop offset=".984" stop-color="#0034ff"/><stop offset="1" stop-color="#0033ff"/></linearGradient><linearGradient id="C18"><stop offset="0" stop-color="#003aff"/><stop offset=".063" stop-color="#003fff"/><stop offset=".206" stop-color="#0072ff"/><stop offset=".254" stop-color="#0092ff"/><stop offset=".294" stop-color="#00bcff"/><stop offset=".333" stop-color="#00fdff"/><stop offset=".357" stop-color="#32ffcd"/><stop offset=".381" stop-color="#72ff8d"/><stop offset=".405" stop-color="#c0ff3f"/><stop offset=".421" stop-color="#fcff03"/><stop offset=".444" stop-color="#ff9f00"/><stop offset=".46" stop-color="#ff5d00"/><stop offset=".468" stop-color="#ff4100"/><stop offset=".476" stop-color="#ff2c00"/><stop offset=".484" stop-color="#ff1e00"/><stop offset=".516" stop-color="#ff0b00"/><stop offset=".532" stop-color="#ff1100"/><stop offset=".54" stop-color="#ff1d00"/><stop offset=".548" stop-color="#ff3000"/><stop offset=".563" stop-color="#ff6800"/><stop offset=".595" stop-color="#ffed00"/><stop offset=".603" stop-color="#f2ff0d"/><stop offset=".667" stop-color="#07fff8"/><stop offset=".675" stop-color="#00eaff"/><stop offset=".69" stop-color="#00bcff"/><stop offset=".714" stop-color="#008dff"/><stop offset=".738" stop-color="#006eff"/><stop offset=".778" stop-color="#0053ff"/><stop offset=".833" stop-color="#004aff"/><stop offset=".905" stop-color="#0042ff"/><stop offset=".992" stop-color="#0031ff"/><stop offset="1" stop-color="#0031ff"/></linearGradient><linearGradient id="C19"><stop offset="0" stop-color="#0039ff"/><stop offset=".062" stop-color="#003eff"/><stop offset=".211" stop-color="#0074ff"/><stop offset=".266" stop-color="#009bff"/><stop offset=".305" stop-color="#00c9ff"/><stop offset=".336" stop-color="#00ffff"/><stop offset=".367" stop-color="#49ffb6"/><stop offset=".398" stop-color="#a9ff56"/><stop offset=".422" stop-color="#fffb00"/><stop offset=".461" stop-color="#ff4d00"/><stop offset=".469" stop-color="#ff3200"/><stop offset=".477" stop-color="#ff2000"/><stop offset=".492" stop-color="#ff1100"/><stop offset=".523" stop-color="#ff0200"/><stop offset=".539" stop-color="#ff1100"/><stop offset=".547" stop-color="#ff2200"/><stop offset=".555" stop-color="#ff3a00"/><stop offset=".578" stop-color="#ffa000"/><stop offset=".594" stop-color="#ffe500"/><stop offset=".602" stop-color="#f9ff06"/><stop offset=".664" stop-color="#08fff7"/><stop offset=".672" stop-color="#00ebff"/><stop offset=".687" stop-color="#00bcff"/><stop offset=".711" stop-color="#008eff"/><stop offset=".742" stop-color="#0069ff"/><stop offset=".781" stop-color="#0052ff"/><stop offset=".906" stop-color="#003fff"/><stop offset="1" stop-color="#002fff"/></linearGradient><linearGradient id="C20"><stop offset="0" stop-color="#0038ff"/><stop offset=".062" stop-color="#003cff"/><stop offset=".208" stop-color="#0072ff"/><stop offset=".262" stop-color="#0096ff"/><stop offset=".3" stop-color="#00bfff"/><stop offset=".331" stop-color="#00f0ff"/><stop offset=".338" stop-color="#00ffff"/><stop offset=".369" stop-color="#48ffb7"/><stop offset=".392" stop-color="#8dff72"/><stop offset=".423" stop-color="#fffd00"/><stop offset=".462" stop-color="#ff5300"/><stop offset=".469" stop-color="#ff3700"/><stop offset=".477" stop-color="#ff2300"/><stop offset=".492" stop-color="#ff0d00"/><stop offset=".515" stop-color="#ff0100"/><stop offset=".531" stop-color="#ff0900"/><stop offset=".546" stop-color="#ff2700"/><stop offset=".562" stop-color="#ff5e00"/><stop offset=".592" stop-color="#ffe800"/><stop offset=".6" stop-color="#f6ff09"/><stop offset=".662" stop-color="#0bfff4"/><stop offset=".669" stop-color="#00f0ff"/><stop offset=".685" stop-color="#00c2ff"/><stop offset=".708" stop-color="#0092ff"/><stop offset=".731" stop-color="#0073ff"/><stop offset=".769" stop-color="#0057ff"/><stop offset=".831" stop-color="#0049ff"/><stop offset=".946" stop-color="#0034ff"/><stop offset="1" stop-color="#002eff"/></linearGradient><linearGradient id="C21"><stop offset="0" stop-color="#0039ff"/><stop offset=".053" stop-color="#003aff"/><stop offset=".152" stop-color="#0059ff"/><stop offset=".235" stop-color="#0080ff"/><stop offset=".28" stop-color="#00a5ff"/><stop offset=".318" stop-color="#00d5ff"/><stop offset=".341" stop-color="#00fdff"/><stop offset=".364" stop-color="#30ffcf"/><stop offset=".394" stop-color="#85ff7a"/><stop offset=".424" stop-color="#f3ff0c"/><stop offset=".432" stop-color="#ffec00"/><stop offset=".47" stop-color="#ff4e00"/><stop offset=".477" stop-color="#ff3600"/><stop offset=".492" stop-color="#ff1a00"/><stop offset=".508" stop-color="#ff0f00"/><stop offset=".523" stop-color="#ff1300"/><stop offset=".538" stop-color="#ff2900"/><stop offset=".553" stop-color="#ff5800"/><stop offset=".591" stop-color="#fff600"/><stop offset=".598" stop-color="#eaff15"/><stop offset=".659" stop-color="#0dfff2"/><stop offset=".667" stop-color="#00f3ff"/><stop offset=".689" stop-color="#00b6ff"/><stop offset=".712" stop-color="#008bff"/><stop offset=".742" stop-color="#0068ff"/><stop offset=".78" stop-color="#0052ff"/><stop offset=".992" stop-color="#002dff"/><stop offset="1" stop-color="#002dff"/></linearGradient><linearGradient id="C22"><stop offset="0" stop-color="#0038ff"/><stop offset=".061" stop-color="#003cff"/><stop offset=".182" stop-color="#0065ff"/><stop offset=".242" stop-color="#0085ff"/><stop offset=".288" stop-color="#00acff"/><stop offset=".326" stop-color="#00dfff"/><stop offset=".341" stop-color="#00f9ff"/><stop offset=".356" stop-color="#18ffe7"/><stop offset=".386" stop-color="#62ff9d"/><stop offset=".409" stop-color="#a8ff57"/><stop offset=".432" stop-color="#f8ff07"/><stop offset=".439" stop-color="#ffe900"/><stop offset=".47" stop-color="#ff7900"/><stop offset=".477" stop-color="#ff6100"/><stop offset=".492" stop-color="#ff4200"/><stop offset=".508" stop-color="#ff3400"/><stop offset=".523" stop-color="#ff3b00"/><stop offset=".538" stop-color="#ff5500"/><stop offset=".553" stop-color="#ff8200"/><stop offset=".583" stop-color="#fff300"/><stop offset=".591" stop-color="#efff10"/><stop offset=".659" stop-color="#0bfff4"/><stop offset=".667" stop-color="#00f3ff"/><stop offset=".689" stop-color="#00b9ff"/><stop offset=".72" stop-color="#0084ff"/><stop offset=".75" stop-color="#0065ff"/><stop offset=".795" stop-color="#004fff"/><stop offset=".985" stop-color="#002dff"/><stop offset="1" stop-color="#002dff"/></linearGradient><linearGradient id="C23"><stop offset="0" stop-color="#0039ff"/><stop offset=".06" stop-color="#003bff"/><stop offset=".172" stop-color="#005fff"/><stop offset=".254" stop-color="#008aff"/><stop offset=".299" stop-color="#00b3ff"/><stop offset=".336" stop-color="#00e6ff"/><stop offset=".351" stop-color="#01fffe"/><stop offset=".388" stop-color="#53ffac"/><stop offset=".418" stop-color="#a8ff57"/><stop offset=".44" stop-color="#f0ff0f"/><stop offset=".448" stop-color="#fff500"/><stop offset=".47" stop-color="#ffaf00"/><stop offset=".485" stop-color="#ff8c00"/><stop offset=".5" stop-color="#ff7700"/><stop offset=".515" stop-color="#ff7300"/><stop offset=".53" stop-color="#ff8400"/><stop offset=".545" stop-color="#ffa200"/><stop offset=".575" stop-color="#fffd00"/><stop offset=".649" stop-color="#1affe5"/><stop offset=".657" stop-color="#05fffa"/><stop offset=".672" stop-color="#00dcff"/><stop offset=".694" stop-color="#00abff"/><stop offset=".724" stop-color="#007dff"/><stop offset=".761" stop-color="#005dff"/><stop offset=".813" stop-color="#0049ff"/><stop offset=".978" stop-color="#002eff"/><stop offset="1" stop-color="#002dff"/></linearGradient><linearGradient id="C24"><stop offset="0" stop-color="#003aff"/><stop offset=".059" stop-color="#003bff"/><stop offset=".162" stop-color="#005aff"/><stop offset=".243" stop-color="#0080ff"/><stop offset=".301" stop-color="#00b0ff"/><stop offset=".346" stop-color="#00ebff"/><stop offset=".36" stop-color="#06fff9"/><stop offset=".39" stop-color="#42ffbd"/><stop offset=".426" stop-color="#9fff60"/><stop offset=".456" stop-color="#f1ff0e"/><stop offset=".463" stop-color="#fffb00"/><stop offset=".485" stop-color="#ffcd00"/><stop offset=".5" stop-color="#ffbc00"/><stop offset=".515" stop-color="#ffb900"/><stop offset=".529" stop-color="#ffc600"/><stop offset=".551" stop-color="#ffef00"/><stop offset=".559" stop-color="#fdff02"/><stop offset=".647" stop-color="#0efff1"/><stop offset=".654" stop-color="#00faff"/><stop offset=".684" stop-color="#00b9ff"/><stop offset=".713" stop-color="#0088ff"/><stop offset=".75" stop-color="#0063ff"/><stop offset=".801" stop-color="#004bff"/><stop offset=".978" stop-color="#002eff"/><stop offset="1" stop-color="#002dff"/></linearGradient><linearGradient id="C25"><stop offset="0" stop-color="#003aff"/><stop offset=".074" stop-color="#0040ff"/><stop offset=".191" stop-color="#0066ff"/><stop offset=".265" stop-color="#008dff"/><stop offset=".316" stop-color="#00bcff"/><stop offset=".36" stop-color="#00f9ff"/><stop offset=".368" stop-color="#06fff9"/><stop offset=".412" stop-color="#5cffa3"/><stop offset=".463" stop-color="#cfff30"/><stop offset=".485" stop-color="#f2ff0d"/><stop offset=".5" stop-color="#ffff00"/><stop offset=".522" stop-color="#feff01"/><stop offset=".544" stop-color="#e5ff1a"/><stop offset=".574" stop-color="#aaff55"/><stop offset=".647" stop-color="#00ffff"/><stop offset=".684" stop-color="#00b5ff"/><stop offset=".713" stop-color="#0088ff"/><stop offset=".75" stop-color="#0064ff"/><stop offset=".801" stop-color="#004cff"/><stop offset=".956" stop-color="#0031ff"/><stop offset="1" stop-color="#002eff"/></linearGradient><linearGradient id="C26"><stop offset="0" stop-color="#003bff"/><stop offset=".074" stop-color="#0041ff"/><stop offset=".199" stop-color="#0069ff"/><stop offset=".272" stop-color="#0091ff"/><stop offset=".324" stop-color="#00beff"/><stop offset=".375" stop-color="#03fffc"/><stop offset=".441" stop-color="#77ff88"/><stop offset=".471" stop-color="#a8ff57"/><stop offset=".493" stop-color="#bfff40"/><stop offset=".515" stop-color="#c4ff3b"/><stop offset=".537" stop-color="#b7ff48"/><stop offset=".566" stop-color="#8dff72"/><stop offset=".64" stop-color="#00feff"/><stop offset=".684" stop-color="#00afff"/><stop offset=".721" stop-color="#007eff"/><stop offset=".765" stop-color="#005cff"/><stop offset=".824" stop-color="#0046ff"/><stop offset="1" stop-color="#002fff"/></linearGradient><linearGradient id="C27"><stop offset="0" stop-color="#003bff"/><stop offset=".081" stop-color="#0045ff"/><stop offset=".206" stop-color="#006cff"/><stop offset=".287" stop-color="#0098ff"/><stop offset=".346" stop-color="#00ceff"/><stop offset=".382" stop-color="#00fcff"/><stop offset=".419" stop-color="#32ffcd"/><stop offset=".463" stop-color="#70ff8f"/><stop offset=".493" stop-color="#8aff75"/><stop offset=".522" stop-color="#8cff73"/><stop offset=".551" stop-color="#76ff89"/><stop offset=".588" stop-color="#43ffbc"/><stop offset=".625" stop-color="#06fff9"/><stop offset=".64" stop-color="#00edff"/><stop offset=".691" stop-color="#009eff"/><stop offset=".728" stop-color="#0076ff"/><stop offset=".772" stop-color="#0058ff"/><stop offset=".853" stop-color="#0041ff"/><stop offset="1" stop-color="#0030ff"/></linearGradient><linearGradient id="C28"><stop offset="0" stop-color="#003cff"/><stop offset=".088" stop-color="#0049ff"/><stop offset=".213" stop-color="#006fff"/><stop offset=".287" stop-color="#0095ff"/><stop offset=".346" stop-color="#00c4ff"/><stop offset=".397" stop-color="#00fcff"/><stop offset=".471" stop-color="#4effb1"/><stop offset=".5" stop-color="#5dffa2"/><stop offset=".529" stop-color="#5affa5"/><stop offset=".566" stop-color="#3effc1"/><stop offset=".61" stop-color="#06fff9"/><stop offset=".618" stop-color="#00fbff"/><stop offset=".691" stop-color="#0098ff"/><stop offset=".735" stop-color="#006eff"/><stop offset=".787" stop-color="#0052ff"/><stop offset=".882" stop-color="#003eff"/><stop offset="1" stop-color="#0031ff"/></linearGradient><linearGradient id="C29"><stop offset="0" stop-color="#003dff"/><stop offset=".11" stop-color="#0050ff"/><stop offset=".235" stop-color="#0077ff"/><stop offset=".316" stop-color="#00a4ff"/><stop offset=".397" stop-color="#00e8ff"/><stop offset=".419" stop-color="#00fdff"/><stop offset=".478" stop-color="#2cffd3"/><stop offset=".515" stop-color="#34ffcb"/><stop offset=".551" stop-color="#27ffd8"/><stop offset=".596" stop-color="#00ffff"/><stop offset=".699" stop-color="#008aff"/><stop offset=".75" stop-color="#0063ff"/><stop offset=".816" stop-color="#004aff"/><stop offset="1" stop-color="#0032ff"/></linearGradient><linearGradient id="C30"><stop offset="0" stop-color="#003dff"/><stop offset=".162" stop-color="#005fff"/><stop offset=".265" stop-color="#0083ff"/><stop offset=".338" stop-color="#00acff"/><stop offset=".456" stop-color="#00ffff"/><stop offset=".5" stop-color="#0ffff0"/><stop offset=".544" stop-color="#09fff6"/><stop offset=".566" stop-color="#00fdff"/><stop offset=".625" stop-color="#00cbff"/><stop offset=".713" stop-color="#0079ff"/><stop offset=".772" stop-color="#0058ff"/><stop offset=".86" stop-color="#0044ff"/><stop offset="1" stop-color="#0033ff"/></linearGradient><linearGradient id="C31"><stop offset="0" stop-color="#003eff"/><stop offset=".213" stop-color="#006eff"/><stop offset=".324" stop-color="#009cff"/><stop offset=".456" stop-color="#00e4ff"/><stop offset=".515" stop-color="#00efff"/><stop offset=".559" stop-color="#00e6ff"/><stop offset=".618" stop-color="#00c1ff"/><stop offset=".721" stop-color="#0071ff"/><stop offset=".779" stop-color="#0056ff"/><stop offset=".875" stop-color="#0043ff"/><stop offset="1" stop-color="#0034ff"/></linearGradient><linearGradient id="C32"><stop offset="0" stop-color="#003fff"/><stop offset=".228" stop-color="#0073ff"/><stop offset=".353" stop-color="#00a3ff"/><stop offset=".456" stop-color="#00cdff"/><stop offset=".529" stop-color="#00d4ff"/><stop offset=".581" stop-color="#00c6ff"/><stop offset=".654" stop-color="#0099ff"/><stop offset=".728" stop-color="#006aff"/><stop offset=".801" stop-color="#0050ff"/><stop offset="1" stop-color="#0036ff"/></linearGradient><linearGradient id="C33"><stop offset="0" stop-color="#0040ff"/><stop offset=".25" stop-color="#0078ff"/><stop offset=".441" stop-color="#00b8ff"/><stop offset=".544" stop-color="#00bdff"/><stop offset=".603" stop-color="#00acff"/><stop offset=".735" stop-color="#0065ff"/><stop offset=".831" stop-color="#004cff"/><stop offset="1" stop-color="#0037ff"/></linearGradient><linearGradient id="C34"><stop offset="0" stop-color="#0041ff"/><stop offset=".287" stop-color="#0081ff"/><stop offset=".434" stop-color="#00a8ff"/><stop offset=".551" stop-color="#00acff"/><stop offset=".618" stop-color="#009aff"/><stop offset=".743" stop-color="#0062ff"/><stop offset=".838" stop-color="#004dff"/><stop offset="1" stop-color="#0037ff"/></linearGradient><linearGradient id="C35"><stop offset="0" stop-color="#0042ff"/><stop offset=".426" stop-color="#009cff"/><stop offset=".566" stop-color="#009eff"/><stop offset=".64" stop-color="#0089ff"/><stop offset=".757" stop-color="#005eff"/><stop offset=".868" stop-color="#004cff"/><stop offset=".993" stop-color="#003aff"/><stop offset="1" stop-color="#0038ff"/></linearGradient><linearGradient id="C36"><stop offset="0" stop-color="#0043ff"/><stop offset=".162" stop-color="#0065ff"/><stop offset=".419" stop-color="#0094ff"/><stop offset=".574" stop-color="#0093ff"/><stop offset=".662" stop-color="#007dff"/><stop offset=".772" stop-color="#005bff"/><stop offset=".985" stop-color="#003dff"/><stop offset="1" stop-color="#0039ff"/></linearGradient><linearGradient id="C37"><stop offset="0" stop-color="#0043ff"/><stop offset=".132" stop-color="#0061ff"/><stop offset=".404" stop-color="#008dff"/><stop offset=".581" stop-color="#008cff"/><stop offset=".706" stop-color="#006dff"/><stop offset=".809" stop-color="#0056ff"/><stop offset=".971" stop-color="#0042ff"/><stop offset="1" stop-color="#0039ff"/></linearGradient><linearGradient id="C38"><stop offset="0" stop-color="#0044ff"/><stop offset=".125" stop-color="#0060ff"/><stop offset=".39" stop-color="#0088ff"/><stop offset=".581" stop-color="#0087ff"/><stop offset=".684" stop-color="#0072ff"/><stop offset=".831" stop-color="#0054ff"/><stop offset=".963" stop-color="#0044ff"/><stop offset="1" stop-color="#0039ff"/></linearGradient><linearGradient id="C39"><stop offset="0" stop-color="#0044ff"/><stop offset=".125" stop-color="#0061ff"/><stop offset=".397" stop-color="#0086ff"/><stop offset=".588" stop-color="#0084ff"/><stop offset=".735" stop-color="#0066ff"/><stop offset=".882" stop-color="#0051ff"/><stop offset=".963" stop-color="#0045ff"/><stop offset="1" stop-color="#0039ff"/></linearGradient><linearGradient id="C40"><stop offset="0" stop-color="#0043ff"/><stop offset=".096" stop-color="#005cff"/><stop offset=".375" stop-color="#0083ff"/><stop offset=".581" stop-color="#0083ff"/><stop offset=".721" stop-color="#006bff"/><stop offset=".838" stop-color="#0056ff"/><stop offset=".956" stop-color="#0048ff"/><stop offset="1" stop-color="#0038ff"/></linearGradient><linearGradient id="C41"><stop offset="0" stop-color="#0043ff"/><stop offset=".103" stop-color="#005eff"/><stop offset=".375" stop-color="#0082ff"/><stop offset=".581" stop-color="#0082ff"/><stop offset=".699" stop-color="#0071ff"/><stop offset=".846" stop-color="#0056ff"/><stop offset=".949" stop-color="#004aff"/><stop offset="1" stop-color="#0037ff"/></linearGradient><linearGradient id="C42"><stop offset="0" stop-color="#0042ff"/><stop offset=".096" stop-color="#005cff"/><stop offset=".375" stop-color="#0082ff"/><stop offset=".588" stop-color="#0082ff"/><stop offset=".728" stop-color="#006cff"/><stop offset=".853" stop-color="#0056ff"/><stop offset=".949" stop-color="#004aff"/><stop offset="1" stop-color="#0035ff"/></linearGradient><linearGradient id="C43"><stop offset="0" stop-color="#0043ff"/><stop offset=".097" stop-color="#005dff"/><stop offset=".343" stop-color="#0080ff"/><stop offset=".545" stop-color="#0085ff"/><stop offset=".694" stop-color="#0076ff"/><stop offset=".851" stop-color="#0057ff"/><stop offset=".955" stop-color="#004aff"/><stop offset="1" stop-color="#0038ff"/></linearGradient><linearGradient id="C44"><stop offset="0" stop-color="#0044ff"/><stop offset=".091" stop-color="#005cff"/><stop offset=".348" stop-color="#0081ff"/><stop offset=".545" stop-color="#0086ff"/><stop offset=".697" stop-color="#0077ff"/><stop offset=".856" stop-color="#0057ff"/><stop offset=".97" stop-color="#0047ff"/><stop offset="1" stop-color="#003aff"/></linearGradient><linearGradient id="C45"><stop offset="0" stop-color="#0042ff"/><stop offset=".076" stop-color="#0058ff"/><stop offset=".341" stop-color="#0081ff"/><stop offset=".545" stop-color="#0087ff"/><stop offset=".705" stop-color="#0078ff"/><stop offset=".864" stop-color="#0055ff"/><stop offset=".962" stop-color="#0047ff"/><stop offset="1" stop-color="#0037ff"/></linearGradient><linearGradient id="C46"><stop offset="0" stop-color="#0042ff"/><stop offset=".085" stop-color="#0059ff"/><stop offset=".323" stop-color="#0080ff"/><stop offset=".538" stop-color="#0088ff"/><stop offset=".7" stop-color="#007bff"/><stop offset=".869" stop-color="#0054ff"/><stop offset=".969" stop-color="#0045ff"/><stop offset="1" stop-color="#0038ff"/></linearGradient><linearGradient id="C47"><stop offset="0" stop-color="#0041ff"/><stop offset=".086" stop-color="#0058ff"/><stop offset=".32" stop-color="#0080ff"/><stop offset=".531" stop-color="#0089ff"/><stop offset=".703" stop-color="#007cff"/><stop offset=".883" stop-color="#0051ff"/><stop offset=".969" stop-color="#0044ff"/><stop offset="1" stop-color="#0037ff"/></linearGradient><linearGradient id="C48"><stop offset="0" stop-color="#003fff"/><stop offset=".079" stop-color="#0056ff"/><stop offset=".302" stop-color="#007eff"/><stop offset=".524" stop-color="#0089ff"/><stop offset=".706" stop-color="#007dff"/><stop offset=".889" stop-color="#0050ff"/><stop offset=".968" stop-color="#0042ff"/><stop offset="1" stop-color="#0035ff"/></linearGradient><linearGradient id="C49"><stop offset="0" stop-color="#003dff"/><stop offset=".081" stop-color="#0055ff"/><stop offset=".274" stop-color="#007bff"/><stop offset=".524" stop-color="#0088ff"/><stop offset=".726" stop-color="#007aff"/><stop offset=".911" stop-color="#004cff"/><stop offset=".976" stop-color="#003eff"/><stop offset="1" stop-color="#0033ff"/></linearGradient><linearGradient id="C50"><stop offset="0" stop-color="#003bff"/><stop offset=".082" stop-color="#0055ff"/><stop offset=".246" stop-color="#0077ff"/><stop offset=".533" stop-color="#0086ff"/><stop offset=".738" stop-color="#0079ff"/><stop offset=".861" stop-color="#0058ff"/><stop offset=".975" stop-color="#003cff"/><stop offset="1" stop-color="#0031ff"/></linearGradient><linearGradient id="C51"><stop offset="0" stop-color="#0039ff"/><stop offset=".083" stop-color="#0055ff"/><stop offset=".225" stop-color="#0075ff"/><stop offset=".533" stop-color="#0084ff"/><stop offset=".758" stop-color="#0076ff"/><stop offset=".875" stop-color="#0058ff"/><stop offset=".975" stop-color="#003bff"/><stop offset="1" stop-color="#002fff"/></linearGradient><linearGradient id="C52"><stop offset="0" stop-color="#0037ff"/><stop offset=".093" stop-color="#0059ff"/><stop offset=".212" stop-color="#0074ff"/><stop offset=".534" stop-color="#0082ff"/><stop offset=".78" stop-color="#0074ff"/><stop offset=".932" stop-color="#004bff"/><stop offset="1" stop-color="#002dff"/></linearGradient><linearGradient id="C53"><stop offset="0" stop-color="#0039ff"/><stop offset=".088" stop-color="#005bff"/><stop offset=".193" stop-color="#0072ff"/><stop offset=".316" stop-color="#0076ff"/><stop offset=".526" stop-color="#0080ff"/><stop offset=".719" stop-color="#0078ff"/><stop offset=".825" stop-color="#006fff"/><stop offset=".947" stop-color="#004bff"/><stop offset="1" stop-color="#0031ff"/></linearGradient><linearGradient id="C54"><stop offset="0" stop-color="#0038ff"/><stop offset=".08" stop-color="#005aff"/><stop offset=".188" stop-color="#0072ff"/><stop offset=".402" stop-color="#0077ff"/><stop offset=".527" stop-color="#007dff"/><stop offset=".696" stop-color="#0075ff"/><stop offset=".804" stop-color="#0074ff"/><stop offset=".911" stop-color="#005bff"/><stop offset=".982" stop-color="#003cff"/><stop offset="1" stop-color="#0031ff"/></linearGradient><linearGradient id="C55"><stop offset="0" stop-color="#003cff"/><stop offset=".074" stop-color="#005cff"/><stop offset=".176" stop-color="#0071ff"/><stop offset=".287" stop-color="#0071ff"/><stop offset=".38" stop-color="#0072ff"/><stop offset=".519" stop-color="#007cff"/><stop offset=".676" stop-color="#0071ff"/><stop offset=".815" stop-color="#0074ff"/><stop offset=".907" stop-color="#0061ff"/><stop offset=".981" stop-color="#0042ff"/><stop offset="1" stop-color="#0037ff"/></linearGradient><linearGradient id="C56"><stop offset="0" stop-color="#0040ff"/><stop offset=".077" stop-color="#005fff"/><stop offset=".173" stop-color="#0071ff"/><stop offset=".365" stop-color="#006dff"/><stop offset=".5" stop-color="#007aff"/><stop offset=".683" stop-color="#006dff"/><stop offset=".817" stop-color="#0074ff"/><stop offset=".913" stop-color="#0063ff"/><stop offset=".981" stop-color="#0048ff"/><stop offset="1" stop-color="#003dff"/></linearGradient><linearGradient id="C57"><stop offset="0" stop-color="#0043ff"/><stop offset=".09" stop-color="#0063ff"/><stop offset=".18" stop-color="#0070ff"/><stop offset=".35" stop-color="#0068ff"/><stop offset=".5" stop-color="#0079ff"/><stop offset=".69" stop-color="#0068ff"/><stop offset=".82" stop-color="#0073ff"/><stop offset=".92" stop-color="#0063ff"/><stop offset="1" stop-color="#0043ff"/></linearGradient><linearGradient id="C58"><stop offset="0" stop-color="#0044ff"/><stop offset=".083" stop-color="#0061ff"/><stop offset=".177" stop-color="#006eff"/><stop offset=".333" stop-color="#0063ff"/><stop offset=".49" stop-color="#0077ff"/><stop offset=".594" stop-color="#006fff"/><stop offset=".687" stop-color="#0063ff"/><stop offset=".833" stop-color="#0071ff"/><stop offset=".927" stop-color="#0061ff"/><stop offset="1" stop-color="#0045ff"/></linearGradient><linearGradient id="C59"><stop offset="0" stop-color="#0044ff"/><stop offset=".098" stop-color="#0063ff"/><stop offset=".185" stop-color="#006bff"/><stop offset=".315" stop-color="#005fff"/><stop offset=".478" stop-color="#0076ff"/><stop offset=".587" stop-color="#006fff"/><stop offset=".696" stop-color="#005fff"/><stop offset=".826" stop-color="#006eff"/><stop offset=".902" stop-color="#0066ff"/><stop offset=".989" stop-color="#004aff"/><stop offset="1" stop-color="#0045ff"/></linearGradient><linearGradient id="C60"><stop offset="0" stop-color="#0047ff"/><stop offset=".105" stop-color="#0064ff"/><stop offset=".186" stop-color="#0068ff"/><stop offset=".314" stop-color="#005dff"/><stop offset=".465" stop-color="#0075ff"/><stop offset=".57" stop-color="#0071ff"/><stop offset=".709" stop-color="#005cff"/><stop offset=".837" stop-color="#006bff"/><stop offset=".919" stop-color="#0062ff"/><stop offset="1" stop-color="#0048ff"/></linearGradient><linearGradient id="C61"><stop offset="0" stop-color="#0044ff"/><stop offset=".098" stop-color="#0060ff"/><stop offset=".195" stop-color="#0064ff"/><stop offset=".293" stop-color="#005cff"/><stop offset=".476" stop-color="#0075ff"/><stop offset=".573" stop-color="#0070ff"/><stop offset=".707" stop-color="#005cff"/><stop offset=".854" stop-color="#0067ff"/><stop offset=".939" stop-color="#005aff"/><stop offset="1" stop-color="#0046ff"/></linearGradient><linearGradient id="C62"><stop offset="0" stop-color="#0046ff"/><stop offset=".118" stop-color="#0061ff"/><stop offset=".303" stop-color="#005eff"/><stop offset=".487" stop-color="#0074ff"/><stop offset=".618" stop-color="#0069ff"/><stop offset=".724" stop-color="#005cff"/><stop offset=".882" stop-color="#0062ff"/><stop offset=".974" stop-color="#0050ff"/><stop offset="1" stop-color="#0047ff"/></linearGradient><linearGradient id="C63"><stop offset="0" stop-color="#004bff"/><stop offset=".103" stop-color="#005dff"/><stop offset=".294" stop-color="#005dff"/><stop offset=".485" stop-color="#0072ff"/><stop offset=".618" stop-color="#0068ff"/><stop offset=".765" stop-color="#005aff"/><stop offset=".912" stop-color="#005dff"/><stop offset="1" stop-color="#004cff"/></linearGradient><linearGradient id="C64"><stop offset="0" stop-color="#004eff"/><stop offset=".083" stop-color="#0057ff"/><stop offset=".267" stop-color="#005aff"/><stop offset=".483" stop-color="#006eff"/><stop offset=".617" stop-color="#0066ff"/><stop offset=".8" stop-color="#0056ff"/><stop offset=".95" stop-color="#0056ff"/><stop offset="1" stop-color="#004fff"/></linearGradient><linearGradient id="C65"><stop offset="0" stop-color="#004dff"/><stop offset=".24" stop-color="#0055ff"/><stop offset=".48" stop-color="#0069ff"/><stop offset=".66" stop-color="#005eff"/><stop offset=".88" stop-color="#004eff"/><stop offset="1" stop-color="#004dff"/></linearGradient><linearGradient id="C66"><stop offset="0" stop-color="#0044ff"/><stop offset=".472" stop-color="#0060ff"/><stop offset=".694" stop-color="#0057ff"/><stop offset="1" stop-color="#0043ff"/></linearGradient><clipPath id="clipC"><ellipse cx="158.6" cy="449.0" rx="101.65" ry="99.10"/></clipPath></defs>
<g clip-path="url(#clipC)"><rect x="131.5" y="349.15" width="54.2" height="4.08" fill="url(#C0)"/><rect x="121.0" y="352.13" width="75.3" height="4.08" fill="url(#C1)"/><rect x="113.4" y="355.11" width="90.4" height="4.08" fill="url(#C2)"/><rect x="107.4" y="358.09" width="102.4" height="4.08" fill="url(#C3)"/><rect x="101.4" y="361.07" width="114.4" height="4.08" fill="url(#C4)"/><rect x="96.9" y="364.05" width="123.5" height="4.08" fill="url(#C5)"/><rect x="93.8" y="367.03" width="129.5" height="4.08" fill="url(#C6)"/><rect x="89.3" y="370.01" width="138.5" height="4.08" fill="url(#C7)"/><rect x="86.3" y="372.99" width="144.6" height="4.08" fill="url(#C8)"/><rect x="83.3" y="375.98" width="150.6" height="4.08" fill="url(#C9)"/><rect x="80.3" y="378.96" width="156.6" height="4.08" fill="url(#C10)"/><rect x="77.3" y="381.94" width="162.6" height="4.08" fill="url(#C11)"/><rect x="74.3" y="384.92" width="168.7" height="4.08" fill="url(#C12)"/><rect x="72.8" y="387.90" width="171.7" height="4.08" fill="url(#C13)"/><rect x="69.8" y="390.88" width="177.7" height="4.08" fill="url(#C14)"/><rect x="68.2" y="393.86" width="180.7" height="4.08" fill="url(#C15)"/><rect x="66.7" y="396.84" width="183.7" height="4.08" fill="url(#C16)"/><rect x="65.2" y="399.82" width="186.7" height="4.08" fill="url(#C17)"/><rect x="63.7" y="402.80" width="189.7" height="4.08" fill="url(#C18)"/><rect x="62.2" y="405.78" width="192.8" height="4.08" fill="url(#C19)"/><rect x="60.7" y="408.76" width="195.8" height="4.08" fill="url(#C20)"/><rect x="59.2" y="411.74" width="198.8" height="4.08" fill="url(#C21)"/><rect x="59.2" y="414.72" width="198.8" height="4.08" fill="url(#C22)"/><rect x="57.7" y="417.70" width="201.8" height="4.08" fill="url(#C23)"/><rect x="56.2" y="420.68" width="204.8" height="4.08" fill="url(#C24)"/><rect x="56.2" y="423.66" width="204.8" height="4.08" fill="url(#C25)"/><rect x="56.2" y="426.65" width="204.8" height="4.08" fill="url(#C26)"/><rect x="56.2" y="429.63" width="204.8" height="4.08" fill="url(#C27)"/><rect x="56.2" y="432.61" width="204.8" height="4.08" fill="url(#C28)"/><rect x="56.2" y="435.59" width="204.8" height="4.08" fill="url(#C29)"/><rect x="56.2" y="438.57" width="204.8" height="4.08" fill="url(#C30)"/><rect x="56.2" y="441.55" width="204.8" height="4.08" fill="url(#C31)"/><rect x="56.2" y="444.53" width="204.8" height="4.08" fill="url(#C32)"/><rect x="56.2" y="447.51" width="204.8" height="4.08" fill="url(#C33)"/><rect x="56.2" y="450.49" width="204.8" height="4.08" fill="url(#C34)"/><rect x="56.2" y="453.47" width="204.8" height="4.08" fill="url(#C35)"/><rect x="56.2" y="456.45" width="204.8" height="4.08" fill="url(#C36)"/><rect x="56.2" y="459.43" width="204.8" height="4.08" fill="url(#C37)"/><rect x="56.2" y="462.41" width="204.8" height="4.08" fill="url(#C38)"/><rect x="56.2" y="465.39" width="204.8" height="4.08" fill="url(#C39)"/><rect x="56.2" y="468.37" width="204.8" height="4.08" fill="url(#C40)"/><rect x="56.2" y="471.35" width="204.8" height="4.08" fill="url(#C41)"/><rect x="56.2" y="474.34" width="204.8" height="4.08" fill="url(#C42)"/><rect x="57.7" y="477.32" width="201.8" height="4.08" fill="url(#C43)"/><rect x="59.2" y="480.30" width="198.8" height="4.08" fill="url(#C44)"/><rect x="59.2" y="483.28" width="198.8" height="4.08" fill="url(#C45)"/><rect x="60.7" y="486.26" width="195.8" height="4.08" fill="url(#C46)"/><rect x="62.2" y="489.24" width="192.8" height="4.08" fill="url(#C47)"/><rect x="63.7" y="492.22" width="189.7" height="4.08" fill="url(#C48)"/><rect x="65.2" y="495.20" width="186.7" height="4.08" fill="url(#C49)"/><rect x="66.7" y="498.18" width="183.7" height="4.08" fill="url(#C50)"/><rect x="68.2" y="501.16" width="180.7" height="4.08" fill="url(#C51)"/><rect x="69.8" y="504.14" width="177.7" height="4.08" fill="url(#C52)"/><rect x="72.8" y="507.12" width="171.7" height="4.08" fill="url(#C53)"/><rect x="74.3" y="510.10" width="168.7" height="4.08" fill="url(#C54)"/><rect x="77.3" y="513.08" width="162.6" height="4.08" fill="url(#C55)"/><rect x="80.3" y="516.06" width="156.6" height="4.08" fill="url(#C56)"/><rect x="83.3" y="519.04" width="150.6" height="4.08" fill="url(#C57)"/><rect x="86.3" y="522.02" width="144.6" height="4.08" fill="url(#C58)"/><rect x="89.3" y="525.01" width="138.5" height="4.08" fill="url(#C59)"/><rect x="93.8" y="527.99" width="129.5" height="4.08" fill="url(#C60)"/><rect x="96.9" y="530.97" width="123.5" height="4.08" fill="url(#C61)"/><rect x="101.4" y="533.95" width="114.4" height="4.08" fill="url(#C62)"/><rect x="107.4" y="536.93" width="102.4" height="4.08" fill="url(#C63)"/><rect x="113.4" y="539.91" width="90.4" height="4.08" fill="url(#C64)"/><rect x="121.0" y="542.89" width="75.3" height="4.08" fill="url(#C65)"/><rect x="131.5" y="545.87" width="54.2" height="4.08" fill="url(#C66)"/></g>
<g fill="none" stroke="#111" stroke-width="1.1" stroke-linejoin="round"><path d="M58.2 430.1C57.8 429.5 56.5 427.3 55.7 426.6C54.9 425.9 54.1 425.7 53.3 425.7C52.5 425.7 51.5 426.0 50.8 426.6C50.1 427.2 49.4 427.9 49.0 429.1C48.6 430.3 48.6 431.5 48.6 434.0C48.6 436.5 49.0 440.9 49.1 443.9C49.2 446.9 49.2 449.0 49.0 451.8C48.8 454.6 48.3 458.1 48.1 460.7C47.9 463.3 47.7 465.6 47.8 467.6C47.9 469.6 48.2 471.2 48.8 472.6C49.4 474.0 50.4 475.3 51.3 476.0C52.2 476.7 53.3 477.0 54.3 477.0C55.3 477.0 56.3 476.6 57.2 476.0C58.1 475.4 59.2 474.0 59.6 473.6"/><path d="M259.0 430.1C259.4 429.5 260.7 427.3 261.5 426.6C262.3 425.9 263.1 425.7 263.9 425.7C264.7 425.7 265.7 426.0 266.4 426.6C267.1 427.2 267.8 427.9 268.2 429.1C268.6 430.3 268.6 431.5 268.6 434.0C268.6 436.5 268.2 440.9 268.1 443.9C268.0 446.9 268.0 449.0 268.2 451.8C268.4 454.6 268.9 458.1 269.1 460.7C269.3 463.3 269.5 465.6 269.4 467.6C269.3 469.6 269.0 471.2 268.4 472.6C267.8 474.0 266.8 475.3 265.9 476.0C265.0 476.7 263.9 477.0 262.9 477.0C261.9 477.0 260.9 476.6 260.0 476.0C259.1 475.4 258.0 474.0 257.6 473.6"/><path d="M141.0 350.8L153.6 337.4C155.4 335.4 156.8 335.4 158.6 335.4C160.4 335.4 161.8 335.4 163.6 337.4L176.2 350.8"/></g>
<ellipse cx="158.6" cy="449.0" rx="101.65" ry="99.10" fill="none" stroke="#0a0a14" stroke-width="1.5"/>
<g class="el" font-size="6.7" fill="#05051a" fill-opacity=".9"><circle cx="131.8" cy="368.7" r="0.95"/><text x="133.9" y="371.0">Fp1</text><circle cx="185.4" cy="368.7" r="0.95"/><text x="187.5" y="371.0">Fp2</text><circle cx="88.5" cy="399.4" r="0.95"/><text x="90.6" y="401.7">F7</text><circle cx="228.7" cy="399.4" r="0.95"/><text x="230.8" y="401.7">F8</text><circle cx="72.0" cy="449.0" r="0.95"/><text x="74.1" y="451.3">T7</text><circle cx="245.2" cy="449.0" r="0.95"/><text x="247.3" y="451.3">T8</text><circle cx="88.5" cy="498.6" r="0.95"/><text x="90.6" y="500.9">P7</text><circle cx="228.7" cy="498.6" r="0.95"/><text x="230.8" y="500.9">P8</text><circle cx="131.8" cy="529.3" r="0.95"/><text x="133.9" y="531.6">O1</text><circle cx="185.4" cy="529.3" r="0.95"/><text x="187.5" y="531.6">O2</text><circle cx="123.3" cy="406.5" r="0.95"/><text x="125.4" y="408.8">F3</text><circle cx="193.9" cy="406.5" r="0.95"/><text x="196.0" y="408.8">F4</text><circle cx="158.6" cy="406.7" r="0.95"/><text x="160.7" y="409.0">Fz</text><circle cx="158.6" cy="449.0" r="0.95"/><text x="160.7" y="451.3">Cz</text><circle cx="158.6" cy="491.3" r="0.95"/><text x="160.7" y="493.6">Pz</text><circle cx="115.3" cy="449.0" r="0.95"/><text x="117.4" y="451.3">C3</text><circle cx="201.9" cy="449.0" r="0.95"/><text x="204.0" y="451.3">C4</text><circle cx="123.3" cy="491.5" r="0.95"/><text x="125.4" y="493.8">P3</text><circle cx="193.9" cy="491.5" r="0.95"/><text x="196.0" y="493.8">P4</text></g>
<!-- head D -->
<defs><linearGradient id="D0"><stop offset="0" stop-color="#0000fd"/><stop offset=".306" stop-color="#0000fc"/><stop offset=".611" stop-color="#0000f1"/><stop offset="1" stop-color="#0000ed"/></linearGradient><linearGradient id="D1"><stop offset="0" stop-color="#0000f3"/><stop offset=".12" stop-color="#0004ff"/><stop offset=".3" stop-color="#000cff"/><stop offset=".58" stop-color="#0000fd"/><stop offset=".94" stop-color="#0000eb"/><stop offset="1" stop-color="#0000e7"/></linearGradient><linearGradient id="D2"><stop offset="0" stop-color="#0000f0"/><stop offset=".117" stop-color="#0001ff"/><stop offset=".233" stop-color="#0016ff"/><stop offset=".367" stop-color="#0019ff"/><stop offset=".767" stop-color="#0000fc"/><stop offset=".95" stop-color="#0000e6"/><stop offset="1" stop-color="#0000e5"/></linearGradient><linearGradient id="D3"><stop offset="0" stop-color="#0000f2"/><stop offset=".103" stop-color="#0000fc"/><stop offset=".147" stop-color="#0008ff"/><stop offset=".265" stop-color="#0024ff"/><stop offset=".382" stop-color="#002aff"/><stop offset=".632" stop-color="#0017ff"/><stop offset=".779" stop-color="#0000fe"/><stop offset=".912" stop-color="#0000e8"/><stop offset="1" stop-color="#0000e6"/></linearGradient><linearGradient id="D4"><stop offset="0" stop-color="#0000f4"/><stop offset=".105" stop-color="#0000fc"/><stop offset=".158" stop-color="#000bff"/><stop offset=".289" stop-color="#0035ff"/><stop offset=".395" stop-color="#003dff"/><stop offset=".566" stop-color="#0031ff"/><stop offset=".737" stop-color="#000dff"/><stop offset=".789" stop-color="#0000fd"/><stop offset=".895" stop-color="#0000e8"/><stop offset="1" stop-color="#0000e8"/></linearGradient><linearGradient id="D5"><stop offset="0" stop-color="#0000f5"/><stop offset=".122" stop-color="#0002ff"/><stop offset=".22" stop-color="#0025ff"/><stop offset=".293" stop-color="#0043ff"/><stop offset=".39" stop-color="#0051ff"/><stop offset=".512" stop-color="#004dff"/><stop offset=".634" stop-color="#0035ff"/><stop offset=".793" stop-color="#0000fe"/><stop offset=".89" stop-color="#0000e9"/><stop offset="1" stop-color="#0000e9"/></linearGradient><linearGradient id="D6"><stop offset="0" stop-color="#0000f6"/><stop offset=".116" stop-color="#0003ff"/><stop offset=".198" stop-color="#0020ff"/><stop offset=".302" stop-color="#0054ff"/><stop offset=".407" stop-color="#0066ff"/><stop offset=".5" stop-color="#0067ff"/><stop offset=".593" stop-color="#0054ff"/><stop offset=".756" stop-color="#0012ff"/><stop offset=".802" stop-color="#0000fe"/><stop offset=".884" stop-color="#0000ea"/><stop offset="1" stop-color="#0000ea"/></linearGradient><linearGradient id="D7"><stop offset="0" stop-color="#0000f8"/><stop offset=".087" stop-color="#0000fc"/><stop offset=".141" stop-color="#0009ff"/><stop offset=".228" stop-color="#0031ff"/><stop offset=".326" stop-color="#0066ff"/><stop offset=".435" stop-color="#007fff"/><stop offset=".511" stop-color="#007fff"/><stop offset=".598" stop-color="#0066ff"/><stop offset=".793" stop-color="#0002ff"/><stop offset=".891" stop-color="#0000e9"/><stop offset=".989" stop-color="#0000ea"/><stop offset="1" stop-color="#0000ec"/></linearGradient><linearGradient id="D8"><stop offset="0" stop-color="#0000f9"/><stop offset=".083" stop-color="#0000fc"/><stop offset=".146" stop-color="#000cff"/><stop offset=".229" stop-color="#0034ff"/><stop offset=".344" stop-color="#0078ff"/><stop offset=".437" stop-color="#0096ff"/><stop offset=".5" stop-color="#009bff"/><stop offset=".562" stop-color="#008bff"/><stop offset=".646" stop-color="#005eff"/><stop offset=".76" stop-color="#0014ff"/><stop offset=".802" stop-color="#0000ff"/><stop offset=".885" stop-color="#0000eb"/><stop offset=".99" stop-color="#0000ec"/><stop offset="1" stop-color="#0000ee"/></linearGradient><linearGradient id="D9"><stop offset="0" stop-color="#0000fb"/><stop offset=".08" stop-color="#0000fd"/><stop offset=".14" stop-color="#000bff"/><stop offset=".21" stop-color="#002aff"/><stop offset=".36" stop-color="#008bff"/><stop offset=".44" stop-color="#00aeff"/><stop offset=".49" stop-color="#00b7ff"/><stop offset=".54" stop-color="#00aeff"/><stop offset=".6" stop-color="#008dff"/><stop offset=".75" stop-color="#001cff"/><stop offset=".81" stop-color="#0000fd"/><stop offset=".89" stop-color="#0000ec"/><stop offset=".99" stop-color="#0000ef"/><stop offset="1" stop-color="#0000f1"/></linearGradient><linearGradient id="D10"><stop offset="0" stop-color="#0000fe"/><stop offset=".077" stop-color="#0000fe"/><stop offset=".144" stop-color="#000dff"/><stop offset=".221" stop-color="#0031ff"/><stop offset=".404" stop-color="#00b2ff"/><stop offset=".471" stop-color="#00d2ff"/><stop offset=".519" stop-color="#00d2ff"/><stop offset=".567" stop-color="#00bbff"/><stop offset=".654" stop-color="#0070ff"/><stop offset=".731" stop-color="#002bff"/><stop offset=".788" stop-color="#0008ff"/><stop offset=".817" stop-color="#0000fb"/><stop offset=".894" stop-color="#0000ee"/><stop offset=".99" stop-color="#0000f4"/><stop offset="1" stop-color="#0000f6"/></linearGradient><linearGradient id="D11"><stop offset="0" stop-color="#0002ff"/><stop offset=".093" stop-color="#0003ff"/><stop offset=".167" stop-color="#0016ff"/><stop offset=".241" stop-color="#003dff"/><stop offset=".38" stop-color="#00afff"/><stop offset=".454" stop-color="#00e6ff"/><stop offset=".491" stop-color="#00f4ff"/><stop offset=".528" stop-color="#00eeff"/><stop offset=".574" stop-color="#00ceff"/><stop offset=".713" stop-color="#003bff"/><stop offset=".769" stop-color="#0012ff"/><stop offset=".806" stop-color="#0001ff"/><stop offset=".88" stop-color="#0000f2"/><stop offset=".981" stop-color="#0000f7"/><stop offset="1" stop-color="#0000fa"/></linearGradient><linearGradient id="D12"><stop offset="0" stop-color="#0005ff"/><stop offset=".089" stop-color="#0005ff"/><stop offset=".17" stop-color="#0018ff"/><stop offset=".232" stop-color="#0037ff"/><stop offset=".295" stop-color="#0067ff"/><stop offset=".446" stop-color="#00fbff"/><stop offset=".482" stop-color="#13ffec"/><stop offset=".518" stop-color="#13ffec"/><stop offset=".554" stop-color="#00fbff"/><stop offset=".616" stop-color="#00b2ff"/><stop offset=".688" stop-color="#0056ff"/><stop offset=".741" stop-color="#0023ff"/><stop offset=".795" stop-color="#0005ff"/><stop offset=".83" stop-color="#0000fb"/><stop offset=".92" stop-color="#0000f6"/><stop offset="1" stop-color="#0000ff"/></linearGradient><linearGradient id="D13"><stop offset="0" stop-color="#0006ff"/><stop offset=".088" stop-color="#0008ff"/><stop offset=".167" stop-color="#0019ff"/><stop offset=".237" stop-color="#003cff"/><stop offset=".307" stop-color="#0075ff"/><stop offset=".395" stop-color="#00d8ff"/><stop offset=".421" stop-color="#00f9ff"/><stop offset=".439" stop-color="#0ffff0"/><stop offset=".474" stop-color="#30ffcf"/><stop offset=".5" stop-color="#39ffc6"/><stop offset=".535" stop-color="#2bffd4"/><stop offset=".57" stop-color="#05fffa"/><stop offset=".588" stop-color="#00ecff"/><stop offset=".675" stop-color="#006aff"/><stop offset=".728" stop-color="#002fff"/><stop offset=".772" stop-color="#0011ff"/><stop offset=".825" stop-color="#0000ff"/><stop offset=".93" stop-color="#0000fb"/><stop offset="1" stop-color="#0001ff"/></linearGradient><linearGradient id="D14"><stop offset="0" stop-color="#0008ff"/><stop offset=".085" stop-color="#0009ff"/><stop offset=".178" stop-color="#001dff"/><stop offset=".246" stop-color="#0040ff"/><stop offset=".305" stop-color="#0072ff"/><stop offset=".373" stop-color="#00c3ff"/><stop offset=".407" stop-color="#00f5ff"/><stop offset=".415" stop-color="#04fffb"/><stop offset=".458" stop-color="#41ffbe"/><stop offset=".483" stop-color="#57ffa8"/><stop offset=".508" stop-color="#5affa5"/><stop offset=".534" stop-color="#4bffb4"/><stop offset=".568" stop-color="#20ffdf"/><stop offset=".585" stop-color="#04fffb"/><stop offset=".61" stop-color="#00d6ff"/><stop offset=".669" stop-color="#0072ff"/><stop offset=".712" stop-color="#003cff"/><stop offset=".754" stop-color="#0019ff"/><stop offset=".805" stop-color="#0005ff"/><stop offset=".898" stop-color="#0001ff"/><stop offset="1" stop-color="#0003ff"/></linearGradient><linearGradient id="D15"><stop offset="0" stop-color="#0008ff"/><stop offset=".083" stop-color="#000bff"/><stop offset=".192" stop-color="#0024ff"/><stop offset=".258" stop-color="#0049ff"/><stop offset=".317" stop-color="#0080ff"/><stop offset=".367" stop-color="#00c1ff"/><stop offset=".4" stop-color="#00f7ff"/><stop offset=".408" stop-color="#08fff7"/><stop offset=".45" stop-color="#53ffac"/><stop offset=".475" stop-color="#72ff8d"/><stop offset=".5" stop-color="#7cff83"/><stop offset=".525" stop-color="#72ff8d"/><stop offset=".55" stop-color="#54ffab"/><stop offset=".583" stop-color="#19ffe6"/><stop offset=".592" stop-color="#08fff7"/><stop offset=".6" stop-color="#00f7ff"/><stop offset=".658" stop-color="#0087ff"/><stop offset=".7" stop-color="#0048ff"/><stop offset=".742" stop-color="#0020ff"/><stop offset=".792" stop-color="#000aff"/><stop offset=".867" stop-color="#0005ff"/><stop offset="1" stop-color="#0002ff"/></linearGradient><linearGradient id="D16"><stop offset="0" stop-color="#0007ff"/><stop offset=".082" stop-color="#000cff"/><stop offset=".197" stop-color="#0027ff"/><stop offset=".254" stop-color="#0046ff"/><stop offset=".303" stop-color="#0071ff"/><stop offset=".352" stop-color="#00b0ff"/><stop offset=".393" stop-color="#00f6ff"/><stop offset=".402" stop-color="#08fff7"/><stop offset=".451" stop-color="#6cff93"/><stop offset=".475" stop-color="#8dff72"/><stop offset=".5" stop-color="#97ff68"/><stop offset=".525" stop-color="#8dff72"/><stop offset=".549" stop-color="#6dff92"/><stop offset=".582" stop-color="#2cffd3"/><stop offset=".598" stop-color="#08fff7"/><stop offset=".607" stop-color="#00f4ff"/><stop offset=".664" stop-color="#007eff"/><stop offset=".697" stop-color="#004aff"/><stop offset=".738" stop-color="#0022ff"/><stop offset=".787" stop-color="#000cff"/><stop offset=".852" stop-color="#0008ff"/><stop offset=".926" stop-color="#0004ff"/><stop offset="1" stop-color="#0001ff"/></linearGradient><linearGradient id="D17"><stop offset="0" stop-color="#0007ff"/><stop offset=".073" stop-color="#000bff"/><stop offset=".194" stop-color="#0027ff"/><stop offset=".258" stop-color="#0048ff"/><stop offset=".306" stop-color="#0073ff"/><stop offset=".347" stop-color="#00a8ff"/><stop offset=".395" stop-color="#02fffd"/><stop offset=".444" stop-color="#71ff8e"/><stop offset=".468" stop-color="#99ff66"/><stop offset=".484" stop-color="#a8ff57"/><stop offset=".508" stop-color="#abff54"/><stop offset=".524" stop-color="#a2ff5d"/><stop offset=".548" stop-color="#81ff7e"/><stop offset=".581" stop-color="#3cffc3"/><stop offset=".605" stop-color="#01fffe"/><stop offset=".661" stop-color="#0081ff"/><stop offset=".694" stop-color="#004bff"/><stop offset=".734" stop-color="#0023ff"/><stop offset=".782" stop-color="#000dff"/><stop offset=".855" stop-color="#000aff"/><stop offset=".944" stop-color="#0002ff"/><stop offset="1" stop-color="#0000ff"/></linearGradient><linearGradient id="D18"><stop offset="0" stop-color="#0006ff"/><stop offset=".079" stop-color="#000bff"/><stop offset=".206" stop-color="#002bff"/><stop offset=".262" stop-color="#004aff"/><stop offset=".31" stop-color="#0075ff"/><stop offset=".349" stop-color="#00abff"/><stop offset=".381" stop-color="#00e5ff"/><stop offset=".389" stop-color="#00f6ff"/><stop offset=".397" stop-color="#09fff6"/><stop offset=".444" stop-color="#7fff80"/><stop offset=".468" stop-color="#a8ff57"/><stop offset=".484" stop-color="#b7ff48"/><stop offset=".508" stop-color="#baff45"/><stop offset=".524" stop-color="#b1ff4e"/><stop offset=".548" stop-color="#8fff70"/><stop offset=".579" stop-color="#47ffb8"/><stop offset=".603" stop-color="#09fff6"/><stop offset=".611" stop-color="#00f4ff"/><stop offset=".659" stop-color="#0083ff"/><stop offset=".69" stop-color="#004bff"/><stop offset=".73" stop-color="#0023ff"/><stop offset=".778" stop-color="#000fff"/><stop offset=".857" stop-color="#000aff"/><stop offset=".976" stop-color="#0000fd"/><stop offset="1" stop-color="#0000fd"/></linearGradient><linearGradient id="D19"><stop offset="0" stop-color="#0005ff"/><stop offset=".086" stop-color="#000bff"/><stop offset=".211" stop-color="#002cff"/><stop offset=".273" stop-color="#0050ff"/><stop offset=".32" stop-color="#007fff"/><stop offset=".359" stop-color="#00b9ff"/><stop offset=".391" stop-color="#00f8ff"/><stop offset=".398" stop-color="#0cfff3"/><stop offset=".445" stop-color="#84ff7b"/><stop offset=".469" stop-color="#aeff51"/><stop offset=".492" stop-color="#c1ff3e"/><stop offset=".516" stop-color="#beff41"/><stop offset=".539" stop-color="#a3ff5c"/><stop offset=".57" stop-color="#5fffa0"/><stop offset=".602" stop-color="#0dfff2"/><stop offset=".609" stop-color="#00f7ff"/><stop offset=".656" stop-color="#0085ff"/><stop offset=".68" stop-color="#0058ff"/><stop offset=".711" stop-color="#0031ff"/><stop offset=".75" stop-color="#0017ff"/><stop offset=".805" stop-color="#000bff"/><stop offset=".914" stop-color="#0003ff"/><stop offset="1" stop-color="#0000fb"/></linearGradient><linearGradient id="D20"><stop offset="0" stop-color="#0005ff"/><stop offset=".085" stop-color="#000aff"/><stop offset=".2" stop-color="#0027ff"/><stop offset=".262" stop-color="#0045ff"/><stop offset=".308" stop-color="#006dff"/><stop offset=".346" stop-color="#009fff"/><stop offset=".385" stop-color="#00e6ff"/><stop offset=".392" stop-color="#00f7ff"/><stop offset=".4" stop-color="#0bfff4"/><stop offset=".446" stop-color="#82ff7d"/><stop offset=".462" stop-color="#a1ff5e"/><stop offset=".485" stop-color="#bbff44"/><stop offset=".508" stop-color="#beff41"/><stop offset=".523" stop-color="#b5ff4a"/><stop offset=".546" stop-color="#93ff6c"/><stop offset=".577" stop-color="#4affb5"/><stop offset=".6" stop-color="#0cfff3"/><stop offset=".608" stop-color="#00f6ff"/><stop offset=".654" stop-color="#0086ff"/><stop offset=".685" stop-color="#004eff"/><stop offset=".723" stop-color="#0026ff"/><stop offset=".769" stop-color="#0010ff"/><stop offset=".938" stop-color="#0000fc"/><stop offset="1" stop-color="#0000fa"/></linearGradient><linearGradient id="D21"><stop offset="0" stop-color="#0006ff"/><stop offset=".068" stop-color="#0007ff"/><stop offset=".189" stop-color="#0021ff"/><stop offset=".265" stop-color="#0045ff"/><stop offset=".311" stop-color="#006dff"/><stop offset=".348" stop-color="#009eff"/><stop offset=".379" stop-color="#00d3ff"/><stop offset=".394" stop-color="#00f3ff"/><stop offset=".402" stop-color="#06fff9"/><stop offset=".447" stop-color="#79ff86"/><stop offset=".47" stop-color="#a1ff5e"/><stop offset=".485" stop-color="#b0ff4f"/><stop offset=".508" stop-color="#b3ff4c"/><stop offset=".523" stop-color="#aaff55"/><stop offset=".545" stop-color="#89ff76"/><stop offset=".576" stop-color="#42ffbd"/><stop offset=".598" stop-color="#06fff9"/><stop offset=".614" stop-color="#00deff"/><stop offset=".652" stop-color="#0086ff"/><stop offset=".682" stop-color="#0051ff"/><stop offset=".712" stop-color="#002eff"/><stop offset=".75" stop-color="#0016ff"/><stop offset=".818" stop-color="#0008ff"/><stop offset=".932" stop-color="#0000fb"/><stop offset="1" stop-color="#0000f9"/></linearGradient><linearGradient id="D22"><stop offset="0" stop-color="#0005ff"/><stop offset=".091" stop-color="#000aff"/><stop offset=".212" stop-color="#0029ff"/><stop offset=".273" stop-color="#004aff"/><stop offset=".318" stop-color="#0073ff"/><stop offset=".364" stop-color="#00b2ff"/><stop offset=".402" stop-color="#00fcff"/><stop offset=".424" stop-color="#33ffcc"/><stop offset=".455" stop-color="#77ff88"/><stop offset=".477" stop-color="#98ff67"/><stop offset=".5" stop-color="#a2ff5d"/><stop offset=".523" stop-color="#98ff67"/><stop offset=".545" stop-color="#77ff88"/><stop offset=".576" stop-color="#34ffcb"/><stop offset=".598" stop-color="#00fbff"/><stop offset=".644" stop-color="#0094ff"/><stop offset=".682" stop-color="#0052ff"/><stop offset=".72" stop-color="#0029ff"/><stop offset=".765" stop-color="#0011ff"/><stop offset=".879" stop-color="#0001ff"/><stop offset="1" stop-color="#0000f8"/></linearGradient><linearGradient id="D23"><stop offset="0" stop-color="#0006ff"/><stop offset=".097" stop-color="#000aff"/><stop offset=".209" stop-color="#0026ff"/><stop offset=".269" stop-color="#0044ff"/><stop offset=".313" stop-color="#0069ff"/><stop offset=".358" stop-color="#00a1ff"/><stop offset=".396" stop-color="#00e1ff"/><stop offset=".41" stop-color="#00ffff"/><stop offset=".455" stop-color="#60ff9f"/><stop offset=".478" stop-color="#80ff7f"/><stop offset=".5" stop-color="#8aff75"/><stop offset=".522" stop-color="#80ff7f"/><stop offset=".545" stop-color="#60ff9f"/><stop offset=".59" stop-color="#00ffff"/><stop offset=".642" stop-color="#0090ff"/><stop offset=".679" stop-color="#0053ff"/><stop offset=".716" stop-color="#002bff"/><stop offset=".761" stop-color="#0012ff"/><stop offset=".836" stop-color="#0004ff"/><stop offset=".985" stop-color="#0000f7"/><stop offset="1" stop-color="#0000f8"/></linearGradient><linearGradient id="D24"><stop offset="0" stop-color="#0007ff"/><stop offset=".096" stop-color="#000aff"/><stop offset=".206" stop-color="#0022ff"/><stop offset=".272" stop-color="#0042ff"/><stop offset=".324" stop-color="#006dff"/><stop offset=".368" stop-color="#00a5ff"/><stop offset=".412" stop-color="#00efff"/><stop offset=".419" stop-color="#00feff"/><stop offset=".456" stop-color="#45ffba"/><stop offset=".478" stop-color="#62ff9d"/><stop offset=".5" stop-color="#6bff94"/><stop offset=".522" stop-color="#62ff9d"/><stop offset=".544" stop-color="#45ffba"/><stop offset=".581" stop-color="#00feff"/><stop offset=".64" stop-color="#008aff"/><stop offset=".684" stop-color="#0048ff"/><stop offset=".728" stop-color="#0020ff"/><stop offset=".787" stop-color="#0009ff"/><stop offset=".897" stop-color="#0000fc"/><stop offset="1" stop-color="#0000f8"/></linearGradient><linearGradient id="D25"><stop offset="0" stop-color="#0008ff"/><stop offset=".103" stop-color="#000bff"/><stop offset=".213" stop-color="#0024ff"/><stop offset=".279" stop-color="#0045ff"/><stop offset=".331" stop-color="#0070ff"/><stop offset=".382" stop-color="#00b1ff"/><stop offset=".426" stop-color="#00f8ff"/><stop offset=".434" stop-color="#05fffa"/><stop offset=".463" stop-color="#31ffce"/><stop offset=".485" stop-color="#45ffba"/><stop offset=".507" stop-color="#48ffb7"/><stop offset=".529" stop-color="#3affc5"/><stop offset=".559" stop-color="#11ffee"/><stop offset=".566" stop-color="#05fffa"/><stop offset=".581" stop-color="#00eaff"/><stop offset=".647" stop-color="#0078ff"/><stop offset=".684" stop-color="#0047ff"/><stop offset=".728" stop-color="#0020ff"/><stop offset=".787" stop-color="#0009ff"/><stop offset=".882" stop-color="#0000fd"/><stop offset="1" stop-color="#0000f8"/></linearGradient><linearGradient id="D26"><stop offset="0" stop-color="#0008ff"/><stop offset=".118" stop-color="#000eff"/><stop offset=".221" stop-color="#0026ff"/><stop offset=".287" stop-color="#0047ff"/><stop offset=".338" stop-color="#0072ff"/><stop offset=".397" stop-color="#00b9ff"/><stop offset=".449" stop-color="#01fffe"/><stop offset=".478" stop-color="#1fffe0"/><stop offset=".507" stop-color="#26ffd9"/><stop offset=".529" stop-color="#19ffe6"/><stop offset=".551" stop-color="#01fffe"/><stop offset=".618" stop-color="#009dff"/><stop offset=".669" stop-color="#0055ff"/><stop offset=".713" stop-color="#002aff"/><stop offset=".765" stop-color="#000fff"/><stop offset=".846" stop-color="#0001ff"/><stop offset="1" stop-color="#0000f8"/></linearGradient><linearGradient id="D27"><stop offset="0" stop-color="#0009ff"/><stop offset=".118" stop-color="#000fff"/><stop offset=".221" stop-color="#0025ff"/><stop offset=".287" stop-color="#0044ff"/><stop offset=".346" stop-color="#0073ff"/><stop offset=".419" stop-color="#00c5ff"/><stop offset=".463" stop-color="#00f4ff"/><stop offset=".485" stop-color="#02fffd"/><stop offset=".515" stop-color="#02fffd"/><stop offset=".537" stop-color="#00f4ff"/><stop offset=".581" stop-color="#00c2ff"/><stop offset=".662" stop-color="#0058ff"/><stop offset=".713" stop-color="#0028ff"/><stop offset=".765" stop-color="#000fff"/><stop offset=".846" stop-color="#0001ff"/><stop offset="1" stop-color="#0000f8"/></linearGradient><linearGradient id="D28"><stop offset="0" stop-color="#000aff"/><stop offset=".14" stop-color="#0012ff"/><stop offset=".235" stop-color="#0029ff"/><stop offset=".301" stop-color="#004aff"/><stop offset=".368" stop-color="#007fff"/><stop offset=".449" stop-color="#00ceff"/><stop offset=".485" stop-color="#00e3ff"/><stop offset=".515" stop-color="#00e3ff"/><stop offset=".551" stop-color="#00cdff"/><stop offset=".64" stop-color="#006bff"/><stop offset=".691" stop-color="#0037ff"/><stop offset=".743" stop-color="#0017ff"/><stop offset=".809" stop-color="#0005ff"/><stop offset=".934" stop-color="#0000fb"/><stop offset="1" stop-color="#0000f8"/></linearGradient><linearGradient id="D29"><stop offset="0" stop-color="#000bff"/><stop offset=".147" stop-color="#0014ff"/><stop offset=".243" stop-color="#002aff"/><stop offset=".309" stop-color="#004aff"/><stop offset=".397" stop-color="#008fff"/><stop offset=".463" stop-color="#00c0ff"/><stop offset=".5" stop-color="#00c9ff"/><stop offset=".537" stop-color="#00bfff"/><stop offset=".588" stop-color="#0096ff"/><stop offset=".684" stop-color="#0039ff"/><stop offset=".735" stop-color="#0019ff"/><stop offset=".801" stop-color="#0007ff"/><stop offset=".926" stop-color="#0000fd"/><stop offset="1" stop-color="#0000f9"/></linearGradient><linearGradient id="D30"><stop offset="0" stop-color="#000cff"/><stop offset=".162" stop-color="#0017ff"/><stop offset=".265" stop-color="#0030ff"/><stop offset=".338" stop-color="#0058ff"/><stop offset=".449" stop-color="#00a3ff"/><stop offset=".493" stop-color="#00b0ff"/><stop offset=".537" stop-color="#00a8ff"/><stop offset=".596" stop-color="#0081ff"/><stop offset=".691" stop-color="#0030ff"/><stop offset=".743" stop-color="#0015ff"/><stop offset=".816" stop-color="#0006ff"/><stop offset=".978" stop-color="#0000fb"/><stop offset="1" stop-color="#0000f9"/></linearGradient><linearGradient id="D31"><stop offset="0" stop-color="#000eff"/><stop offset=".176" stop-color="#001aff"/><stop offset=".272" stop-color="#0031ff"/><stop offset=".346" stop-color="#0056ff"/><stop offset=".441" stop-color="#008dff"/><stop offset=".485" stop-color="#0099ff"/><stop offset=".544" stop-color="#0091ff"/><stop offset=".603" stop-color="#006eff"/><stop offset=".706" stop-color="#0024ff"/><stop offset=".765" stop-color="#000eff"/><stop offset=".882" stop-color="#0003ff"/><stop offset="1" stop-color="#0000fa"/></linearGradient><linearGradient id="D32"><stop offset="0" stop-color="#000fff"/><stop offset=".199" stop-color="#001eff"/><stop offset=".294" stop-color="#0037ff"/><stop offset=".441" stop-color="#007eff"/><stop offset=".5" stop-color="#0086ff"/><stop offset=".559" stop-color="#007bff"/><stop offset=".632" stop-color="#0050ff"/><stop offset=".713" stop-color="#001fff"/><stop offset=".787" stop-color="#000bff"/><stop offset=".993" stop-color="#0000fc"/><stop offset="1" stop-color="#0000fb"/></linearGradient><linearGradient id="D33"><stop offset="0" stop-color="#0010ff"/><stop offset=".206" stop-color="#0020ff"/><stop offset=".294" stop-color="#0035ff"/><stop offset=".441" stop-color="#0071ff"/><stop offset=".515" stop-color="#0075ff"/><stop offset=".566" stop-color="#006bff"/><stop offset=".654" stop-color="#003dff"/><stop offset=".721" stop-color="#001bff"/><stop offset=".801" stop-color="#000bff"/><stop offset="1" stop-color="#0000fc"/></linearGradient><linearGradient id="D34"><stop offset="0" stop-color="#0012ff"/><stop offset=".221" stop-color="#0024ff"/><stop offset=".301" stop-color="#0036ff"/><stop offset=".434" stop-color="#0064ff"/><stop offset=".507" stop-color="#0069ff"/><stop offset=".566" stop-color="#0061ff"/><stop offset=".662" stop-color="#0036ff"/><stop offset=".728" stop-color="#0019ff"/><stop offset=".831" stop-color="#000bff"/><stop offset="1" stop-color="#0000fd"/></linearGradient><linearGradient id="D35"><stop offset="0" stop-color="#0013ff"/><stop offset=".25" stop-color="#0029ff"/><stop offset=".36" stop-color="#0048ff"/><stop offset=".449" stop-color="#005eff"/><stop offset=".537" stop-color="#005dff"/><stop offset=".618" stop-color="#0047ff"/><stop offset=".728" stop-color="#001bff"/><stop offset=".838" stop-color="#000dff"/><stop offset=".978" stop-color="#0002ff"/><stop offset="1" stop-color="#0000fe"/></linearGradient><linearGradient id="D36"><stop offset="0" stop-color="#0014ff"/><stop offset=".257" stop-color="#002bff"/><stop offset=".434" stop-color="#0055ff"/><stop offset=".522" stop-color="#0058ff"/><stop offset=".603" stop-color="#0049ff"/><stop offset=".735" stop-color="#001bff"/><stop offset=".853" stop-color="#000fff"/><stop offset=".985" stop-color="#0003ff"/><stop offset="1" stop-color="#0000ff"/></linearGradient><linearGradient id="D37"><stop offset="0" stop-color="#0015ff"/><stop offset=".279" stop-color="#0030ff"/><stop offset=".441" stop-color="#0051ff"/><stop offset=".551" stop-color="#0050ff"/><stop offset=".662" stop-color="#0033ff"/><stop offset=".757" stop-color="#001aff"/><stop offset=".971" stop-color="#0007ff"/><stop offset="1" stop-color="#0001ff"/></linearGradient><linearGradient id="D38"><stop offset="0" stop-color="#0016ff"/><stop offset=".154" stop-color="#0026ff"/><stop offset=".301" stop-color="#0035ff"/><stop offset=".441" stop-color="#004eff"/><stop offset=".559" stop-color="#004cff"/><stop offset=".691" stop-color="#002bff"/><stop offset=".801" stop-color="#0018ff"/><stop offset=".971" stop-color="#0008ff"/><stop offset="1" stop-color="#0002ff"/></linearGradient><linearGradient id="D39"><stop offset="0" stop-color="#0017ff"/><stop offset=".125" stop-color="#0027ff"/><stop offset=".301" stop-color="#0036ff"/><stop offset=".449" stop-color="#004cff"/><stop offset=".566" stop-color="#0049ff"/><stop offset=".787" stop-color="#001cff"/><stop offset=".971" stop-color="#000aff"/><stop offset="1" stop-color="#0003ff"/></linearGradient><linearGradient id="D40"><stop offset="0" stop-color="#0018ff"/><stop offset=".125" stop-color="#0029ff"/><stop offset=".324" stop-color="#003bff"/><stop offset=".471" stop-color="#004cff"/><stop offset=".581" stop-color="#0046ff"/><stop offset=".801" stop-color="#001eff"/><stop offset=".956" stop-color="#000eff"/><stop offset="1" stop-color="#0004ff"/></linearGradient><linearGradient id="D41"><stop offset="0" stop-color="#0018ff"/><stop offset=".103" stop-color="#002aff"/><stop offset=".353" stop-color="#0040ff"/><stop offset=".5" stop-color="#004cff"/><stop offset=".625" stop-color="#0040ff"/><stop offset=".816" stop-color="#001fff"/><stop offset=".963" stop-color="#000eff"/><stop offset="1" stop-color="#0004ff"/></linearGradient><linearGradient id="D42"><stop offset="0" stop-color="#0018ff"/><stop offset=".096" stop-color="#002cff"/><stop offset=".39" stop-color="#0045ff"/><stop offset=".522" stop-color="#004cff"/><stop offset=".669" stop-color="#003bff"/><stop offset=".838" stop-color="#0020ff"/><stop offset=".971" stop-color="#000dff"/><stop offset="1" stop-color="#0004ff"/></linearGradient><linearGradient id="D43"><stop offset="0" stop-color="#001bff"/><stop offset=".09" stop-color="#002dff"/><stop offset=".5" stop-color="#004dff"/><stop offset=".657" stop-color="#0040ff"/><stop offset=".866" stop-color="#001fff"/><stop offset=".978" stop-color="#000eff"/><stop offset="1" stop-color="#0006ff"/></linearGradient><linearGradient id="D44"><stop offset="0" stop-color="#001dff"/><stop offset=".091" stop-color="#0030ff"/><stop offset=".515" stop-color="#004eff"/><stop offset=".697" stop-color="#003dff"/><stop offset=".894" stop-color="#001eff"/><stop offset=".985" stop-color="#000eff"/><stop offset="1" stop-color="#0009ff"/></linearGradient><linearGradient id="D45"><stop offset="0" stop-color="#001cff"/><stop offset=".076" stop-color="#002fff"/><stop offset=".5" stop-color="#004fff"/><stop offset=".689" stop-color="#0041ff"/><stop offset=".977" stop-color="#0010ff"/><stop offset="1" stop-color="#0008ff"/></linearGradient><linearGradient id="D46"><stop offset="0" stop-color="#001eff"/><stop offset=".085" stop-color="#0032ff"/><stop offset=".362" stop-color="#0048ff"/><stop offset=".531" stop-color="#0050ff"/><stop offset=".715" stop-color="#0040ff"/><stop offset=".985" stop-color="#000fff"/><stop offset="1" stop-color="#000aff"/></linearGradient><linearGradient id="D47"><stop offset="0" stop-color="#001fff"/><stop offset=".086" stop-color="#0034ff"/><stop offset=".297" stop-color="#0046ff"/><stop offset=".531" stop-color="#0051ff"/><stop offset=".727" stop-color="#0041ff"/><stop offset=".984" stop-color="#0010ff"/><stop offset="1" stop-color="#000aff"/></linearGradient><linearGradient id="D48"><stop offset="0" stop-color="#0020ff"/><stop offset=".095" stop-color="#0037ff"/><stop offset=".278" stop-color="#0047ff"/><stop offset=".532" stop-color="#0051ff"/><stop offset=".73" stop-color="#0042ff"/><stop offset=".976" stop-color="#0013ff"/><stop offset="1" stop-color="#000bff"/></linearGradient><linearGradient id="D49"><stop offset="0" stop-color="#0020ff"/><stop offset=".097" stop-color="#0039ff"/><stop offset=".258" stop-color="#0048ff"/><stop offset=".548" stop-color="#0050ff"/><stop offset=".742" stop-color="#0042ff"/><stop offset=".976" stop-color="#0013ff"/><stop offset="1" stop-color="#000bff"/></linearGradient><linearGradient id="D50"><stop offset="0" stop-color="#0020ff"/><stop offset=".082" stop-color="#0038ff"/><stop offset=".23" stop-color="#0049ff"/><stop offset=".541" stop-color="#004fff"/><stop offset=".762" stop-color="#0041ff"/><stop offset=".975" stop-color="#0013ff"/><stop offset="1" stop-color="#000bff"/></linearGradient><linearGradient id="D51"><stop offset="0" stop-color="#0020ff"/><stop offset=".083" stop-color="#003aff"/><stop offset=".217" stop-color="#004aff"/><stop offset=".558" stop-color="#004eff"/><stop offset=".775" stop-color="#0040ff"/><stop offset=".942" stop-color="#001eff"/><stop offset="1" stop-color="#000aff"/></linearGradient><linearGradient id="D52"><stop offset="0" stop-color="#0021ff"/><stop offset=".093" stop-color="#003dff"/><stop offset=".22" stop-color="#004cff"/><stop offset=".441" stop-color="#004dff"/><stop offset=".585" stop-color="#004bff"/><stop offset=".805" stop-color="#003eff"/><stop offset=".966" stop-color="#0017ff"/><stop offset="1" stop-color="#000aff"/></linearGradient><linearGradient id="D53"><stop offset="0" stop-color="#0024ff"/><stop offset=".088" stop-color="#0040ff"/><stop offset=".202" stop-color="#004cff"/><stop offset=".43" stop-color="#004cff"/><stop offset=".561" stop-color="#004bff"/><stop offset=".816" stop-color="#003eff"/><stop offset=".947" stop-color="#0021ff"/><stop offset="1" stop-color="#000eff"/></linearGradient><linearGradient id="D54"><stop offset="0" stop-color="#0024ff"/><stop offset=".089" stop-color="#0041ff"/><stop offset=".196" stop-color="#004dff"/><stop offset=".393" stop-color="#0049ff"/><stop offset=".536" stop-color="#004bff"/><stop offset=".705" stop-color="#0043ff"/><stop offset=".83" stop-color="#003dff"/><stop offset=".938" stop-color="#0025ff"/><stop offset="1" stop-color="#000eff"/></linearGradient><linearGradient id="D55"><stop offset="0" stop-color="#0028ff"/><stop offset=".083" stop-color="#0042ff"/><stop offset=".194" stop-color="#004dff"/><stop offset=".389" stop-color="#0048ff"/><stop offset=".537" stop-color="#004aff"/><stop offset=".694" stop-color="#0040ff"/><stop offset=".824" stop-color="#003fff"/><stop offset=".935" stop-color="#002aff"/><stop offset="1" stop-color="#0012ff"/></linearGradient><linearGradient id="D56"><stop offset="0" stop-color="#002cff"/><stop offset=".096" stop-color="#0046ff"/><stop offset=".212" stop-color="#004cff"/><stop offset=".365" stop-color="#0046ff"/><stop offset=".529" stop-color="#004aff"/><stop offset=".692" stop-color="#003dff"/><stop offset=".827" stop-color="#0040ff"/><stop offset=".933" stop-color="#002dff"/><stop offset="1" stop-color="#0016ff"/></linearGradient><linearGradient id="D57"><stop offset="0" stop-color="#002eff"/><stop offset=".09" stop-color="#0045ff"/><stop offset=".2" stop-color="#004cff"/><stop offset=".35" stop-color="#0043ff"/><stop offset=".5" stop-color="#004aff"/><stop offset=".69" stop-color="#003aff"/><stop offset=".83" stop-color="#0040ff"/><stop offset=".94" stop-color="#002dff"/><stop offset="1" stop-color="#001aff"/></linearGradient><linearGradient id="D58"><stop offset="0" stop-color="#002fff"/><stop offset=".094" stop-color="#0045ff"/><stop offset=".208" stop-color="#004aff"/><stop offset=".344" stop-color="#0041ff"/><stop offset=".5" stop-color="#004aff"/><stop offset=".698" stop-color="#0037ff"/><stop offset=".833" stop-color="#003fff"/><stop offset=".938" stop-color="#002fff"/><stop offset="1" stop-color="#001cff"/></linearGradient><linearGradient id="D59"><stop offset="0" stop-color="#002fff"/><stop offset=".109" stop-color="#0046ff"/><stop offset=".228" stop-color="#0046ff"/><stop offset=".326" stop-color="#003fff"/><stop offset=".489" stop-color="#004aff"/><stop offset=".62" stop-color="#003dff"/><stop offset=".707" stop-color="#0035ff"/><stop offset=".837" stop-color="#003eff"/><stop offset=".935" stop-color="#0030ff"/><stop offset="1" stop-color="#001dff"/></linearGradient><linearGradient id="D60"><stop offset="0" stop-color="#0031ff"/><stop offset=".105" stop-color="#0044ff"/><stop offset=".221" stop-color="#0044ff"/><stop offset=".314" stop-color="#003eff"/><stop offset=".488" stop-color="#004aff"/><stop offset=".616" stop-color="#003eff"/><stop offset=".709" stop-color="#0033ff"/><stop offset=".849" stop-color="#003cff"/><stop offset=".942" stop-color="#0030ff"/><stop offset="1" stop-color="#0021ff"/></linearGradient><linearGradient id="D61"><stop offset="0" stop-color="#002fff"/><stop offset=".122" stop-color="#0043ff"/><stop offset=".232" stop-color="#0041ff"/><stop offset=".317" stop-color="#003fff"/><stop offset=".488" stop-color="#004aff"/><stop offset=".622" stop-color="#003eff"/><stop offset=".732" stop-color="#0034ff"/><stop offset=".854" stop-color="#003bff"/><stop offset=".951" stop-color="#002eff"/><stop offset="1" stop-color="#0021ff"/></linearGradient><linearGradient id="D62"><stop offset="0" stop-color="#0030ff"/><stop offset=".118" stop-color="#0041ff"/><stop offset=".316" stop-color="#003fff"/><stop offset=".487" stop-color="#004aff"/><stop offset=".658" stop-color="#003bff"/><stop offset=".763" stop-color="#0035ff"/><stop offset=".882" stop-color="#0039ff"/><stop offset="1" stop-color="#0024ff"/></linearGradient><linearGradient id="D63"><stop offset="0" stop-color="#0033ff"/><stop offset=".118" stop-color="#003fff"/><stop offset=".324" stop-color="#0040ff"/><stop offset=".5" stop-color="#0049ff"/><stop offset=".765" stop-color="#0035ff"/><stop offset=".926" stop-color="#0035ff"/><stop offset="1" stop-color="#002aff"/></linearGradient><linearGradient id="D64"><stop offset="0" stop-color="#0034ff"/><stop offset=".117" stop-color="#003aff"/><stop offset=".333" stop-color="#0040ff"/><stop offset=".5" stop-color="#0047ff"/><stop offset=".833" stop-color="#0033ff"/><stop offset=".967" stop-color="#0032ff"/><stop offset="1" stop-color="#002eff"/></linearGradient><linearGradient id="D65"><stop offset="0" stop-color="#0033ff"/><stop offset=".3" stop-color="#003cff"/><stop offset=".52" stop-color="#0044ff"/><stop offset=".9" stop-color="#002fff"/><stop offset="1" stop-color="#002eff"/></linearGradient><linearGradient id="D66"><stop offset="0" stop-color="#002eff"/><stop offset=".5" stop-color="#003fff"/><stop offset="1" stop-color="#0029ff"/></linearGradient><clipPath id="clipD"><ellipse cx="517.6" cy="449.4" rx="101.65" ry="99.10"/></clipPath></defs>
<g clip-path="url(#clipD)"><rect x="490.5" y="349.55" width="54.2" height="4.08" fill="url(#D0)"/><rect x="480.0" y="352.53" width="75.3" height="4.08" fill="url(#D1)"/><rect x="472.4" y="355.51" width="90.4" height="4.08" fill="url(#D2)"/><rect x="466.4" y="358.49" width="102.4" height="4.08" fill="url(#D3)"/><rect x="460.4" y="361.47" width="114.4" height="4.08" fill="url(#D4)"/><rect x="455.9" y="364.45" width="123.5" height="4.08" fill="url(#D5)"/><rect x="452.8" y="367.43" width="129.5" height="4.08" fill="url(#D6)"/><rect x="448.3" y="370.41" width="138.5" height="4.08" fill="url(#D7)"/><rect x="445.3" y="373.39" width="144.6" height="4.08" fill="url(#D8)"/><rect x="442.3" y="376.38" width="150.6" height="4.08" fill="url(#D9)"/><rect x="439.3" y="379.36" width="156.6" height="4.08" fill="url(#D10)"/><rect x="436.3" y="382.34" width="162.6" height="4.08" fill="url(#D11)"/><rect x="433.3" y="385.32" width="168.7" height="4.08" fill="url(#D12)"/><rect x="431.8" y="388.30" width="171.7" height="4.08" fill="url(#D13)"/><rect x="428.8" y="391.28" width="177.7" height="4.08" fill="url(#D14)"/><rect x="427.2" y="394.26" width="180.7" height="4.08" fill="url(#D15)"/><rect x="425.7" y="397.24" width="183.7" height="4.08" fill="url(#D16)"/><rect x="424.2" y="400.22" width="186.7" height="4.08" fill="url(#D17)"/><rect x="422.7" y="403.20" width="189.7" height="4.08" fill="url(#D18)"/><rect x="421.2" y="406.18" width="192.8" height="4.08" fill="url(#D19)"/><rect x="419.7" y="409.16" width="195.8" height="4.08" fill="url(#D20)"/><rect x="418.2" y="412.14" width="198.8" height="4.08" fill="url(#D21)"/><rect x="418.2" y="415.12" width="198.8" height="4.08" fill="url(#D22)"/><rect x="416.7" y="418.10" width="201.8" height="4.08" fill="url(#D23)"/><rect x="415.2" y="421.08" width="204.8" height="4.08" fill="url(#D24)"/><rect x="415.2" y="424.06" width="204.8" height="4.08" fill="url(#D25)"/><rect x="415.2" y="427.05" width="204.8" height="4.08" fill="url(#D26)"/><rect x="415.2" y="430.03" width="204.8" height="4.08" fill="url(#D27)"/><rect x="415.2" y="433.01" width="204.8" height="4.08" fill="url(#D28)"/><rect x="415.2" y="435.99" width="204.8" height="4.08" fill="url(#D29)"/><rect x="415.2" y="438.97" width="204.8" height="4.08" fill="url(#D30)"/><rect x="415.2" y="441.95" width="204.8" height="4.08" fill="url(#D31)"/><rect x="415.2" y="444.93" width="204.8" height="4.08" fill="url(#D32)"/><rect x="415.2" y="447.91" width="204.8" height="4.08" fill="url(#D33)"/><rect x="415.2" y="450.89" width="204.8" height="4.08" fill="url(#D34)"/><rect x="415.2" y="453.87" width="204.8" height="4.08" fill="url(#D35)"/><rect x="415.2" y="456.85" width="204.8" height="4.08" fill="url(#D36)"/><rect x="415.2" y="459.83" width="204.8" height="4.08" fill="url(#D37)"/><rect x="415.2" y="462.81" width="204.8" height="4.08" fill="url(#D38)"/><rect x="415.2" y="465.79" width="204.8" height="4.08" fill="url(#D39)"/><rect x="415.2" y="468.77" width="204.8" height="4.08" fill="url(#D40)"/><rect x="415.2" y="471.75" width="204.8" height="4.08" fill="url(#D41)"/><rect x="415.2" y="474.74" width="204.8" height="4.08" fill="url(#D42)"/><rect x="416.7" y="477.72" width="201.8" height="4.08" fill="url(#D43)"/><rect x="418.2" y="480.70" width="198.8" height="4.08" fill="url(#D44)"/><rect x="418.2" y="483.68" width="198.8" height="4.08" fill="url(#D45)"/><rect x="419.7" y="486.66" width="195.8" height="4.08" fill="url(#D46)"/><rect x="421.2" y="489.64" width="192.8" height="4.08" fill="url(#D47)"/><rect x="422.7" y="492.62" width="189.7" height="4.08" fill="url(#D48)"/><rect x="424.2" y="495.60" width="186.7" height="4.08" fill="url(#D49)"/><rect x="425.7" y="498.58" width="183.7" height="4.08" fill="url(#D50)"/><rect x="427.2" y="501.56" width="180.7" height="4.08" fill="url(#D51)"/><rect x="428.8" y="504.54" width="177.7" height="4.08" fill="url(#D52)"/><rect x="431.8" y="507.52" width="171.7" height="4.08" fill="url(#D53)"/><rect x="433.3" y="510.50" width="168.7" height="4.08" fill="url(#D54)"/><rect x="436.3" y="513.48" width="162.6" height="4.08" fill="url(#D55)"/><rect x="439.3" y="516.46" width="156.6" height="4.08" fill="url(#D56)"/><rect x="442.3" y="519.44" width="150.6" height="4.08" fill="url(#D57)"/><rect x="445.3" y="522.42" width="144.6" height="4.08" fill="url(#D58)"/><rect x="448.3" y="525.41" width="138.5" height="4.08" fill="url(#D59)"/><rect x="452.8" y="528.39" width="129.5" height="4.08" fill="url(#D60)"/><rect x="455.9" y="531.37" width="123.5" height="4.08" fill="url(#D61)"/><rect x="460.4" y="534.35" width="114.4" height="4.08" fill="url(#D62)"/><rect x="466.4" y="537.33" width="102.4" height="4.08" fill="url(#D63)"/><rect x="472.4" y="540.31" width="90.4" height="4.08" fill="url(#D64)"/><rect x="480.0" y="543.29" width="75.3" height="4.08" fill="url(#D65)"/><rect x="490.5" y="546.27" width="54.2" height="4.08" fill="url(#D66)"/></g>
<g fill="none" stroke="#111" stroke-width="1.1" stroke-linejoin="round"><path d="M417.2 430.5C416.8 429.9 415.5 427.7 414.7 427.0C413.9 426.3 413.1 426.1 412.3 426.1C411.5 426.1 410.5 426.4 409.8 427.0C409.1 427.6 408.4 428.3 408.0 429.5C407.6 430.7 407.6 431.9 407.6 434.4C407.6 436.9 408.0 441.3 408.1 444.3C408.2 447.3 408.2 449.4 408.0 452.2C407.8 455.0 407.3 458.5 407.1 461.1C406.9 463.7 406.7 466.0 406.8 468.0C406.9 470.0 407.2 471.6 407.8 473.0C408.4 474.4 409.4 475.7 410.3 476.4C411.2 477.1 412.3 477.4 413.3 477.4C414.3 477.4 415.3 477.0 416.2 476.4C417.1 475.8 418.2 474.4 418.6 474.0"/><path d="M618.0 430.5C618.4 429.9 619.7 427.7 620.5 427.0C621.3 426.3 622.1 426.1 622.9 426.1C623.7 426.1 624.7 426.4 625.4 427.0C626.1 427.6 626.8 428.3 627.2 429.5C627.6 430.7 627.6 431.9 627.6 434.4C627.6 436.9 627.2 441.3 627.1 444.3C627.0 447.3 627.0 449.4 627.2 452.2C627.4 455.0 627.9 458.5 628.1 461.1C628.3 463.7 628.5 466.0 628.4 468.0C628.3 470.0 628.0 471.6 627.4 473.0C626.8 474.4 625.8 475.7 624.9 476.4C624.0 477.1 622.9 477.4 621.9 477.4C620.9 477.4 619.9 477.0 619.0 476.4C618.1 475.8 617.0 474.4 616.6 474.0"/><path d="M500.0 351.2L512.6 337.8C514.4 335.8 515.8 335.8 517.6 335.8C519.4 335.8 520.8 335.8 522.6 337.8L535.2 351.2"/></g>
<ellipse cx="517.6" cy="449.4" rx="101.65" ry="99.10" fill="none" stroke="#0a0a14" stroke-width="1.5"/>
<g class="el" font-size="6.7" fill="#05051a" fill-opacity=".9"><circle cx="490.8" cy="369.1" r="0.95"/><text x="492.9" y="371.4">Fp1</text><circle cx="544.4" cy="369.1" r="0.95"/><text x="546.5" y="371.4">Fp2</text><circle cx="447.5" cy="399.8" r="0.95"/><text x="449.6" y="402.1">F7</text><circle cx="587.7" cy="399.8" r="0.95"/><text x="589.8" y="402.1">F8</text><circle cx="431.0" cy="449.4" r="0.95"/><text x="433.1" y="451.7">T7</text><circle cx="604.2" cy="449.4" r="0.95"/><text x="606.3" y="451.7">T8</text><circle cx="447.5" cy="499.0" r="0.95"/><text x="449.6" y="501.3">P7</text><circle cx="587.7" cy="499.0" r="0.95"/><text x="589.8" y="501.3">P8</text><circle cx="490.8" cy="529.7" r="0.95"/><text x="492.9" y="532.0">O1</text><circle cx="544.4" cy="529.7" r="0.95"/><text x="546.5" y="532.0">O2</text><circle cx="482.3" cy="406.9" r="0.95"/><text x="484.4" y="409.2">F3</text><circle cx="552.9" cy="406.9" r="0.95"/><text x="555.0" y="409.2">F4</text><circle cx="517.6" cy="407.1" r="0.95"/><text x="519.7" y="409.4">Fz</text><circle cx="517.6" cy="449.4" r="0.95"/><text x="519.7" y="451.7">Cz</text><circle cx="517.6" cy="491.7" r="0.95"/><text x="519.7" y="494.0">Pz</text><circle cx="474.3" cy="449.4" r="0.95"/><text x="476.4" y="451.7">C3</text><circle cx="560.9" cy="449.4" r="0.95"/><text x="563.0" y="451.7">C4</text><circle cx="482.3" cy="491.9" r="0.95"/><text x="484.4" y="494.2">P3</text><circle cx="552.9" cy="491.9" r="0.95"/><text x="555.0" y="494.2">P4</text></g>
<!-- head E -->
<defs><linearGradient id="E0"><stop offset="0" stop-color="#0000e1"/><stop offset=".167" stop-color="#0000e7"/><stop offset=".389" stop-color="#0000d5"/><stop offset=".556" stop-color="#0000c8"/><stop offset="1" stop-color="#0000c7"/></linearGradient><linearGradient id="E1"><stop offset="0" stop-color="#0000cc"/><stop offset=".18" stop-color="#0000f2"/><stop offset=".3" stop-color="#0000f6"/><stop offset=".56" stop-color="#0000da"/><stop offset=".84" stop-color="#0000cb"/><stop offset="1" stop-color="#0000bd"/></linearGradient><linearGradient id="E2"><stop offset="0" stop-color="#0000cc"/><stop offset=".067" stop-color="#0000d1"/><stop offset=".2" stop-color="#0000ff"/><stop offset=".267" stop-color="#000eff"/><stop offset=".367" stop-color="#000dff"/><stop offset=".483" stop-color="#0000fb"/><stop offset=".767" stop-color="#0000d8"/><stop offset=".933" stop-color="#0000bc"/><stop offset="1" stop-color="#0000bf"/></linearGradient><linearGradient id="E3"><stop offset="0" stop-color="#0000d6"/><stop offset=".074" stop-color="#0000d6"/><stop offset=".132" stop-color="#0000e8"/><stop offset=".176" stop-color="#0000fe"/><stop offset=".265" stop-color="#0025ff"/><stop offset=".353" stop-color="#002fff"/><stop offset=".5" stop-color="#001aff"/><stop offset=".647" stop-color="#0000fe"/><stop offset=".809" stop-color="#0000d4"/><stop offset=".897" stop-color="#0000c0"/><stop offset=".985" stop-color="#0000c4"/><stop offset="1" stop-color="#0000c6"/></linearGradient><linearGradient id="E4"><stop offset="0" stop-color="#0000e0"/><stop offset=".066" stop-color="#0000db"/><stop offset=".132" stop-color="#0000eb"/><stop offset=".171" stop-color="#0001ff"/><stop offset=".276" stop-color="#0042ff"/><stop offset=".342" stop-color="#0052ff"/><stop offset=".447" stop-color="#004aff"/><stop offset=".645" stop-color="#0017ff"/><stop offset=".711" stop-color="#0001ff"/><stop offset=".842" stop-color="#0000cd"/><stop offset=".908" stop-color="#0000c3"/><stop offset=".987" stop-color="#0000cb"/><stop offset="1" stop-color="#0000ce"/></linearGradient><linearGradient id="E5"><stop offset="0" stop-color="#0000e5"/><stop offset=".061" stop-color="#0000e1"/><stop offset=".122" stop-color="#0000ef"/><stop offset=".159" stop-color="#0002ff"/><stop offset=".28" stop-color="#0060ff"/><stop offset=".329" stop-color="#0074ff"/><stop offset=".402" stop-color="#0079ff"/><stop offset=".5" stop-color="#0067ff"/><stop offset=".659" stop-color="#002cff"/><stop offset=".744" stop-color="#0002ff"/><stop offset=".841" stop-color="#0000d3"/><stop offset=".915" stop-color="#0000c7"/><stop offset="1" stop-color="#0000d1"/></linearGradient><linearGradient id="E6"><stop offset="0" stop-color="#0000e7"/><stop offset=".07" stop-color="#0000e7"/><stop offset=".14" stop-color="#0002ff"/><stop offset=".198" stop-color="#002eff"/><stop offset=".291" stop-color="#0086ff"/><stop offset=".337" stop-color="#009bff"/><stop offset=".407" stop-color="#00a3ff"/><stop offset=".488" stop-color="#0095ff"/><stop offset=".628" stop-color="#0059ff"/><stop offset=".744" stop-color="#0013ff"/><stop offset=".779" stop-color="#0000fb"/><stop offset=".849" stop-color="#0000d9"/><stop offset=".919" stop-color="#0000cb"/><stop offset="1" stop-color="#0000d2"/></linearGradient><linearGradient id="E7"><stop offset="0" stop-color="#0000eb"/><stop offset=".054" stop-color="#0000e7"/><stop offset=".109" stop-color="#0000f4"/><stop offset=".13" stop-color="#0000ff"/><stop offset=".185" stop-color="#0028ff"/><stop offset=".304" stop-color="#00a9ff"/><stop offset=".348" stop-color="#00c3ff"/><stop offset=".413" stop-color="#00cdff"/><stop offset=".478" stop-color="#00c4ff"/><stop offset=".543" stop-color="#00a9ff"/><stop offset=".652" stop-color="#0067ff"/><stop offset=".783" stop-color="#0003ff"/><stop offset=".859" stop-color="#0000db"/><stop offset=".924" stop-color="#0000ce"/><stop offset=".989" stop-color="#0000d3"/><stop offset="1" stop-color="#0000d6"/></linearGradient><linearGradient id="E8"><stop offset="0" stop-color="#0000ed"/><stop offset=".052" stop-color="#0000e8"/><stop offset=".104" stop-color="#0000f6"/><stop offset=".125" stop-color="#0002ff"/><stop offset=".177" stop-color="#002aff"/><stop offset=".24" stop-color="#0072ff"/><stop offset=".302" stop-color="#00c0ff"/><stop offset=".344" stop-color="#00e3ff"/><stop offset=".396" stop-color="#00f6ff"/><stop offset=".458" stop-color="#00f4ff"/><stop offset=".51" stop-color="#00e4ff"/><stop offset=".594" stop-color="#00b2ff"/><stop offset=".687" stop-color="#0065ff"/><stop offset=".781" stop-color="#000fff"/><stop offset=".802" stop-color="#0000ff"/><stop offset=".865" stop-color="#0000df"/><stop offset=".938" stop-color="#0000d1"/><stop offset="1" stop-color="#0000d8"/></linearGradient><linearGradient id="E9"><stop offset="0" stop-color="#0000f0"/><stop offset=".05" stop-color="#0000ea"/><stop offset=".1" stop-color="#0000f7"/><stop offset=".12" stop-color="#0003ff"/><stop offset=".17" stop-color="#0029ff"/><stop offset=".22" stop-color="#0063ff"/><stop offset=".31" stop-color="#00e0ff"/><stop offset=".34" stop-color="#00ffff"/><stop offset=".38" stop-color="#1affe5"/><stop offset=".43" stop-color="#23ffdc"/><stop offset=".49" stop-color="#18ffe7"/><stop offset=".54" stop-color="#00ffff"/><stop offset=".62" stop-color="#00bfff"/><stop offset=".73" stop-color="#004cff"/><stop offset=".79" stop-color="#0013ff"/><stop offset=".82" stop-color="#0000fc"/><stop offset=".88" stop-color="#0000e0"/><stop offset=".95" stop-color="#0000d4"/><stop offset="1" stop-color="#0000dd"/></linearGradient><linearGradient id="E10"><stop offset="0" stop-color="#0000f7"/><stop offset=".048" stop-color="#0000ed"/><stop offset=".096" stop-color="#0000f8"/><stop offset=".125" stop-color="#0009ff"/><stop offset=".173" stop-color="#0031ff"/><stop offset=".221" stop-color="#006cff"/><stop offset=".317" stop-color="#00ffff"/><stop offset=".356" stop-color="#2bffd4"/><stop offset=".394" stop-color="#45ffba"/><stop offset=".433" stop-color="#4dffb2"/><stop offset=".49" stop-color="#41ffbe"/><stop offset=".538" stop-color="#2cffd3"/><stop offset=".587" stop-color="#02fffd"/><stop offset=".654" stop-color="#00b8ff"/><stop offset=".76" stop-color="#0039ff"/><stop offset=".808" stop-color="#000eff"/><stop offset=".827" stop-color="#0000ff"/><stop offset=".885" stop-color="#0000e4"/><stop offset=".942" stop-color="#0000da"/><stop offset=".99" stop-color="#0000e3"/><stop offset="1" stop-color="#0000e7"/></linearGradient><linearGradient id="E11"><stop offset="0" stop-color="#0000fd"/><stop offset=".056" stop-color="#0000f1"/><stop offset=".111" stop-color="#0003ff"/><stop offset=".157" stop-color="#0025ff"/><stop offset=".204" stop-color="#0058ff"/><stop offset=".259" stop-color="#00adff"/><stop offset=".306" stop-color="#00feff"/><stop offset=".352" stop-color="#42ffbd"/><stop offset=".389" stop-color="#65ff9a"/><stop offset=".426" stop-color="#76ff89"/><stop offset=".463" stop-color="#75ff8a"/><stop offset=".528" stop-color="#60ff9f"/><stop offset=".565" stop-color="#40ffbf"/><stop offset=".62" stop-color="#00fcff"/><stop offset=".741" stop-color="#0058ff"/><stop offset=".796" stop-color="#001eff"/><stop offset=".833" stop-color="#0003ff"/><stop offset=".907" stop-color="#0000e6"/><stop offset=".963" stop-color="#0000e5"/><stop offset="1" stop-color="#0000f1"/></linearGradient><linearGradient id="E12"><stop offset="0" stop-color="#0004ff"/><stop offset=".036" stop-color="#0000f7"/><stop offset=".089" stop-color="#0000fc"/><stop offset=".125" stop-color="#000fff"/><stop offset=".179" stop-color="#003dff"/><stop offset=".232" stop-color="#0083ff"/><stop offset=".295" stop-color="#00f2ff"/><stop offset=".304" stop-color="#04fffb"/><stop offset=".348" stop-color="#52ffad"/><stop offset=".384" stop-color="#80ff7f"/><stop offset=".42" stop-color="#9cff63"/><stop offset=".455" stop-color="#a5ff5a"/><stop offset=".518" stop-color="#98ff67"/><stop offset=".545" stop-color="#83ff7c"/><stop offset=".634" stop-color="#04fffb"/><stop offset=".652" stop-color="#00e8ff"/><stop offset=".723" stop-color="#0078ff"/><stop offset=".777" stop-color="#0037ff"/><stop offset=".83" stop-color="#000cff"/><stop offset=".857" stop-color="#0000fd"/><stop offset=".92" stop-color="#0000ed"/><stop offset=".973" stop-color="#0000f0"/><stop offset="1" stop-color="#0000fa"/></linearGradient><linearGradient id="E13"><stop offset="0" stop-color="#0005ff"/><stop offset=".044" stop-color="#0000fa"/><stop offset=".088" stop-color="#0003ff"/><stop offset=".14" stop-color="#0022ff"/><stop offset=".193" stop-color="#0056ff"/><stop offset=".246" stop-color="#00a1ff"/><stop offset=".289" stop-color="#00f2ff"/><stop offset=".298" stop-color="#04fffb"/><stop offset=".351" stop-color="#6aff95"/><stop offset=".386" stop-color="#9eff61"/><stop offset=".43" stop-color="#c7ff38"/><stop offset=".465" stop-color="#d4ff2b"/><stop offset=".518" stop-color="#ceff31"/><stop offset=".544" stop-color="#b4ff4b"/><stop offset=".614" stop-color="#3cffc3"/><stop offset=".649" stop-color="#03fffc"/><stop offset=".728" stop-color="#007eff"/><stop offset=".781" stop-color="#003dff"/><stop offset=".833" stop-color="#0014ff"/><stop offset=".877" stop-color="#0001ff"/><stop offset=".947" stop-color="#0000f4"/><stop offset="1" stop-color="#0000fd"/></linearGradient><linearGradient id="E14"><stop offset="0" stop-color="#0009ff"/><stop offset=".034" stop-color="#0000fe"/><stop offset=".076" stop-color="#0002ff"/><stop offset=".127" stop-color="#001bff"/><stop offset=".178" stop-color="#0047ff"/><stop offset=".229" stop-color="#0088ff"/><stop offset=".271" stop-color="#00ceff"/><stop offset=".297" stop-color="#00ffff"/><stop offset=".364" stop-color="#8eff71"/><stop offset=".407" stop-color="#ceff31"/><stop offset=".449" stop-color="#f7ff08"/><stop offset=".475" stop-color="#fffe00"/><stop offset=".517" stop-color="#ffff00"/><stop offset=".534" stop-color="#eeff11"/><stop offset=".559" stop-color="#c3ff3c"/><stop offset=".593" stop-color="#7bff84"/><stop offset=".653" stop-color="#0afff5"/><stop offset=".661" stop-color="#00f8ff"/><stop offset=".72" stop-color="#008eff"/><stop offset=".763" stop-color="#0054ff"/><stop offset=".805" stop-color="#002cff"/><stop offset=".856" stop-color="#0010ff"/><stop offset=".924" stop-color="#0000fd"/><stop offset=".983" stop-color="#0000fd"/><stop offset="1" stop-color="#0003ff"/></linearGradient><linearGradient id="E15"><stop offset="0" stop-color="#0007ff"/><stop offset=".05" stop-color="#0000ff"/><stop offset=".1" stop-color="#0011ff"/><stop offset=".15" stop-color="#0033ff"/><stop offset=".2" stop-color="#0068ff"/><stop offset=".258" stop-color="#00bdff"/><stop offset=".292" stop-color="#00faff"/><stop offset=".308" stop-color="#1effe1"/><stop offset=".367" stop-color="#9eff61"/><stop offset=".4" stop-color="#d9ff26"/><stop offset=".425" stop-color="#fbff04"/><stop offset=".45" stop-color="#ffe900"/><stop offset=".483" stop-color="#ffdb00"/><stop offset=".517" stop-color="#ffdd00"/><stop offset=".542" stop-color="#fff600"/><stop offset=".55" stop-color="#faff05"/><stop offset=".583" stop-color="#b6ff49"/><stop offset=".658" stop-color="#0cfff3"/><stop offset=".667" stop-color="#00faff"/><stop offset=".708" stop-color="#00aaff"/><stop offset=".75" stop-color="#006bff"/><stop offset=".792" stop-color="#003eff"/><stop offset=".842" stop-color="#001eff"/><stop offset=".942" stop-color="#0000ff"/><stop offset="1" stop-color="#0003ff"/></linearGradient><linearGradient id="E16"><stop offset="0" stop-color="#0006ff"/><stop offset=".041" stop-color="#0000ff"/><stop offset=".082" stop-color="#000bff"/><stop offset=".148" stop-color="#0037ff"/><stop offset=".205" stop-color="#0076ff"/><stop offset=".262" stop-color="#00caff"/><stop offset=".287" stop-color="#00f5ff"/><stop offset=".295" stop-color="#06fff9"/><stop offset=".344" stop-color="#76ff89"/><stop offset=".385" stop-color="#ceff31"/><stop offset=".41" stop-color="#f8ff07"/><stop offset=".418" stop-color="#fff900"/><stop offset=".451" stop-color="#ffd200"/><stop offset=".475" stop-color="#ffc300"/><stop offset=".508" stop-color="#ffc200"/><stop offset=".533" stop-color="#ffd200"/><stop offset=".557" stop-color="#fff000"/><stop offset=".566" stop-color="#fffe00"/><stop offset=".582" stop-color="#dbff24"/><stop offset=".656" stop-color="#1cffe3"/><stop offset=".664" stop-color="#09fff6"/><stop offset=".672" stop-color="#00f6ff"/><stop offset=".713" stop-color="#00a6ff"/><stop offset=".754" stop-color="#0069ff"/><stop offset=".795" stop-color="#003fff"/><stop offset=".836" stop-color="#0026ff"/><stop offset=".951" stop-color="#0000ff"/><stop offset="1" stop-color="#0003ff"/></linearGradient><linearGradient id="E17"><stop offset="0" stop-color="#0003ff"/><stop offset=".056" stop-color="#0001ff"/><stop offset=".105" stop-color="#0019ff"/><stop offset=".161" stop-color="#0049ff"/><stop offset=".218" stop-color="#008eff"/><stop offset=".29" stop-color="#03fffc"/><stop offset=".323" stop-color="#47ffb8"/><stop offset=".363" stop-color="#a9ff56"/><stop offset=".403" stop-color="#f9ff06"/><stop offset=".411" stop-color="#fff700"/><stop offset=".444" stop-color="#ffc800"/><stop offset=".476" stop-color="#ffb000"/><stop offset=".508" stop-color="#ffb000"/><stop offset=".54" stop-color="#ffc800"/><stop offset=".565" stop-color="#ffe700"/><stop offset=".573" stop-color="#fff700"/><stop offset=".581" stop-color="#f4ff0b"/><stop offset=".645" stop-color="#3cffc3"/><stop offset=".669" stop-color="#00ffff"/><stop offset=".71" stop-color="#00aeff"/><stop offset=".742" stop-color="#007aff"/><stop offset=".782" stop-color="#004cff"/><stop offset=".831" stop-color="#002cff"/><stop offset=".944" stop-color="#0001ff"/><stop offset="1" stop-color="#0001ff"/></linearGradient><linearGradient id="E18"><stop offset="0" stop-color="#0000ff"/><stop offset=".048" stop-color="#0000fd"/><stop offset=".079" stop-color="#0009ff"/><stop offset=".135" stop-color="#0032ff"/><stop offset=".183" stop-color="#0064ff"/><stop offset=".238" stop-color="#00b4ff"/><stop offset=".278" stop-color="#00f7ff"/><stop offset=".286" stop-color="#06fff9"/><stop offset=".317" stop-color="#43ffbc"/><stop offset=".357" stop-color="#a6ff59"/><stop offset=".397" stop-color="#f6ff09"/><stop offset=".405" stop-color="#fffa00"/><stop offset=".437" stop-color="#ffc500"/><stop offset=".468" stop-color="#ffa400"/><stop offset=".492" stop-color="#ff9c00"/><stop offset=".516" stop-color="#ffa600"/><stop offset=".556" stop-color="#ffce00"/><stop offset=".571" stop-color="#ffe900"/><stop offset=".579" stop-color="#fffb00"/><stop offset=".587" stop-color="#eeff11"/><stop offset=".643" stop-color="#43ffbc"/><stop offset=".667" stop-color="#06fff9"/><stop offset=".683" stop-color="#00e1ff"/><stop offset=".722" stop-color="#0097ff"/><stop offset=".754" stop-color="#0069ff"/><stop offset=".794" stop-color="#0042ff"/><stop offset=".849" stop-color="#0023ff"/><stop offset=".944" stop-color="#0000fe"/><stop offset="1" stop-color="#0000fe"/></linearGradient><linearGradient id="E19"><stop offset="0" stop-color="#0000fc"/><stop offset=".039" stop-color="#0000f9"/><stop offset=".07" stop-color="#0003ff"/><stop offset=".117" stop-color="#0021ff"/><stop offset=".172" stop-color="#0059ff"/><stop offset=".219" stop-color="#009aff"/><stop offset=".273" stop-color="#00fcff"/><stop offset=".297" stop-color="#2cffd3"/><stop offset=".32" stop-color="#5fffa0"/><stop offset=".344" stop-color="#97ff68"/><stop offset=".398" stop-color="#fdff02"/><stop offset=".445" stop-color="#ffb200"/><stop offset=".477" stop-color="#ff9700"/><stop offset=".5" stop-color="#ff9300"/><stop offset=".531" stop-color="#ffac00"/><stop offset=".562" stop-color="#ffd200"/><stop offset=".578" stop-color="#fff200"/><stop offset=".586" stop-color="#f8ff07"/><stop offset=".633" stop-color="#5bffa4"/><stop offset=".664" stop-color="#08fff7"/><stop offset=".672" stop-color="#00f4ff"/><stop offset=".711" stop-color="#00a5ff"/><stop offset=".75" stop-color="#006aff"/><stop offset=".789" stop-color="#0042ff"/><stop offset=".836" stop-color="#0025ff"/><stop offset=".93" stop-color="#0000ff"/><stop offset=".984" stop-color="#0000f9"/><stop offset="1" stop-color="#0000fb"/></linearGradient><linearGradient id="E20"><stop offset="0" stop-color="#0000fa"/><stop offset=".038" stop-color="#0000f7"/><stop offset=".069" stop-color="#0000ff"/><stop offset=".123" stop-color="#0024ff"/><stop offset=".169" stop-color="#0054ff"/><stop offset=".215" stop-color="#0096ff"/><stop offset=".254" stop-color="#00dcff"/><stop offset=".269" stop-color="#00fcff"/><stop offset=".292" stop-color="#33ffcc"/><stop offset=".323" stop-color="#85ff7a"/><stop offset=".4" stop-color="#fffd00"/><stop offset=".438" stop-color="#ffba00"/><stop offset=".469" stop-color="#ff9a00"/><stop offset=".492" stop-color="#ff9200"/><stop offset=".515" stop-color="#ff9c00"/><stop offset=".554" stop-color="#ffc500"/><stop offset=".569" stop-color="#ffde00"/><stop offset=".585" stop-color="#fbff04"/><stop offset=".623" stop-color="#72ff8d"/><stop offset=".654" stop-color="#1affe5"/><stop offset=".662" stop-color="#07fff8"/><stop offset=".669" stop-color="#00f3ff"/><stop offset=".708" stop-color="#00a3ff"/><stop offset=".746" stop-color="#0068ff"/><stop offset=".785" stop-color="#003fff"/><stop offset=".838" stop-color="#001eff"/><stop offset=".923" stop-color="#0000fe"/><stop offset=".985" stop-color="#0000f7"/><stop offset="1" stop-color="#0000fa"/></linearGradient><linearGradient id="E21"><stop offset="0" stop-color="#0000f9"/><stop offset=".038" stop-color="#0000f5"/><stop offset=".076" stop-color="#0001ff"/><stop offset=".121" stop-color="#001fff"/><stop offset=".174" stop-color="#0057ff"/><stop offset=".22" stop-color="#009bff"/><stop offset=".258" stop-color="#00e4ff"/><stop offset=".265" stop-color="#00f5ff"/><stop offset=".273" stop-color="#07fff8"/><stop offset=".326" stop-color="#8dff72"/><stop offset=".348" stop-color="#b4ff4b"/><stop offset=".402" stop-color="#fffd00"/><stop offset=".439" stop-color="#ffbf00"/><stop offset=".47" stop-color="#ff9f00"/><stop offset=".492" stop-color="#ff9900"/><stop offset=".515" stop-color="#ffa200"/><stop offset=".545" stop-color="#ffbf00"/><stop offset=".568" stop-color="#ffe300"/><stop offset=".576" stop-color="#fff500"/><stop offset=".583" stop-color="#f3ff0c"/><stop offset=".629" stop-color="#57ffa8"/><stop offset=".659" stop-color="#03fffc"/><stop offset=".705" stop-color="#009fff"/><stop offset=".742" stop-color="#0063ff"/><stop offset=".788" stop-color="#0034ff"/><stop offset=".848" stop-color="#0013ff"/><stop offset=".909" stop-color="#0000fe"/><stop offset=".97" stop-color="#0000f6"/><stop offset="1" stop-color="#0000fa"/></linearGradient><linearGradient id="E22"><stop offset="0" stop-color="#0000f6"/><stop offset=".045" stop-color="#0000f5"/><stop offset=".083" stop-color="#0005ff"/><stop offset=".136" stop-color="#002eff"/><stop offset=".182" stop-color="#0062ff"/><stop offset=".227" stop-color="#00aaff"/><stop offset=".265" stop-color="#00f8ff"/><stop offset=".273" stop-color="#0afff5"/><stop offset=".318" stop-color="#78ff87"/><stop offset=".341" stop-color="#a3ff5c"/><stop offset=".402" stop-color="#faff05"/><stop offset=".417" stop-color="#ffec00"/><stop offset=".455" stop-color="#ffb600"/><stop offset=".477" stop-color="#ffa700"/><stop offset=".5" stop-color="#ffa600"/><stop offset=".53" stop-color="#ffb800"/><stop offset=".553" stop-color="#ffd100"/><stop offset=".576" stop-color="#fdff02"/><stop offset=".606" stop-color="#9bff64"/><stop offset=".636" stop-color="#3affc5"/><stop offset=".652" stop-color="#10ffef"/><stop offset=".659" stop-color="#00fbff"/><stop offset=".697" stop-color="#00a7ff"/><stop offset=".735" stop-color="#0067ff"/><stop offset=".773" stop-color="#003bff"/><stop offset=".818" stop-color="#001aff"/><stop offset=".894" stop-color="#0000ff"/><stop offset=".97" stop-color="#0000f5"/><stop offset="1" stop-color="#0000f9"/></linearGradient><linearGradient id="E23"><stop offset="0" stop-color="#0000f5"/><stop offset=".052" stop-color="#0000f5"/><stop offset=".082" stop-color="#0002ff"/><stop offset=".127" stop-color="#0020ff"/><stop offset=".179" stop-color="#0058ff"/><stop offset=".224" stop-color="#009bff"/><stop offset=".269" stop-color="#00f4ff"/><stop offset=".276" stop-color="#06fff9"/><stop offset=".328" stop-color="#7bff84"/><stop offset=".373" stop-color="#c1ff3e"/><stop offset=".41" stop-color="#f8ff07"/><stop offset=".418" stop-color="#fffb00"/><stop offset=".448" stop-color="#ffce00"/><stop offset=".478" stop-color="#ffb600"/><stop offset=".507" stop-color="#ffb700"/><stop offset=".53" stop-color="#ffc500"/><stop offset=".552" stop-color="#ffe000"/><stop offset=".567" stop-color="#ffff00"/><stop offset=".604" stop-color="#8aff75"/><stop offset=".642" stop-color="#1affe5"/><stop offset=".649" stop-color="#06fff9"/><stop offset=".664" stop-color="#00dfff"/><stop offset=".701" stop-color="#008fff"/><stop offset=".739" stop-color="#0054ff"/><stop offset=".776" stop-color="#002bff"/><stop offset=".821" stop-color="#0010ff"/><stop offset=".873" stop-color="#0000ff"/><stop offset=".955" stop-color="#0000f6"/><stop offset="1" stop-color="#0000fb"/></linearGradient><linearGradient id="E24"><stop offset="0" stop-color="#0000f4"/><stop offset=".051" stop-color="#0000f3"/><stop offset=".088" stop-color="#0002ff"/><stop offset=".147" stop-color="#002cff"/><stop offset=".199" stop-color="#0068ff"/><stop offset=".243" stop-color="#00b0ff"/><stop offset=".279" stop-color="#00fbff"/><stop offset=".309" stop-color="#3cffc3"/><stop offset=".346" stop-color="#81ff7e"/><stop offset=".426" stop-color="#fbff04"/><stop offset=".449" stop-color="#ffe200"/><stop offset=".471" stop-color="#ffce00"/><stop offset=".5" stop-color="#ffc900"/><stop offset=".522" stop-color="#ffd200"/><stop offset=".544" stop-color="#ffee00"/><stop offset=".551" stop-color="#fffb00"/><stop offset=".559" stop-color="#f4ff0b"/><stop offset=".588" stop-color="#9eff61"/><stop offset=".64" stop-color="#0bfff4"/><stop offset=".647" stop-color="#00f7ff"/><stop offset=".691" stop-color="#0092ff"/><stop offset=".728" stop-color="#0053ff"/><stop offset=".765" stop-color="#0028ff"/><stop offset=".809" stop-color="#000bff"/><stop offset=".853" stop-color="#0000fd"/><stop offset=".956" stop-color="#0000f7"/><stop offset="1" stop-color="#0000fd"/></linearGradient><linearGradient id="E25"><stop offset="0" stop-color="#0000f1"/><stop offset=".051" stop-color="#0000f4"/><stop offset=".088" stop-color="#0002ff"/><stop offset=".14" stop-color="#0024ff"/><stop offset=".184" stop-color="#0050ff"/><stop offset=".228" stop-color="#008dff"/><stop offset=".287" stop-color="#00faff"/><stop offset=".301" stop-color="#19ffe6"/><stop offset=".346" stop-color="#68ff97"/><stop offset=".449" stop-color="#fffd00"/><stop offset=".471" stop-color="#ffe900"/><stop offset=".507" stop-color="#ffe600"/><stop offset=".522" stop-color="#ffee00"/><stop offset=".537" stop-color="#fcff03"/><stop offset=".559" stop-color="#cdff32"/><stop offset=".603" stop-color="#57ffa8"/><stop offset=".632" stop-color="#0dfff2"/><stop offset=".64" stop-color="#00f9ff"/><stop offset=".684" stop-color="#0094ff"/><stop offset=".721" stop-color="#0052ff"/><stop offset=".757" stop-color="#0024ff"/><stop offset=".794" stop-color="#0008ff"/><stop offset=".824" stop-color="#0000fc"/><stop offset=".904" stop-color="#0000f6"/><stop offset="1" stop-color="#0000fd"/></linearGradient><linearGradient id="E26"><stop offset="0" stop-color="#0000ef"/><stop offset=".051" stop-color="#0000f4"/><stop offset=".088" stop-color="#0002ff"/><stop offset=".147" stop-color="#0026ff"/><stop offset=".199" stop-color="#005aff"/><stop offset=".243" stop-color="#0099ff"/><stop offset=".301" stop-color="#03fffc"/><stop offset=".353" stop-color="#58ffa7"/><stop offset=".449" stop-color="#deff21"/><stop offset=".471" stop-color="#efff10"/><stop offset=".515" stop-color="#eeff11"/><stop offset=".529" stop-color="#e0ff1f"/><stop offset=".551" stop-color="#b7ff48"/><stop offset=".596" stop-color="#4cffb3"/><stop offset=".625" stop-color="#0bfff4"/><stop offset=".632" stop-color="#00f8ff"/><stop offset=".691" stop-color="#0076ff"/><stop offset=".728" stop-color="#0039ff"/><stop offset=".757" stop-color="#0017ff"/><stop offset=".787" stop-color="#0002ff"/><stop offset=".838" stop-color="#0000f3"/><stop offset="1" stop-color="#0000fe"/></linearGradient><linearGradient id="E27"><stop offset="0" stop-color="#0000ed"/><stop offset=".059" stop-color="#0000f6"/><stop offset=".096" stop-color="#0005ff"/><stop offset=".154" stop-color="#0027ff"/><stop offset=".206" stop-color="#0058ff"/><stop offset=".25" stop-color="#0094ff"/><stop offset=".316" stop-color="#02fffd"/><stop offset=".375" stop-color="#58ffa7"/><stop offset=".441" stop-color="#aeff51"/><stop offset=".463" stop-color="#bdff42"/><stop offset=".515" stop-color="#bbff44"/><stop offset=".529" stop-color="#b1ff4e"/><stop offset=".551" stop-color="#90ff6f"/><stop offset=".618" stop-color="#06fff9"/><stop offset=".632" stop-color="#00e5ff"/><stop offset=".684" stop-color="#0075ff"/><stop offset=".721" stop-color="#0035ff"/><stop offset=".757" stop-color="#000aff"/><stop offset=".772" stop-color="#0000fe"/><stop offset=".816" stop-color="#0000ed"/><stop offset=".897" stop-color="#0000f5"/><stop offset="1" stop-color="#0000ff"/></linearGradient><linearGradient id="E28"><stop offset="0" stop-color="#0000ea"/><stop offset=".074" stop-color="#0000fb"/><stop offset=".11" stop-color="#000aff"/><stop offset=".169" stop-color="#002bff"/><stop offset=".213" stop-color="#0053ff"/><stop offset=".272" stop-color="#00a1ff"/><stop offset=".331" stop-color="#00fcff"/><stop offset=".426" stop-color="#79ff86"/><stop offset=".449" stop-color="#8aff75"/><stop offset=".478" stop-color="#8cff73"/><stop offset=".522" stop-color="#89ff76"/><stop offset=".544" stop-color="#75ff8a"/><stop offset=".581" stop-color="#37ffc8"/><stop offset=".61" stop-color="#00feff"/><stop offset=".691" stop-color="#0057ff"/><stop offset=".728" stop-color="#001cff"/><stop offset=".75" stop-color="#0003ff"/><stop offset=".801" stop-color="#0000e6"/><stop offset=".853" stop-color="#0000ea"/><stop offset=".949" stop-color="#0000ff"/><stop offset="1" stop-color="#0002ff"/></linearGradient><linearGradient id="E29"><stop offset="0" stop-color="#0000e8"/><stop offset=".096" stop-color="#0003ff"/><stop offset=".169" stop-color="#0022ff"/><stop offset=".213" stop-color="#0044ff"/><stop offset=".272" stop-color="#008aff"/><stop offset=".353" stop-color="#00ffff"/><stop offset=".419" stop-color="#50ffaf"/><stop offset=".449" stop-color="#64ff9b"/><stop offset=".478" stop-color="#65ff9a"/><stop offset=".529" stop-color="#5effa1"/><stop offset=".551" stop-color="#4affb5"/><stop offset=".588" stop-color="#12ffed"/><stop offset=".596" stop-color="#05fffa"/><stop offset=".603" stop-color="#00f7ff"/><stop offset=".691" stop-color="#0047ff"/><stop offset=".721" stop-color="#0017ff"/><stop offset=".743" stop-color="#0000fc"/><stop offset=".772" stop-color="#0000e6"/><stop offset=".809" stop-color="#0000dd"/><stop offset=".868" stop-color="#0000ec"/><stop offset=".926" stop-color="#0001ff"/><stop offset="1" stop-color="#0004ff"/></linearGradient><linearGradient id="E30"><stop offset="0" stop-color="#0000e6"/><stop offset=".096" stop-color="#0002ff"/><stop offset=".169" stop-color="#0018ff"/><stop offset=".213" stop-color="#0035ff"/><stop offset=".265" stop-color="#0069ff"/><stop offset=".375" stop-color="#01fffe"/><stop offset=".419" stop-color="#31ffce"/><stop offset=".449" stop-color="#43ffbc"/><stop offset=".493" stop-color="#46ffb9"/><stop offset=".529" stop-color="#40ffbf"/><stop offset=".559" stop-color="#27ffd8"/><stop offset=".588" stop-color="#00fcff"/><stop offset=".647" stop-color="#008fff"/><stop offset=".699" stop-color="#002bff"/><stop offset=".728" stop-color="#0000ff"/><stop offset=".765" stop-color="#0000df"/><stop offset=".801" stop-color="#0000d5"/><stop offset=".846" stop-color="#0000e0"/><stop offset=".912" stop-color="#0000ff"/><stop offset=".963" stop-color="#0008ff"/><stop offset="1" stop-color="#0005ff"/></linearGradient><linearGradient id="E31"><stop offset="0" stop-color="#0000e4"/><stop offset=".096" stop-color="#0000ff"/><stop offset=".169" stop-color="#000eff"/><stop offset=".213" stop-color="#0025ff"/><stop offset=".265" stop-color="#0053ff"/><stop offset=".331" stop-color="#00aaff"/><stop offset=".397" stop-color="#00ffff"/><stop offset=".441" stop-color="#25ffda"/><stop offset=".485" stop-color="#30ffcf"/><stop offset=".522" stop-color="#2bffd4"/><stop offset=".551" stop-color="#18ffe7"/><stop offset=".574" stop-color="#00feff"/><stop offset=".618" stop-color="#00b8ff"/><stop offset=".699" stop-color="#001eff"/><stop offset=".721" stop-color="#0000fd"/><stop offset=".757" stop-color="#0000da"/><stop offset=".794" stop-color="#0000ce"/><stop offset=".831" stop-color="#0000d7"/><stop offset=".904" stop-color="#0000ff"/><stop offset=".949" stop-color="#000cff"/><stop offset="1" stop-color="#0007ff"/></linearGradient><linearGradient id="E32"><stop offset="0" stop-color="#0000e1"/><stop offset=".081" stop-color="#0000fc"/><stop offset=".169" stop-color="#0003ff"/><stop offset=".221" stop-color="#0019ff"/><stop offset=".272" stop-color="#0045ff"/><stop offset=".331" stop-color="#0091ff"/><stop offset=".39" stop-color="#00deff"/><stop offset=".419" stop-color="#00fcff"/><stop offset=".471" stop-color="#1affe5"/><stop offset=".515" stop-color="#1cffe3"/><stop offset=".551" stop-color="#06fff9"/><stop offset=".559" stop-color="#00feff"/><stop offset=".596" stop-color="#00cfff"/><stop offset=".647" stop-color="#0075ff"/><stop offset=".706" stop-color="#0008ff"/><stop offset=".713" stop-color="#0000fd"/><stop offset=".743" stop-color="#0000de"/><stop offset=".779" stop-color="#0000ca"/><stop offset=".816" stop-color="#0000ce"/><stop offset=".897" stop-color="#0000ff"/><stop offset=".941" stop-color="#000fff"/><stop offset="1" stop-color="#0009ff"/></linearGradient><linearGradient id="E33"><stop offset="0" stop-color="#0000df"/><stop offset=".081" stop-color="#0000fa"/><stop offset=".176" stop-color="#0000f8"/><stop offset=".213" stop-color="#0005ff"/><stop offset=".257" stop-color="#0023ff"/><stop offset=".301" stop-color="#0053ff"/><stop offset=".382" stop-color="#00c0ff"/><stop offset=".434" stop-color="#00f3ff"/><stop offset=".456" stop-color="#02fffd"/><stop offset=".5" stop-color="#0ffff0"/><stop offset=".544" stop-color="#00fdff"/><stop offset=".581" stop-color="#00d8ff"/><stop offset=".625" stop-color="#0095ff"/><stop offset=".706" stop-color="#0003ff"/><stop offset=".75" stop-color="#0000d5"/><stop offset=".787" stop-color="#0000c7"/><stop offset=".824" stop-color="#0000d1"/><stop offset=".897" stop-color="#0002ff"/><stop offset=".934" stop-color="#0012ff"/><stop offset=".985" stop-color="#000eff"/><stop offset="1" stop-color="#000aff"/></linearGradient><linearGradient id="E34"><stop offset="0" stop-color="#0000de"/><stop offset=".074" stop-color="#0000f6"/><stop offset=".184" stop-color="#0000ed"/><stop offset=".235" stop-color="#0002ff"/><stop offset=".279" stop-color="#0027ff"/><stop offset=".331" stop-color="#0068ff"/><stop offset=".397" stop-color="#00bdff"/><stop offset=".441" stop-color="#00e7ff"/><stop offset=".485" stop-color="#00feff"/><stop offset=".522" stop-color="#00fdff"/><stop offset=".566" stop-color="#00dfff"/><stop offset=".61" stop-color="#00a6ff"/><stop offset=".706" stop-color="#0004ff"/><stop offset=".728" stop-color="#0000e9"/><stop offset=".765" stop-color="#0000cf"/><stop offset=".801" stop-color="#0000cb"/><stop offset=".846" stop-color="#0000e0"/><stop offset=".89" stop-color="#0000ff"/><stop offset=".934" stop-color="#0013ff"/><stop offset=".978" stop-color="#0011ff"/><stop offset="1" stop-color="#000bff"/></linearGradient><linearGradient id="E35"><stop offset="0" stop-color="#0000de"/><stop offset=".074" stop-color="#0000f1"/><stop offset=".154" stop-color="#0000e4"/><stop offset=".199" stop-color="#0000e3"/><stop offset=".243" stop-color="#0000f8"/><stop offset=".257" stop-color="#0004ff"/><stop offset=".301" stop-color="#0031ff"/><stop offset=".404" stop-color="#00b4ff"/><stop offset=".449" stop-color="#00ddff"/><stop offset=".493" stop-color="#00f3ff"/><stop offset=".529" stop-color="#00f0ff"/><stop offset=".566" stop-color="#00d7ff"/><stop offset=".603" stop-color="#00adff"/><stop offset=".706" stop-color="#0009ff"/><stop offset=".713" stop-color="#0000ff"/><stop offset=".75" stop-color="#0000dd"/><stop offset=".787" stop-color="#0000d0"/><stop offset=".824" stop-color="#0000d8"/><stop offset=".89" stop-color="#0002ff"/><stop offset=".934" stop-color="#0014ff"/><stop offset=".978" stop-color="#0012ff"/><stop offset="1" stop-color="#000cff"/></linearGradient><linearGradient id="E36"><stop offset="0" stop-color="#0000de"/><stop offset=".074" stop-color="#0000ed"/><stop offset=".132" stop-color="#0000e2"/><stop offset=".184" stop-color="#0000d7"/><stop offset=".221" stop-color="#0000df"/><stop offset=".265" stop-color="#0000fd"/><stop offset=".294" stop-color="#001bff"/><stop offset=".412" stop-color="#00aeff"/><stop offset=".463" stop-color="#00dbff"/><stop offset=".5" stop-color="#00eaff"/><stop offset=".537" stop-color="#00e5ff"/><stop offset=".574" stop-color="#00ccff"/><stop offset=".618" stop-color="#0097ff"/><stop offset=".706" stop-color="#0012ff"/><stop offset=".721" stop-color="#0000ff"/><stop offset=".757" stop-color="#0000e2"/><stop offset=".794" stop-color="#0000d8"/><stop offset=".838" stop-color="#0000e5"/><stop offset=".882" stop-color="#0000ff"/><stop offset=".934" stop-color="#0015ff"/><stop offset=".978" stop-color="#0013ff"/><stop offset="1" stop-color="#000cff"/></linearGradient><linearGradient id="E37"><stop offset="0" stop-color="#0000dd"/><stop offset=".066" stop-color="#0000ea"/><stop offset=".125" stop-color="#0000de"/><stop offset=".184" stop-color="#0000ce"/><stop offset=".221" stop-color="#0000d5"/><stop offset=".265" stop-color="#0000f2"/><stop offset=".279" stop-color="#0001ff"/><stop offset=".346" stop-color="#004fff"/><stop offset=".426" stop-color="#00b1ff"/><stop offset=".471" stop-color="#00d5ff"/><stop offset=".507" stop-color="#00e3ff"/><stop offset=".544" stop-color="#00ddff"/><stop offset=".588" stop-color="#00bbff"/><stop offset=".632" stop-color="#0085ff"/><stop offset=".706" stop-color="#001dff"/><stop offset=".728" stop-color="#0004ff"/><stop offset=".757" stop-color="#0000ed"/><stop offset=".794" stop-color="#0000e2"/><stop offset=".838" stop-color="#0000eb"/><stop offset=".882" stop-color="#0002ff"/><stop offset=".934" stop-color="#0016ff"/><stop offset=".978" stop-color="#0013ff"/><stop offset="1" stop-color="#000cff"/></linearGradient><linearGradient id="E38"><stop offset="0" stop-color="#0000dd"/><stop offset=".059" stop-color="#0000e8"/><stop offset=".11" stop-color="#0000e0"/><stop offset=".184" stop-color="#0000c8"/><stop offset=".213" stop-color="#0000cb"/><stop offset=".257" stop-color="#0000e5"/><stop offset=".287" stop-color="#0000ff"/><stop offset=".36" stop-color="#0057ff"/><stop offset=".434" stop-color="#00aeff"/><stop offset=".478" stop-color="#00d1ff"/><stop offset=".515" stop-color="#00ddff"/><stop offset=".551" stop-color="#00d7ff"/><stop offset=".596" stop-color="#00b5ff"/><stop offset=".647" stop-color="#0077ff"/><stop offset=".713" stop-color="#0020ff"/><stop offset=".75" stop-color="#0000fe"/><stop offset=".794" stop-color="#0000ec"/><stop offset=".838" stop-color="#0000f2"/><stop offset=".875" stop-color="#0002ff"/><stop offset=".934" stop-color="#0016ff"/><stop offset=".978" stop-color="#0014ff"/><stop offset="1" stop-color="#000cff"/></linearGradient><linearGradient id="E39"><stop offset="0" stop-color="#0000dd"/><stop offset=".059" stop-color="#0000e7"/><stop offset=".118" stop-color="#0000db"/><stop offset=".191" stop-color="#0000c4"/><stop offset=".228" stop-color="#0000cd"/><stop offset=".272" stop-color="#0000eb"/><stop offset=".294" stop-color="#0001ff"/><stop offset=".382" stop-color="#006aff"/><stop offset=".449" stop-color="#00b3ff"/><stop offset=".493" stop-color="#00d2ff"/><stop offset=".529" stop-color="#00daff"/><stop offset=".566" stop-color="#00cfff"/><stop offset=".61" stop-color="#00aaff"/><stop offset=".721" stop-color="#0026ff"/><stop offset=".765" stop-color="#0003ff"/><stop offset=".816" stop-color="#0000f6"/><stop offset=".868" stop-color="#0003ff"/><stop offset=".934" stop-color="#0017ff"/><stop offset=".978" stop-color="#0014ff"/><stop offset="1" stop-color="#000bff"/></linearGradient><linearGradient id="E40"><stop offset="0" stop-color="#0000dd"/><stop offset=".059" stop-color="#0000e7"/><stop offset=".118" stop-color="#0000da"/><stop offset=".191" stop-color="#0000c4"/><stop offset=".235" stop-color="#0000cf"/><stop offset=".287" stop-color="#0000f4"/><stop offset=".301" stop-color="#0003ff"/><stop offset=".382" stop-color="#0061ff"/><stop offset=".449" stop-color="#00acff"/><stop offset=".493" stop-color="#00cdff"/><stop offset=".529" stop-color="#00d8ff"/><stop offset=".566" stop-color="#00d0ff"/><stop offset=".61" stop-color="#00afff"/><stop offset=".691" stop-color="#0055ff"/><stop offset=".743" stop-color="#0020ff"/><stop offset=".787" stop-color="#0005ff"/><stop offset=".831" stop-color="#0000ff"/><stop offset=".941" stop-color="#0019ff"/><stop offset=".985" stop-color="#0011ff"/><stop offset="1" stop-color="#0009ff"/></linearGradient><linearGradient id="E41"><stop offset="0" stop-color="#0000dd"/><stop offset=".051" stop-color="#0000e8"/><stop offset=".11" stop-color="#0000dd"/><stop offset=".191" stop-color="#0000c6"/><stop offset=".235" stop-color="#0000cf"/><stop offset=".294" stop-color="#0000f7"/><stop offset=".309" stop-color="#0006ff"/><stop offset=".412" stop-color="#007eff"/><stop offset=".463" stop-color="#00b4ff"/><stop offset=".507" stop-color="#00d0ff"/><stop offset=".544" stop-color="#00d6ff"/><stop offset=".581" stop-color="#00caff"/><stop offset=".632" stop-color="#00a2ff"/><stop offset=".743" stop-color="#002eff"/><stop offset=".787" stop-color="#0010ff"/><stop offset=".831" stop-color="#0007ff"/><stop offset=".941" stop-color="#0019ff"/><stop offset=".985" stop-color="#0010ff"/><stop offset="1" stop-color="#0008ff"/></linearGradient><linearGradient id="E42"><stop offset="0" stop-color="#0000dd"/><stop offset=".051" stop-color="#0000e9"/><stop offset=".118" stop-color="#0000dd"/><stop offset=".191" stop-color="#0000ca"/><stop offset=".235" stop-color="#0000d1"/><stop offset=".287" stop-color="#0000ef"/><stop offset=".309" stop-color="#0003ff"/><stop offset=".382" stop-color="#0055ff"/><stop offset=".456" stop-color="#00a8ff"/><stop offset=".493" stop-color="#00c6ff"/><stop offset=".529" stop-color="#00d4ff"/><stop offset=".566" stop-color="#00d2ff"/><stop offset=".618" stop-color="#00b6ff"/><stop offset=".691" stop-color="#0070ff"/><stop offset=".757" stop-color="#002eff"/><stop offset=".801" stop-color="#0014ff"/><stop offset=".846" stop-color="#000dff"/><stop offset=".941" stop-color="#001aff"/><stop offset=".978" stop-color="#0012ff"/><stop offset="1" stop-color="#0005ff"/></linearGradient><linearGradient id="E43"><stop offset="0" stop-color="#0000e0"/><stop offset=".052" stop-color="#0000eb"/><stop offset=".127" stop-color="#0000db"/><stop offset=".187" stop-color="#0000ce"/><stop offset=".231" stop-color="#0000d4"/><stop offset=".291" stop-color="#0000f4"/><stop offset=".306" stop-color="#0001ff"/><stop offset=".373" stop-color="#0047ff"/><stop offset=".455" stop-color="#00a4ff"/><stop offset=".5" stop-color="#00c7ff"/><stop offset=".537" stop-color="#00d4ff"/><stop offset=".582" stop-color="#00ceff"/><stop offset=".634" stop-color="#00b2ff"/><stop offset=".694" stop-color="#007dff"/><stop offset=".769" stop-color="#0033ff"/><stop offset=".813" stop-color="#0018ff"/><stop offset=".858" stop-color="#0011ff"/><stop offset=".955" stop-color="#0019ff"/><stop offset=".993" stop-color="#000cff"/><stop offset="1" stop-color="#0008ff"/></linearGradient><linearGradient id="E44"><stop offset="0" stop-color="#0000e3"/><stop offset=".045" stop-color="#0000ec"/><stop offset=".114" stop-color="#0000e1"/><stop offset=".189" stop-color="#0000d3"/><stop offset=".242" stop-color="#0000dd"/><stop offset=".303" stop-color="#0000ff"/><stop offset=".364" stop-color="#003aff"/><stop offset=".462" stop-color="#00a7ff"/><stop offset=".508" stop-color="#00c8ff"/><stop offset=".553" stop-color="#00d3ff"/><stop offset=".606" stop-color="#00c8ff"/><stop offset=".667" stop-color="#00a4ff"/><stop offset=".788" stop-color="#0031ff"/><stop offset=".826" stop-color="#001bff"/><stop offset=".879" stop-color="#0013ff"/><stop offset=".962" stop-color="#0018ff"/><stop offset=".992" stop-color="#000eff"/><stop offset="1" stop-color="#0009ff"/></linearGradient><linearGradient id="E45"><stop offset="0" stop-color="#0000e2"/><stop offset=".045" stop-color="#0000ee"/><stop offset=".121" stop-color="#0000e3"/><stop offset=".197" stop-color="#0000d9"/><stop offset=".258" stop-color="#0000e7"/><stop offset=".303" stop-color="#0000ff"/><stop offset=".364" stop-color="#0037ff"/><stop offset=".462" stop-color="#00a3ff"/><stop offset=".508" stop-color="#00c5ff"/><stop offset=".553" stop-color="#00d1ff"/><stop offset=".606" stop-color="#00caff"/><stop offset=".659" stop-color="#00b2ff"/><stop offset=".712" stop-color="#0084ff"/><stop offset=".788" stop-color="#0038ff"/><stop offset=".841" stop-color="#0019ff"/><stop offset=".902" stop-color="#0015ff"/><stop offset=".962" stop-color="#0016ff"/><stop offset=".992" stop-color="#000aff"/><stop offset="1" stop-color="#0005ff"/></linearGradient><linearGradient id="E46"><stop offset="0" stop-color="#0000e5"/><stop offset=".046" stop-color="#0000f0"/><stop offset=".192" stop-color="#0000df"/><stop offset=".254" stop-color="#0000eb"/><stop offset=".3" stop-color="#0001ff"/><stop offset=".354" stop-color="#002dff"/><stop offset=".477" stop-color="#00adff"/><stop offset=".523" stop-color="#00c8ff"/><stop offset=".577" stop-color="#00cfff"/><stop offset=".638" stop-color="#00c2ff"/><stop offset=".685" stop-color="#00a9ff"/><stop offset=".8" stop-color="#0038ff"/><stop offset=".846" stop-color="#001bff"/><stop offset=".9" stop-color="#0014ff"/><stop offset=".969" stop-color="#0012ff"/><stop offset="1" stop-color="#0005ff"/></linearGradient><linearGradient id="E47"><stop offset="0" stop-color="#0000e6"/><stop offset=".047" stop-color="#0000f1"/><stop offset=".141" stop-color="#0000e8"/><stop offset=".219" stop-color="#0000e9"/><stop offset=".297" stop-color="#0003ff"/><stop offset=".344" stop-color="#0024ff"/><stop offset=".477" stop-color="#00a8ff"/><stop offset=".516" stop-color="#00c0ff"/><stop offset=".57" stop-color="#00cbff"/><stop offset=".648" stop-color="#00c1ff"/><stop offset=".687" stop-color="#00afff"/><stop offset=".82" stop-color="#0030ff"/><stop offset=".867" stop-color="#0017ff"/><stop offset=".922" stop-color="#0012ff"/><stop offset=".977" stop-color="#000dff"/><stop offset="1" stop-color="#0002ff"/></linearGradient><linearGradient id="E48"><stop offset="0" stop-color="#0000e5"/><stop offset=".056" stop-color="#0000f3"/><stop offset=".198" stop-color="#0000ef"/><stop offset=".286" stop-color="#0003ff"/><stop offset=".333" stop-color="#001eff"/><stop offset=".413" stop-color="#0066ff"/><stop offset=".484" stop-color="#00a7ff"/><stop offset=".532" stop-color="#00bfff"/><stop offset=".595" stop-color="#00c6ff"/><stop offset=".667" stop-color="#00bbff"/><stop offset=".714" stop-color="#009dff"/><stop offset=".833" stop-color="#002eff"/><stop offset=".873" stop-color="#0016ff"/><stop offset=".976" stop-color="#0008ff"/><stop offset="1" stop-color="#0000fc"/></linearGradient><linearGradient id="E49"><stop offset="0" stop-color="#0000e5"/><stop offset=".048" stop-color="#0000f5"/><stop offset=".226" stop-color="#0000fa"/><stop offset=".282" stop-color="#0007ff"/><stop offset=".339" stop-color="#0024ff"/><stop offset=".484" stop-color="#00a0ff"/><stop offset=".532" stop-color="#00b7ff"/><stop offset=".605" stop-color="#00bfff"/><stop offset=".677" stop-color="#00b4ff"/><stop offset=".726" stop-color="#0096ff"/><stop offset=".855" stop-color="#0024ff"/><stop offset=".887" stop-color="#0014ff"/><stop offset=".968" stop-color="#0007ff"/><stop offset=".992" stop-color="#0000fc"/><stop offset="1" stop-color="#0000f7"/></linearGradient><linearGradient id="E50"><stop offset="0" stop-color="#0000e5"/><stop offset=".049" stop-color="#0000f8"/><stop offset=".221" stop-color="#0003ff"/><stop offset=".295" stop-color="#0012ff"/><stop offset=".344" stop-color="#002aff"/><stop offset=".484" stop-color="#0098ff"/><stop offset=".541" stop-color="#00b0ff"/><stop offset=".623" stop-color="#00b6ff"/><stop offset=".689" stop-color="#00aaff"/><stop offset=".738" stop-color="#008fff"/><stop offset=".877" stop-color="#001dff"/><stop offset=".984" stop-color="#0000fc"/><stop offset="1" stop-color="#0000f2"/></linearGradient><linearGradient id="E51"><stop offset="0" stop-color="#0000e6"/><stop offset=".058" stop-color="#0000fe"/><stop offset=".275" stop-color="#0012ff"/><stop offset=".333" stop-color="#0026ff"/><stop offset=".417" stop-color="#005fff"/><stop offset=".492" stop-color="#0094ff"/><stop offset=".55" stop-color="#00a8ff"/><stop offset=".642" stop-color="#00abff"/><stop offset=".7" stop-color="#00a0ff"/><stop offset=".767" stop-color="#007cff"/><stop offset=".883" stop-color="#0024ff"/><stop offset=".975" stop-color="#0000fe"/><stop offset="1" stop-color="#0000ee"/></linearGradient><linearGradient id="E52"><stop offset="0" stop-color="#0000e7"/><stop offset=".042" stop-color="#0000fe"/><stop offset=".127" stop-color="#0011ff"/><stop offset=".288" stop-color="#001aff"/><stop offset=".339" stop-color="#002bff"/><stop offset=".398" stop-color="#004fff"/><stop offset=".483" stop-color="#0087ff"/><stop offset=".542" stop-color="#009cff"/><stop offset=".627" stop-color="#00a1ff"/><stop offset=".712" stop-color="#0096ff"/><stop offset=".78" stop-color="#0077ff"/><stop offset=".907" stop-color="#0022ff"/><stop offset=".975" stop-color="#0000fe"/><stop offset="1" stop-color="#0000ec"/></linearGradient><linearGradient id="E53"><stop offset="0" stop-color="#0000ee"/><stop offset=".026" stop-color="#0000fe"/><stop offset=".096" stop-color="#0017ff"/><stop offset=".202" stop-color="#001dff"/><stop offset=".289" stop-color="#001fff"/><stop offset=".351" stop-color="#0032ff"/><stop offset=".491" stop-color="#0084ff"/><stop offset=".561" stop-color="#0094ff"/><stop offset=".702" stop-color="#0091ff"/><stop offset=".772" stop-color="#007fff"/><stop offset=".868" stop-color="#0049ff"/><stop offset=".982" stop-color="#0001ff"/><stop offset="1" stop-color="#0000f2"/></linearGradient><linearGradient id="E54"><stop offset="0" stop-color="#0000f1"/><stop offset=".027" stop-color="#0004ff"/><stop offset=".08" stop-color="#001bff"/><stop offset=".17" stop-color="#0025ff"/><stop offset=".304" stop-color="#0024ff"/><stop offset=".357" stop-color="#0034ff"/><stop offset=".491" stop-color="#007dff"/><stop offset=".554" stop-color="#008aff"/><stop offset=".75" stop-color="#0083ff"/><stop offset=".812" stop-color="#0070ff"/><stop offset=".938" stop-color="#0027ff"/><stop offset=".991" stop-color="#0000fc"/><stop offset="1" stop-color="#0000f3"/></linearGradient><linearGradient id="E55"><stop offset="0" stop-color="#0000fa"/><stop offset=".019" stop-color="#0009ff"/><stop offset=".074" stop-color="#0022ff"/><stop offset=".157" stop-color="#002dff"/><stop offset=".306" stop-color="#0027ff"/><stop offset=".361" stop-color="#0036ff"/><stop offset=".481" stop-color="#0074ff"/><stop offset=".546" stop-color="#0081ff"/><stop offset=".694" stop-color="#007bff"/><stop offset=".778" stop-color="#007cff"/><stop offset=".852" stop-color="#0065ff"/><stop offset=".944" stop-color="#002fff"/><stop offset="1" stop-color="#0000fe"/></linearGradient><linearGradient id="E56"><stop offset="0" stop-color="#0006ff"/><stop offset=".058" stop-color="#0024ff"/><stop offset=".135" stop-color="#0032ff"/><stop offset=".231" stop-color="#002dff"/><stop offset=".317" stop-color="#0029ff"/><stop offset=".375" stop-color="#003dff"/><stop offset=".471" stop-color="#006dff"/><stop offset=".538" stop-color="#007aff"/><stop offset=".673" stop-color="#006dff"/><stop offset=".788" stop-color="#0078ff"/><stop offset=".846" stop-color="#006dff"/><stop offset=".923" stop-color="#0048ff"/><stop offset=".981" stop-color="#001fff"/><stop offset="1" stop-color="#000cff"/></linearGradient><linearGradient id="E57"><stop offset="0" stop-color="#000fff"/><stop offset=".06" stop-color="#002bff"/><stop offset=".14" stop-color="#0038ff"/><stop offset=".23" stop-color="#0031ff"/><stop offset=".31" stop-color="#0029ff"/><stop offset=".36" stop-color="#0037ff"/><stop offset=".47" stop-color="#006bff"/><stop offset=".53" stop-color="#0075ff"/><stop offset=".63" stop-color="#0066ff"/><stop offset=".69" stop-color="#0062ff"/><stop offset=".79" stop-color="#0075ff"/><stop offset=".85" stop-color="#006eff"/><stop offset=".93" stop-color="#004cff"/><stop offset=".99" stop-color="#0022ff"/><stop offset="1" stop-color="#0019ff"/></linearGradient><linearGradient id="E58"><stop offset="0" stop-color="#0014ff"/><stop offset=".062" stop-color="#002fff"/><stop offset=".135" stop-color="#003cff"/><stop offset=".219" stop-color="#0036ff"/><stop offset=".302" stop-color="#0029ff"/><stop offset=".354" stop-color="#0037ff"/><stop offset=".458" stop-color="#0068ff"/><stop offset=".521" stop-color="#0073ff"/><stop offset=".594" stop-color="#0069ff"/><stop offset=".677" stop-color="#0055ff"/><stop offset=".74" stop-color="#0062ff"/><stop offset=".802" stop-color="#0071ff"/><stop offset=".854" stop-color="#006dff"/><stop offset=".927" stop-color="#0052ff"/><stop offset="1" stop-color="#0020ff"/></linearGradient><linearGradient id="E59"><stop offset="0" stop-color="#0016ff"/><stop offset=".076" stop-color="#0035ff"/><stop offset=".141" stop-color="#0040ff"/><stop offset=".217" stop-color="#003aff"/><stop offset=".293" stop-color="#002aff"/><stop offset=".337" stop-color="#0034ff"/><stop offset=".457" stop-color="#006aff"/><stop offset=".522" stop-color="#0073ff"/><stop offset=".598" stop-color="#0065ff"/><stop offset=".685" stop-color="#004cff"/><stop offset=".728" stop-color="#0055ff"/><stop offset=".804" stop-color="#006cff"/><stop offset=".859" stop-color="#006bff"/><stop offset=".913" stop-color="#005aff"/><stop offset=".978" stop-color="#0034ff"/><stop offset="1" stop-color="#0024ff"/></linearGradient><linearGradient id="E60"><stop offset="0" stop-color="#001dff"/><stop offset=".081" stop-color="#003bff"/><stop offset=".151" stop-color="#0044ff"/><stop offset=".244" stop-color="#0035ff"/><stop offset=".302" stop-color="#0030ff"/><stop offset=".442" stop-color="#006bff"/><stop offset=".512" stop-color="#0075ff"/><stop offset=".581" stop-color="#006cff"/><stop offset=".698" stop-color="#0048ff"/><stop offset=".744" stop-color="#0052ff"/><stop offset=".826" stop-color="#006aff"/><stop offset=".884" stop-color="#0066ff"/><stop offset=".953" stop-color="#004bff"/><stop offset="1" stop-color="#002eff"/></linearGradient><linearGradient id="E61"><stop offset="0" stop-color="#001dff"/><stop offset=".073" stop-color="#003bff"/><stop offset=".146" stop-color="#0047ff"/><stop offset=".232" stop-color="#003dff"/><stop offset=".28" stop-color="#0037ff"/><stop offset=".354" stop-color="#004eff"/><stop offset=".451" stop-color="#0073ff"/><stop offset=".524" stop-color="#0079ff"/><stop offset=".61" stop-color="#0066ff"/><stop offset=".695" stop-color="#004cff"/><stop offset=".744" stop-color="#004fff"/><stop offset=".829" stop-color="#0066ff"/><stop offset=".89" stop-color="#0062ff"/><stop offset=".963" stop-color="#0045ff"/><stop offset="1" stop-color="#002dff"/></linearGradient><linearGradient id="E62"><stop offset="0" stop-color="#0024ff"/><stop offset=".079" stop-color="#0042ff"/><stop offset=".158" stop-color="#004aff"/><stop offset=".263" stop-color="#0041ff"/><stop offset=".329" stop-color="#0051ff"/><stop offset=".447" stop-color="#0079ff"/><stop offset=".513" stop-color="#007eff"/><stop offset=".605" stop-color="#006eff"/><stop offset=".711" stop-color="#0051ff"/><stop offset=".776" stop-color="#0056ff"/><stop offset=".855" stop-color="#0064ff"/><stop offset=".921" stop-color="#005aff"/><stop offset="1" stop-color="#0034ff"/></linearGradient><linearGradient id="E63"><stop offset="0" stop-color="#0031ff"/><stop offset=".088" stop-color="#004bff"/><stop offset=".25" stop-color="#004bff"/><stop offset=".353" stop-color="#0066ff"/><stop offset=".456" stop-color="#0081ff"/><stop offset=".544" stop-color="#0081ff"/><stop offset=".735" stop-color="#0055ff"/><stop offset=".809" stop-color="#0057ff"/><stop offset=".897" stop-color="#0060ff"/><stop offset=".956" stop-color="#0054ff"/><stop offset="1" stop-color="#0041ff"/></linearGradient><linearGradient id="E64"><stop offset="0" stop-color="#003dff"/><stop offset=".067" stop-color="#004bff"/><stop offset=".217" stop-color="#004fff"/><stop offset=".35" stop-color="#006eff"/><stop offset=".45" stop-color="#0085ff"/><stop offset=".533" stop-color="#0087ff"/><stop offset=".683" stop-color="#0066ff"/><stop offset=".783" stop-color="#0055ff"/><stop offset=".95" stop-color="#0058ff"/><stop offset="1" stop-color="#004bff"/></linearGradient><linearGradient id="E65"><stop offset="0" stop-color="#0044ff"/><stop offset=".18" stop-color="#0050ff"/><stop offset=".44" stop-color="#0086ff"/><stop offset=".52" stop-color="#0089ff"/><stop offset=".64" stop-color="#0076ff"/><stop offset=".82" stop-color="#0053ff"/><stop offset="1" stop-color="#004eff"/></linearGradient><linearGradient id="E66"><stop offset="0" stop-color="#0043ff"/><stop offset=".222" stop-color="#0063ff"/><stop offset=".417" stop-color="#0083ff"/><stop offset=".528" stop-color="#0086ff"/><stop offset=".694" stop-color="#0070ff"/><stop offset=".917" stop-color="#004cff"/><stop offset="1" stop-color="#0044ff"/></linearGradient><clipPath id="clipE"><ellipse cx="158.6" cy="716.0" rx="101.65" ry="99.10"/></clipPath></defs>
<g clip-path="url(#clipE)"><rect x="131.5" y="616.15" width="54.2" height="4.08" fill="url(#E0)"/><rect x="121.0" y="619.13" width="75.3" height="4.08" fill="url(#E1)"/><rect x="113.4" y="622.11" width="90.4" height="4.08" fill="url(#E2)"/><rect x="107.4" y="625.09" width="102.4" height="4.08" fill="url(#E3)"/><rect x="101.4" y="628.07" width="114.4" height="4.08" fill="url(#E4)"/><rect x="96.9" y="631.05" width="123.5" height="4.08" fill="url(#E5)"/><rect x="93.8" y="634.03" width="129.5" height="4.08" fill="url(#E6)"/><rect x="89.3" y="637.01" width="138.5" height="4.08" fill="url(#E7)"/><rect x="86.3" y="639.99" width="144.6" height="4.08" fill="url(#E8)"/><rect x="83.3" y="642.98" width="150.6" height="4.08" fill="url(#E9)"/><rect x="80.3" y="645.96" width="156.6" height="4.08" fill="url(#E10)"/><rect x="77.3" y="648.94" width="162.6" height="4.08" fill="url(#E11)"/><rect x="74.3" y="651.92" width="168.7" height="4.08" fill="url(#E12)"/><rect x="72.8" y="654.90" width="171.7" height="4.08" fill="url(#E13)"/><rect x="69.8" y="657.88" width="177.7" height="4.08" fill="url(#E14)"/><rect x="68.2" y="660.86" width="180.7" height="4.08" fill="url(#E15)"/><rect x="66.7" y="663.84" width="183.7" height="4.08" fill="url(#E16)"/><rect x="65.2" y="666.82" width="186.7" height="4.08" fill="url(#E17)"/><rect x="63.7" y="669.80" width="189.7" height="4.08" fill="url(#E18)"/><rect x="62.2" y="672.78" width="192.8" height="4.08" fill="url(#E19)"/><rect x="60.7" y="675.76" width="195.8" height="4.08" fill="url(#E20)"/><rect x="59.2" y="678.74" width="198.8" height="4.08" fill="url(#E21)"/><rect x="59.2" y="681.72" width="198.8" height="4.08" fill="url(#E22)"/><rect x="57.7" y="684.70" width="201.8" height="4.08" fill="url(#E23)"/><rect x="56.2" y="687.68" width="204.8" height="4.08" fill="url(#E24)"/><rect x="56.2" y="690.66" width="204.8" height="4.08" fill="url(#E25)"/><rect x="56.2" y="693.65" width="204.8" height="4.08" fill="url(#E26)"/><rect x="56.2" y="696.63" width="204.8" height="4.08" fill="url(#E27)"/><rect x="56.2" y="699.61" width="204.8" height="4.08" fill="url(#E28)"/><rect x="56.2" y="702.59" width="204.8" height="4.08" fill="url(#E29)"/><rect x="56.2" y="705.57" width="204.8" height="4.08" fill="url(#E30)"/><rect x="56.2" y="708.55" width="204.8" height="4.08" fill="url(#E31)"/><rect x="56.2" y="711.53" width="204.8" height="4.08" fill="url(#E32)"/><rect x="56.2" y="714.51" width="204.8" height="4.08" fill="url(#E33)"/><rect x="56.2" y="717.49" width="204.8" height="4.08" fill="url(#E34)"/><rect x="56.2" y="720.47" width="204.8" height="4.08" fill="url(#E35)"/><rect x="56.2" y="723.45" width="204.8" height="4.08" fill="url(#E36)"/><rect x="56.2" y="726.43" width="204.8" height="4.08" fill="url(#E37)"/><rect x="56.2" y="729.41" width="204.8" height="4.08" fill="url(#E38)"/><rect x="56.2" y="732.39" width="204.8" height="4.08" fill="url(#E39)"/><rect x="56.2" y="735.37" width="204.8" height="4.08" fill="url(#E40)"/><rect x="56.2" y="738.35" width="204.8" height="4.08" fill="url(#E41)"/><rect x="56.2" y="741.34" width="204.8" height="4.08" fill="url(#E42)"/><rect x="57.7" y="744.32" width="201.8" height="4.08" fill="url(#E43)"/><rect x="59.2" y="747.30" width="198.8" height="4.08" fill="url(#E44)"/><rect x="59.2" y="750.28" width="198.8" height="4.08" fill="url(#E45)"/><rect x="60.7" y="753.26" width="195.8" height="4.08" fill="url(#E46)"/><rect x="62.2" y="756.24" width="192.8" height="4.08" fill="url(#E47)"/><rect x="63.7" y="759.22" width="189.7" height="4.08" fill="url(#E48)"/><rect x="65.2" y="762.20" width="186.7" height="4.08" fill="url(#E49)"/><rect x="66.7" y="765.18" width="183.7" height="4.08" fill="url(#E50)"/><rect x="68.2" y="768.16" width="180.7" height="4.08" fill="url(#E51)"/><rect x="69.8" y="771.14" width="177.7" height="4.08" fill="url(#E52)"/><rect x="72.8" y="774.12" width="171.7" height="4.08" fill="url(#E53)"/><rect x="74.3" y="777.10" width="168.7" height="4.08" fill="url(#E54)"/><rect x="77.3" y="780.08" width="162.6" height="4.08" fill="url(#E55)"/><rect x="80.3" y="783.06" width="156.6" height="4.08" fill="url(#E56)"/><rect x="83.3" y="786.04" width="150.6" height="4.08" fill="url(#E57)"/><rect x="86.3" y="789.02" width="144.6" height="4.08" fill="url(#E58)"/><rect x="89.3" y="792.01" width="138.5" height="4.08" fill="url(#E59)"/><rect x="93.8" y="794.99" width="129.5" height="4.08" fill="url(#E60)"/><rect x="96.9" y="797.97" width="123.5" height="4.08" fill="url(#E61)"/><rect x="101.4" y="800.95" width="114.4" height="4.08" fill="url(#E62)"/><rect x="107.4" y="803.93" width="102.4" height="4.08" fill="url(#E63)"/><rect x="113.4" y="806.91" width="90.4" height="4.08" fill="url(#E64)"/><rect x="121.0" y="809.89" width="75.3" height="4.08" fill="url(#E65)"/><rect x="131.5" y="812.87" width="54.2" height="4.08" fill="url(#E66)"/></g>
<g fill="none" stroke="#111" stroke-width="1.1" stroke-linejoin="round"><path d="M58.2 697.1C57.8 696.5 56.5 694.3 55.7 693.6C54.9 692.9 54.1 692.7 53.3 692.7C52.5 692.7 51.5 693.0 50.8 693.6C50.1 694.2 49.4 694.9 49.0 696.1C48.6 697.3 48.6 698.5 48.6 701.0C48.6 703.5 49.0 707.9 49.1 710.9C49.2 713.9 49.2 716.0 49.0 718.8C48.8 721.6 48.3 725.1 48.1 727.7C47.9 730.3 47.7 732.6 47.8 734.6C47.9 736.6 48.2 738.2 48.8 739.6C49.4 741.0 50.4 742.3 51.3 743.0C52.2 743.7 53.3 744.0 54.3 744.0C55.3 744.0 56.3 743.6 57.2 743.0C58.1 742.4 59.2 741.0 59.6 740.6"/><path d="M259.0 697.1C259.4 696.5 260.7 694.3 261.5 693.6C262.3 692.9 263.1 692.7 263.9 692.7C264.7 692.7 265.7 693.0 266.4 693.6C267.1 694.2 267.8 694.9 268.2 696.1C268.6 697.3 268.6 698.5 268.6 701.0C268.6 703.5 268.2 707.9 268.1 710.9C268.0 713.9 268.0 716.0 268.2 718.8C268.4 721.6 268.9 725.1 269.1 727.7C269.3 730.3 269.5 732.6 269.4 734.6C269.3 736.6 269.0 738.2 268.4 739.6C267.8 741.0 266.8 742.3 265.9 743.0C265.0 743.7 263.9 744.0 262.9 744.0C261.9 744.0 260.9 743.6 260.0 743.0C259.1 742.4 258.0 741.0 257.6 740.6"/><path d="M141.0 617.8L153.6 604.4C155.4 602.4 156.8 602.4 158.6 602.4C160.4 602.4 161.8 602.4 163.6 604.4L176.2 617.8"/></g>
<ellipse cx="158.6" cy="716.0" rx="101.65" ry="99.10" fill="none" stroke="#0a0a14" stroke-width="1.5"/>
<g class="el" font-size="6.7" fill="#05051a" fill-opacity=".9"><circle cx="131.8" cy="635.7" r="0.95"/><text x="133.9" y="638.0">Fp1</text><circle cx="185.4" cy="635.7" r="0.95"/><text x="187.5" y="638.0">Fp2</text><circle cx="88.5" cy="666.4" r="0.95"/><text x="90.6" y="668.7">F7</text><circle cx="228.7" cy="666.4" r="0.95"/><text x="230.8" y="668.7">F8</text><circle cx="72.0" cy="716.0" r="0.95"/><text x="74.1" y="718.3">T7</text><circle cx="245.2" cy="716.0" r="0.95"/><text x="247.3" y="718.3">T8</text><circle cx="88.5" cy="765.6" r="0.95"/><text x="90.6" y="767.9">P7</text><circle cx="228.7" cy="765.6" r="0.95"/><text x="230.8" y="767.9">P8</text><circle cx="131.8" cy="796.3" r="0.95"/><text x="133.9" y="798.6">O1</text><circle cx="185.4" cy="796.3" r="0.95"/><text x="187.5" y="798.6">O2</text><circle cx="123.3" cy="673.5" r="0.95"/><text x="125.4" y="675.8">F3</text><circle cx="193.9" cy="673.5" r="0.95"/><text x="196.0" y="675.8">F4</text><circle cx="158.6" cy="673.7" r="0.95"/><text x="160.7" y="676.0">Fz</text><circle cx="158.6" cy="716.0" r="0.95"/><text x="160.7" y="718.3">Cz</text><circle cx="158.6" cy="758.3" r="0.95"/><text x="160.7" y="760.6">Pz</text><circle cx="115.3" cy="716.0" r="0.95"/><text x="117.4" y="718.3">C3</text><circle cx="201.9" cy="716.0" r="0.95"/><text x="204.0" y="718.3">C4</text><circle cx="123.3" cy="758.5" r="0.95"/><text x="125.4" y="760.8">P3</text><circle cx="193.9" cy="758.5" r="0.95"/><text x="196.0" y="760.8">P4</text></g>
<!-- head F -->
<defs><linearGradient id="F0"><stop offset="0" stop-color="#0000cb"/><stop offset=".25" stop-color="#0000cc"/><stop offset=".583" stop-color="#0000bd"/><stop offset="1" stop-color="#0000ba"/></linearGradient><linearGradient id="F1"><stop offset="0" stop-color="#0000c0"/><stop offset=".18" stop-color="#0000d7"/><stop offset=".34" stop-color="#0000d7"/><stop offset="1" stop-color="#0000b3"/></linearGradient><linearGradient id="F2"><stop offset="0" stop-color="#0000bf"/><stop offset=".1" stop-color="#0000cb"/><stop offset=".233" stop-color="#0000e5"/><stop offset=".367" stop-color="#0000e7"/><stop offset=".733" stop-color="#0000c7"/><stop offset=".95" stop-color="#0000af"/><stop offset="1" stop-color="#0000af"/></linearGradient><linearGradient id="F3"><stop offset="0" stop-color="#0000c2"/><stop offset=".103" stop-color="#0000cc"/><stop offset=".265" stop-color="#0000f6"/><stop offset=".382" stop-color="#0000fa"/><stop offset=".588" stop-color="#0000e7"/><stop offset=".882" stop-color="#0000af"/><stop offset="1" stop-color="#0000ac"/></linearGradient><linearGradient id="F4"><stop offset="0" stop-color="#0000c5"/><stop offset=".105" stop-color="#0000ce"/><stop offset=".197" stop-color="#0000ec"/><stop offset=".25" stop-color="#0000ff"/><stop offset=".329" stop-color="#000fff"/><stop offset=".461" stop-color="#000eff"/><stop offset=".566" stop-color="#0000fe"/><stop offset=".724" stop-color="#0000d1"/><stop offset=".855" stop-color="#0000ad"/><stop offset=".947" stop-color="#0000a7"/><stop offset="1" stop-color="#0000ab"/></linearGradient><linearGradient id="F5"><stop offset="0" stop-color="#0000c7"/><stop offset=".098" stop-color="#0000d0"/><stop offset=".195" stop-color="#0000f0"/><stop offset=".232" stop-color="#0003ff"/><stop offset=".293" stop-color="#001cff"/><stop offset=".39" stop-color="#0028ff"/><stop offset=".512" stop-color="#0022ff"/><stop offset=".61" stop-color="#0007ff"/><stop offset=".646" stop-color="#0000f8"/><stop offset=".805" stop-color="#0000b5"/><stop offset=".89" stop-color="#0000a4"/><stop offset=".988" stop-color="#0000a9"/><stop offset="1" stop-color="#0000ab"/></linearGradient><linearGradient id="F6"><stop offset="0" stop-color="#0000c7"/><stop offset=".093" stop-color="#0000d3"/><stop offset=".186" stop-color="#0000f4"/><stop offset=".209" stop-color="#0001ff"/><stop offset=".302" stop-color="#0030ff"/><stop offset=".419" stop-color="#0042ff"/><stop offset=".5" stop-color="#0040ff"/><stop offset=".57" stop-color="#002eff"/><stop offset=".663" stop-color="#0000fe"/><stop offset=".779" stop-color="#0000be"/><stop offset=".849" stop-color="#0000a7"/><stop offset=".93" stop-color="#0000a1"/><stop offset="1" stop-color="#0000aa"/></linearGradient><linearGradient id="F7"><stop offset="0" stop-color="#0000c7"/><stop offset=".087" stop-color="#0000d2"/><stop offset=".174" stop-color="#0000f1"/><stop offset=".207" stop-color="#0003ff"/><stop offset=".315" stop-color="#0041ff"/><stop offset=".435" stop-color="#005eff"/><stop offset=".5" stop-color="#005fff"/><stop offset=".554" stop-color="#004fff"/><stop offset=".63" stop-color="#0022ff"/><stop offset=".674" stop-color="#0001ff"/><stop offset=".772" stop-color="#0000be"/><stop offset=".837" stop-color="#0000a5"/><stop offset=".902" stop-color="#00009f"/><stop offset="1" stop-color="#0000ad"/></linearGradient><linearGradient id="F8"><stop offset="0" stop-color="#0000c7"/><stop offset=".073" stop-color="#0000d0"/><stop offset=".156" stop-color="#0000ee"/><stop offset=".187" stop-color="#0000fe"/><stop offset=".323" stop-color="#0050ff"/><stop offset=".437" stop-color="#007bff"/><stop offset=".5" stop-color="#0081ff"/><stop offset=".552" stop-color="#006fff"/><stop offset=".615" stop-color="#0042ff"/><stop offset=".687" stop-color="#0000fd"/><stop offset=".76" stop-color="#0000c3"/><stop offset=".823" stop-color="#0000a6"/><stop offset=".896" stop-color="#00009f"/><stop offset="1" stop-color="#0000af"/></linearGradient><linearGradient id="F9"><stop offset="0" stop-color="#0000c7"/><stop offset=".07" stop-color="#0000cf"/><stop offset=".16" stop-color="#0000f4"/><stop offset=".18" stop-color="#0000ff"/><stop offset=".38" stop-color="#007aff"/><stop offset=".47" stop-color="#00a4ff"/><stop offset=".51" stop-color="#00a4ff"/><stop offset=".55" stop-color="#0091ff"/><stop offset=".61" stop-color="#005bff"/><stop offset=".69" stop-color="#0001ff"/><stop offset=".75" stop-color="#0000c7"/><stop offset=".81" stop-color="#0000a7"/><stop offset=".87" stop-color="#00009f"/><stop offset=".97" stop-color="#0000ac"/><stop offset="1" stop-color="#0000b4"/></linearGradient><linearGradient id="F10"><stop offset="0" stop-color="#0000c8"/><stop offset=".067" stop-color="#0000ce"/><stop offset=".144" stop-color="#0000ee"/><stop offset=".173" stop-color="#0000ff"/><stop offset=".394" stop-color="#0095ff"/><stop offset=".462" stop-color="#00c5ff"/><stop offset=".5" stop-color="#00cdff"/><stop offset=".538" stop-color="#00bdff"/><stop offset=".577" stop-color="#009aff"/><stop offset=".654" stop-color="#0034ff"/><stop offset=".692" stop-color="#0001ff"/><stop offset=".74" stop-color="#0000cc"/><stop offset=".788" stop-color="#0000ac"/><stop offset=".846" stop-color="#0000a0"/><stop offset=".942" stop-color="#0000ac"/><stop offset="1" stop-color="#0000bc"/></linearGradient><linearGradient id="F11"><stop offset="0" stop-color="#0000ca"/><stop offset=".065" stop-color="#0000cd"/><stop offset=".13" stop-color="#0000e8"/><stop offset=".167" stop-color="#0000fe"/><stop offset=".361" stop-color="#0089ff"/><stop offset=".463" stop-color="#00ecff"/><stop offset=".491" stop-color="#00f8ff"/><stop offset=".519" stop-color="#00f3ff"/><stop offset=".556" stop-color="#00d3ff"/><stop offset=".602" stop-color="#0092ff"/><stop offset=".685" stop-color="#000bff"/><stop offset=".694" stop-color="#0000fd"/><stop offset=".731" stop-color="#0000cf"/><stop offset=".778" stop-color="#0000ad"/><stop offset=".833" stop-color="#0000a1"/><stop offset=".944" stop-color="#0000b5"/><stop offset="1" stop-color="#0000c3"/></linearGradient><linearGradient id="F12"><stop offset="0" stop-color="#0000cc"/><stop offset=".063" stop-color="#0000cd"/><stop offset=".116" stop-color="#0000e0"/><stop offset=".17" stop-color="#0003ff"/><stop offset=".357" stop-color="#0090ff"/><stop offset=".411" stop-color="#00d0ff"/><stop offset=".446" stop-color="#03fffc"/><stop offset=".473" stop-color="#20ffdf"/><stop offset=".5" stop-color="#28ffd7"/><stop offset=".527" stop-color="#1affe5"/><stop offset=".545" stop-color="#07fff8"/><stop offset=".554" stop-color="#00f9ff"/><stop offset=".598" stop-color="#00afff"/><stop offset=".679" stop-color="#0014ff"/><stop offset=".688" stop-color="#0005ff"/><stop offset=".705" stop-color="#0000e9"/><stop offset=".741" stop-color="#0000c0"/><stop offset=".777" stop-color="#0000a9"/><stop offset=".83" stop-color="#0000a3"/><stop offset="1" stop-color="#0000c9"/></linearGradient><linearGradient id="F13"><stop offset="0" stop-color="#0000cd"/><stop offset=".053" stop-color="#0000cc"/><stop offset=".105" stop-color="#0000dd"/><stop offset=".158" stop-color="#0000fe"/><stop offset=".298" stop-color="#006eff"/><stop offset=".36" stop-color="#009fff"/><stop offset=".395" stop-color="#00ceff"/><stop offset=".421" stop-color="#00fdff"/><stop offset=".465" stop-color="#48ffb7"/><stop offset=".482" stop-color="#56ffa9"/><stop offset=".509" stop-color="#56ffa9"/><stop offset=".535" stop-color="#3effc1"/><stop offset=".57" stop-color="#03fffc"/><stop offset=".605" stop-color="#00b8ff"/><stop offset=".667" stop-color="#002eff"/><stop offset=".684" stop-color="#000bff"/><stop offset=".693" stop-color="#0000fa"/><stop offset=".719" stop-color="#0000d3"/><stop offset=".754" stop-color="#0000b1"/><stop offset=".789" stop-color="#0000a4"/><stop offset=".842" stop-color="#0000a9"/><stop offset=".939" stop-color="#0000c4"/><stop offset="1" stop-color="#0000cb"/></linearGradient><linearGradient id="F14"><stop offset="0" stop-color="#0000cf"/><stop offset=".059" stop-color="#0000cd"/><stop offset=".11" stop-color="#0000de"/><stop offset=".161" stop-color="#0000ff"/><stop offset=".288" stop-color="#0070ff"/><stop offset=".356" stop-color="#00a4ff"/><stop offset=".381" stop-color="#00c4ff"/><stop offset=".407" stop-color="#00f7ff"/><stop offset=".415" stop-color="#0cfff3"/><stop offset=".449" stop-color="#5bffa4"/><stop offset=".475" stop-color="#82ff7d"/><stop offset=".5" stop-color="#89ff76"/><stop offset=".517" stop-color="#7fff80"/><stop offset=".542" stop-color="#5bffa4"/><stop offset=".585" stop-color="#00fcff"/><stop offset=".661" stop-color="#0036ff"/><stop offset=".686" stop-color="#0000fd"/><stop offset=".712" stop-color="#0000d2"/><stop offset=".746" stop-color="#0000af"/><stop offset=".78" stop-color="#0000a3"/><stop offset=".831" stop-color="#0000ac"/><stop offset=".907" stop-color="#0000c8"/><stop offset="1" stop-color="#0000cc"/></linearGradient><linearGradient id="F15"><stop offset="0" stop-color="#0000cf"/><stop offset=".067" stop-color="#0000cf"/><stop offset=".125" stop-color="#0000e7"/><stop offset=".158" stop-color="#0001ff"/><stop offset=".292" stop-color="#007fff"/><stop offset=".358" stop-color="#00b2ff"/><stop offset=".383" stop-color="#00d4ff"/><stop offset=".4" stop-color="#00f8ff"/><stop offset=".408" stop-color="#11ffee"/><stop offset=".442" stop-color="#73ff8c"/><stop offset=".458" stop-color="#96ff69"/><stop offset=".475" stop-color="#adff52"/><stop offset=".492" stop-color="#b5ff4a"/><stop offset=".508" stop-color="#b0ff4f"/><stop offset=".525" stop-color="#9fff60"/><stop offset=".55" stop-color="#6fff90"/><stop offset=".592" stop-color="#01fffe"/><stop offset=".658" stop-color="#003cff"/><stop offset=".683" stop-color="#0000fe"/><stop offset=".708" stop-color="#0000d0"/><stop offset=".733" stop-color="#0000b3"/><stop offset=".758" stop-color="#0000a5"/><stop offset=".8" stop-color="#0000a5"/><stop offset=".892" stop-color="#0000cc"/><stop offset="1" stop-color="#0000cb"/></linearGradient><linearGradient id="F16"><stop offset="0" stop-color="#0000cf"/><stop offset=".066" stop-color="#0000d0"/><stop offset=".115" stop-color="#0000e2"/><stop offset=".156" stop-color="#0000ff"/><stop offset=".23" stop-color="#004aff"/><stop offset=".295" stop-color="#008dff"/><stop offset=".352" stop-color="#00b7ff"/><stop offset=".377" stop-color="#00d7ff"/><stop offset=".393" stop-color="#00f9ff"/><stop offset=".402" stop-color="#11ffee"/><stop offset=".434" stop-color="#81ff7e"/><stop offset=".451" stop-color="#abff54"/><stop offset=".467" stop-color="#c9ff36"/><stop offset=".484" stop-color="#d9ff26"/><stop offset=".5" stop-color="#dbff24"/><stop offset=".516" stop-color="#cfff30"/><stop offset=".533" stop-color="#b5ff4a"/><stop offset=".557" stop-color="#7aff85"/><stop offset=".598" stop-color="#00fcff"/><stop offset=".656" stop-color="#0041ff"/><stop offset=".672" stop-color="#0012ff"/><stop offset=".68" stop-color="#0000fd"/><stop offset=".705" stop-color="#0000cc"/><stop offset=".73" stop-color="#0000af"/><stop offset=".754" stop-color="#0000a2"/><stop offset=".795" stop-color="#0000a5"/><stop offset=".885" stop-color="#0000d1"/><stop offset="1" stop-color="#0000c9"/></linearGradient><linearGradient id="F17"><stop offset="0" stop-color="#0000d0"/><stop offset=".056" stop-color="#0000cf"/><stop offset=".113" stop-color="#0000e1"/><stop offset=".153" stop-color="#0000fd"/><stop offset=".202" stop-color="#002dff"/><stop offset=".298" stop-color="#009aff"/><stop offset=".355" stop-color="#00c1ff"/><stop offset=".371" stop-color="#00d6ff"/><stop offset=".387" stop-color="#00f7ff"/><stop offset=".395" stop-color="#0efff1"/><stop offset=".435" stop-color="#9bff64"/><stop offset=".452" stop-color="#c8ff37"/><stop offset=".476" stop-color="#f2ff0d"/><stop offset=".492" stop-color="#fcff03"/><stop offset=".508" stop-color="#f7ff08"/><stop offset=".524" stop-color="#e3ff1c"/><stop offset=".548" stop-color="#aaff55"/><stop offset=".581" stop-color="#45ffba"/><stop offset=".597" stop-color="#0efff1"/><stop offset=".605" stop-color="#00f0ff"/><stop offset=".653" stop-color="#0045ff"/><stop offset=".669" stop-color="#0012ff"/><stop offset=".677" stop-color="#0000fb"/><stop offset=".702" stop-color="#0000c7"/><stop offset=".726" stop-color="#0000ac"/><stop offset=".758" stop-color="#00009f"/><stop offset=".798" stop-color="#0000a8"/><stop offset=".871" stop-color="#0000cf"/><stop offset=".911" stop-color="#0000d1"/><stop offset="1" stop-color="#0000c6"/></linearGradient><linearGradient id="F18"><stop offset="0" stop-color="#0000d0"/><stop offset=".063" stop-color="#0000d1"/><stop offset=".119" stop-color="#0000e5"/><stop offset=".159" stop-color="#0002ff"/><stop offset=".222" stop-color="#0044ff"/><stop offset=".302" stop-color="#00a4ff"/><stop offset=".333" stop-color="#00b9ff"/><stop offset=".357" stop-color="#00c8ff"/><stop offset=".373" stop-color="#00ddff"/><stop offset=".389" stop-color="#02fffd"/><stop offset=".405" stop-color="#36ffc9"/><stop offset=".437" stop-color="#adff52"/><stop offset=".452" stop-color="#dbff24"/><stop offset=".468" stop-color="#fcff03"/><stop offset=".492" stop-color="#ffeb00"/><stop offset=".508" stop-color="#ffef00"/><stop offset=".524" stop-color="#f9ff06"/><stop offset=".548" stop-color="#bdff42"/><stop offset=".603" stop-color="#00fcff"/><stop offset=".659" stop-color="#002cff"/><stop offset=".667" stop-color="#0012ff"/><stop offset=".675" stop-color="#0000f9"/><stop offset=".69" stop-color="#0000d2"/><stop offset=".714" stop-color="#0000b0"/><stop offset=".738" stop-color="#0000a2"/><stop offset=".778" stop-color="#0000a2"/><stop offset=".833" stop-color="#0000bd"/><stop offset=".881" stop-color="#0000d0"/><stop offset="1" stop-color="#0000c2"/></linearGradient><linearGradient id="F19"><stop offset="0" stop-color="#0000d1"/><stop offset=".062" stop-color="#0000d1"/><stop offset=".117" stop-color="#0000e4"/><stop offset=".156" stop-color="#0000fe"/><stop offset=".211" stop-color="#0034ff"/><stop offset=".312" stop-color="#00afff"/><stop offset=".359" stop-color="#00c9ff"/><stop offset=".375" stop-color="#00ddff"/><stop offset=".391" stop-color="#02fffd"/><stop offset=".406" stop-color="#3bffc4"/><stop offset=".43" stop-color="#9bff64"/><stop offset=".445" stop-color="#cfff30"/><stop offset=".461" stop-color="#f7ff08"/><stop offset=".469" stop-color="#fff800"/><stop offset=".484" stop-color="#ffe500"/><stop offset=".5" stop-color="#ffe000"/><stop offset=".516" stop-color="#ffee00"/><stop offset=".523" stop-color="#fffb00"/><stop offset=".531" stop-color="#f2ff0d"/><stop offset=".555" stop-color="#acff53"/><stop offset=".602" stop-color="#05fffa"/><stop offset=".617" stop-color="#00c8ff"/><stop offset=".656" stop-color="#0030ff"/><stop offset=".672" stop-color="#0000fb"/><stop offset=".687" stop-color="#0000d3"/><stop offset=".703" stop-color="#0000bb"/><stop offset=".727" stop-color="#0000a6"/><stop offset=".766" stop-color="#0000a0"/><stop offset=".82" stop-color="#0000b7"/><stop offset=".875" stop-color="#0000cc"/><stop offset=".937" stop-color="#0000c7"/><stop offset="1" stop-color="#0000bf"/></linearGradient><linearGradient id="F20"><stop offset="0" stop-color="#0000d1"/><stop offset=".062" stop-color="#0000d1"/><stop offset=".123" stop-color="#0000e6"/><stop offset=".162" stop-color="#0001ff"/><stop offset=".215" stop-color="#0035ff"/><stop offset=".315" stop-color="#00a9ff"/><stop offset=".362" stop-color="#00c7ff"/><stop offset=".377" stop-color="#00dbff"/><stop offset=".392" stop-color="#00feff"/><stop offset=".408" stop-color="#39ffc6"/><stop offset=".431" stop-color="#99ff66"/><stop offset=".446" stop-color="#ccff33"/><stop offset=".462" stop-color="#f3ff0c"/><stop offset=".469" stop-color="#fffd00"/><stop offset=".485" stop-color="#ffea00"/><stop offset=".5" stop-color="#ffe600"/><stop offset=".515" stop-color="#fff300"/><stop offset=".523" stop-color="#feff01"/><stop offset=".538" stop-color="#daff25"/><stop offset=".569" stop-color="#75ff8a"/><stop offset=".6" stop-color="#08fff7"/><stop offset=".608" stop-color="#00e9ff"/><stop offset=".654" stop-color="#0036ff"/><stop offset=".669" stop-color="#0004ff"/><stop offset=".692" stop-color="#0000cd"/><stop offset=".715" stop-color="#0000b0"/><stop offset=".746" stop-color="#0000a2"/><stop offset=".785" stop-color="#0000a8"/><stop offset=".862" stop-color="#0000c6"/><stop offset=".923" stop-color="#0000c6"/><stop offset="1" stop-color="#0000bd"/></linearGradient><linearGradient id="F21"><stop offset="0" stop-color="#0000d2"/><stop offset=".068" stop-color="#0000d3"/><stop offset=".121" stop-color="#0000e4"/><stop offset=".167" stop-color="#0002ff"/><stop offset=".227" stop-color="#003cff"/><stop offset=".311" stop-color="#0098ff"/><stop offset=".364" stop-color="#00c3ff"/><stop offset=".379" stop-color="#00daff"/><stop offset=".394" stop-color="#00feff"/><stop offset=".409" stop-color="#34ffcb"/><stop offset=".439" stop-color="#a8ff57"/><stop offset=".455" stop-color="#d3ff2c"/><stop offset=".47" stop-color="#f2ff0d"/><stop offset=".477" stop-color="#fcff03"/><stop offset=".5" stop-color="#fff900"/><stop offset=".515" stop-color="#faff05"/><stop offset=".53" stop-color="#dfff20"/><stop offset=".553" stop-color="#a0ff5f"/><stop offset=".598" stop-color="#03fffc"/><stop offset=".621" stop-color="#00acff"/><stop offset=".652" stop-color="#003dff"/><stop offset=".667" stop-color="#000eff"/><stop offset=".674" stop-color="#0000f8"/><stop offset=".697" stop-color="#0000cb"/><stop offset=".72" stop-color="#0000b2"/><stop offset=".75" stop-color="#0000a5"/><stop offset=".803" stop-color="#0000b0"/><stop offset=".871" stop-color="#0000c5"/><stop offset=".962" stop-color="#0000be"/><stop offset="1" stop-color="#0000bd"/></linearGradient><linearGradient id="F22"><stop offset="0" stop-color="#0000d2"/><stop offset=".068" stop-color="#0000d4"/><stop offset=".129" stop-color="#0000e9"/><stop offset=".167" stop-color="#0002ff"/><stop offset=".242" stop-color="#0047ff"/><stop offset=".318" stop-color="#0093ff"/><stop offset=".364" stop-color="#00bdff"/><stop offset=".379" stop-color="#00d5ff"/><stop offset=".394" stop-color="#00f9ff"/><stop offset=".402" stop-color="#11ffee"/><stop offset=".439" stop-color="#95ff6a"/><stop offset=".455" stop-color="#beff41"/><stop offset=".47" stop-color="#daff25"/><stop offset=".485" stop-color="#e9ff16"/><stop offset=".5" stop-color="#ebff14"/><stop offset=".515" stop-color="#e0ff1f"/><stop offset=".53" stop-color="#c7ff38"/><stop offset=".553" stop-color="#8eff71"/><stop offset=".591" stop-color="#15ffea"/><stop offset=".598" stop-color="#00f9ff"/><stop offset=".652" stop-color="#0042ff"/><stop offset=".674" stop-color="#0003ff"/><stop offset=".705" stop-color="#0000ca"/><stop offset=".727" stop-color="#0000b4"/><stop offset=".758" stop-color="#0000a9"/><stop offset=".811" stop-color="#0000b2"/><stop offset=".879" stop-color="#0000c3"/><stop offset="1" stop-color="#0000bd"/></linearGradient><linearGradient id="F23"><stop offset="0" stop-color="#0000d3"/><stop offset=".075" stop-color="#0000d5"/><stop offset=".142" stop-color="#0000ed"/><stop offset=".172" stop-color="#0001ff"/><stop offset=".239" stop-color="#0039ff"/><stop offset=".358" stop-color="#00aaff"/><stop offset=".381" stop-color="#00ccff"/><stop offset=".403" stop-color="#02fffd"/><stop offset=".44" stop-color="#7cff83"/><stop offset=".463" stop-color="#b0ff4f"/><stop offset=".478" stop-color="#c4ff3b"/><stop offset=".493" stop-color="#ccff33"/><stop offset=".507" stop-color="#c7ff38"/><stop offset=".522" stop-color="#b7ff48"/><stop offset=".545" stop-color="#89ff76"/><stop offset=".575" stop-color="#35ffca"/><stop offset=".59" stop-color="#06fff9"/><stop offset=".597" stop-color="#00edff"/><stop offset=".649" stop-color="#0045ff"/><stop offset=".672" stop-color="#000aff"/><stop offset=".679" stop-color="#0000f9"/><stop offset=".701" stop-color="#0000d2"/><stop offset=".724" stop-color="#0000bb"/><stop offset=".761" stop-color="#0000ac"/><stop offset=".828" stop-color="#0000b8"/><stop offset=".903" stop-color="#0000c2"/><stop offset="1" stop-color="#0000be"/></linearGradient><linearGradient id="F24"><stop offset="0" stop-color="#0000d4"/><stop offset=".074" stop-color="#0000d5"/><stop offset=".147" stop-color="#0000ed"/><stop offset=".176" stop-color="#0000fe"/><stop offset=".235" stop-color="#002cff"/><stop offset=".353" stop-color="#0097ff"/><stop offset=".382" stop-color="#00c0ff"/><stop offset=".404" stop-color="#00efff"/><stop offset=".412" stop-color="#04fffb"/><stop offset=".449" stop-color="#6fff90"/><stop offset=".463" stop-color="#8dff72"/><stop offset=".478" stop-color="#a1ff5e"/><stop offset=".5" stop-color="#a7ff58"/><stop offset=".522" stop-color="#95ff6a"/><stop offset=".544" stop-color="#6cff93"/><stop offset=".581" stop-color="#0bfff4"/><stop offset=".588" stop-color="#00f4ff"/><stop offset=".647" stop-color="#0046ff"/><stop offset=".676" stop-color="#0000ff"/><stop offset=".706" stop-color="#0000d0"/><stop offset=".735" stop-color="#0000b7"/><stop offset=".779" stop-color="#0000af"/><stop offset=".897" stop-color="#0000c1"/><stop offset="1" stop-color="#0000c0"/></linearGradient><linearGradient id="F25"><stop offset="0" stop-color="#0000d4"/><stop offset=".074" stop-color="#0000d6"/><stop offset=".147" stop-color="#0000ec"/><stop offset=".184" stop-color="#0000ff"/><stop offset=".272" stop-color="#0042ff"/><stop offset=".353" stop-color="#008aff"/><stop offset=".39" stop-color="#00bfff"/><stop offset=".419" stop-color="#02fffd"/><stop offset=".449" stop-color="#4cffb3"/><stop offset=".471" stop-color="#73ff8c"/><stop offset=".493" stop-color="#81ff7e"/><stop offset=".507" stop-color="#7eff81"/><stop offset=".529" stop-color="#66ff99"/><stop offset=".551" stop-color="#3dffc2"/><stop offset=".574" stop-color="#09fff6"/><stop offset=".581" stop-color="#00f5ff"/><stop offset=".647" stop-color="#0044ff"/><stop offset=".676" stop-color="#0004ff"/><stop offset=".699" stop-color="#0000df"/><stop offset=".728" stop-color="#0000c1"/><stop offset=".765" stop-color="#0000b2"/><stop offset=".838" stop-color="#0000ba"/><stop offset=".919" stop-color="#0000c2"/><stop offset="1" stop-color="#0000c2"/></linearGradient><linearGradient id="F26"><stop offset="0" stop-color="#0000d4"/><stop offset=".088" stop-color="#0000da"/><stop offset=".169" stop-color="#0000f4"/><stop offset=".199" stop-color="#0005ff"/><stop offset=".294" stop-color="#0047ff"/><stop offset=".353" stop-color="#007dff"/><stop offset=".39" stop-color="#00b1ff"/><stop offset=".426" stop-color="#00faff"/><stop offset=".441" stop-color="#1bffe4"/><stop offset=".471" stop-color="#4bffb4"/><stop offset=".493" stop-color="#58ffa7"/><stop offset=".515" stop-color="#51ffae"/><stop offset=".537" stop-color="#37ffc8"/><stop offset=".566" stop-color="#01fffe"/><stop offset=".632" stop-color="#0064ff"/><stop offset=".669" stop-color="#0014ff"/><stop offset=".676" stop-color="#0006ff"/><stop offset=".684" stop-color="#0000f9"/><stop offset=".713" stop-color="#0000d2"/><stop offset=".75" stop-color="#0000ba"/><stop offset=".794" stop-color="#0000b4"/><stop offset=".919" stop-color="#0000c4"/><stop offset="1" stop-color="#0000c4"/></linearGradient><linearGradient id="F27"><stop offset="0" stop-color="#0000d4"/><stop offset=".096" stop-color="#0000dc"/><stop offset=".176" stop-color="#0000f4"/><stop offset=".206" stop-color="#0003ff"/><stop offset=".287" stop-color="#0036ff"/><stop offset=".346" stop-color="#0068ff"/><stop offset=".39" stop-color="#00a1ff"/><stop offset=".441" stop-color="#00fbff"/><stop offset=".471" stop-color="#24ffdb"/><stop offset=".493" stop-color="#30ffcf"/><stop offset=".515" stop-color="#2bffd4"/><stop offset=".544" stop-color="#0bfff4"/><stop offset=".551" stop-color="#00ffff"/><stop offset=".596" stop-color="#00acff"/><stop offset=".654" stop-color="#002fff"/><stop offset=".676" stop-color="#0007ff"/><stop offset=".684" stop-color="#0000fb"/><stop offset=".713" stop-color="#0000d6"/><stop offset=".75" stop-color="#0000bd"/><stop offset=".794" stop-color="#0000b7"/><stop offset=".934" stop-color="#0000c7"/><stop offset="1" stop-color="#0000c7"/></linearGradient><linearGradient id="F28"><stop offset="0" stop-color="#0000d4"/><stop offset=".118" stop-color="#0000e0"/><stop offset=".206" stop-color="#0000fc"/><stop offset=".235" stop-color="#000bff"/><stop offset=".309" stop-color="#003aff"/><stop offset=".36" stop-color="#006bff"/><stop offset=".412" stop-color="#00b2ff"/><stop offset=".456" stop-color="#00f2ff"/><stop offset=".471" stop-color="#01fffe"/><stop offset=".493" stop-color="#0bfff4"/><stop offset=".515" stop-color="#08fff7"/><stop offset=".529" stop-color="#00fcff"/><stop offset=".559" stop-color="#00d9ff"/><stop offset=".596" stop-color="#009bff"/><stop offset=".662" stop-color="#001eff"/><stop offset=".684" stop-color="#0000fb"/><stop offset=".713" stop-color="#0000d8"/><stop offset=".75" stop-color="#0000c0"/><stop offset=".801" stop-color="#0000b9"/><stop offset=".934" stop-color="#0000ca"/><stop offset="1" stop-color="#0000c9"/></linearGradient><linearGradient id="F29"><stop offset="0" stop-color="#0000d4"/><stop offset=".147" stop-color="#0000e5"/><stop offset=".235" stop-color="#0002ff"/><stop offset=".301" stop-color="#0028ff"/><stop offset=".353" stop-color="#0056ff"/><stop offset=".426" stop-color="#00b2ff"/><stop offset=".463" stop-color="#00dcff"/><stop offset=".485" stop-color="#00e8ff"/><stop offset=".515" stop-color="#00e8ff"/><stop offset=".551" stop-color="#00caff"/><stop offset=".588" stop-color="#0097ff"/><stop offset=".676" stop-color="#0005ff"/><stop offset=".691" stop-color="#0000f1"/><stop offset=".721" stop-color="#0000d3"/><stop offset=".757" stop-color="#0000c0"/><stop offset=".809" stop-color="#0000bc"/><stop offset=".941" stop-color="#0000ce"/><stop offset="1" stop-color="#0000cc"/></linearGradient><linearGradient id="F30"><stop offset="0" stop-color="#0000d4"/><stop offset=".176" stop-color="#0000e8"/><stop offset=".257" stop-color="#0003ff"/><stop offset=".316" stop-color="#0027ff"/><stop offset=".375" stop-color="#0060ff"/><stop offset=".449" stop-color="#00b5ff"/><stop offset=".485" stop-color="#00cdff"/><stop offset=".515" stop-color="#00cdff"/><stop offset=".551" stop-color="#00b4ff"/><stop offset=".596" stop-color="#007dff"/><stop offset=".676" stop-color="#0003ff"/><stop offset=".728" stop-color="#0000cf"/><stop offset=".765" stop-color="#0000c0"/><stop offset=".824" stop-color="#0000c1"/><stop offset=".941" stop-color="#0000d2"/><stop offset="1" stop-color="#0000ce"/></linearGradient><linearGradient id="F31"><stop offset="0" stop-color="#0000d4"/><stop offset=".199" stop-color="#0000e8"/><stop offset=".272" stop-color="#0000ff"/><stop offset=".324" stop-color="#0022ff"/><stop offset=".397" stop-color="#006aff"/><stop offset=".456" stop-color="#00a5ff"/><stop offset=".493" stop-color="#00b6ff"/><stop offset=".522" stop-color="#00b3ff"/><stop offset=".559" stop-color="#009aff"/><stop offset=".603" stop-color="#0066ff"/><stop offset=".676" stop-color="#0000ff"/><stop offset=".721" stop-color="#0000d5"/><stop offset=".765" stop-color="#0000c2"/><stop offset=".831" stop-color="#0000c4"/><stop offset=".926" stop-color="#0000d5"/><stop offset="1" stop-color="#0000d0"/></linearGradient><linearGradient id="F32"><stop offset="0" stop-color="#0000d3"/><stop offset=".221" stop-color="#0000e7"/><stop offset=".294" stop-color="#0002ff"/><stop offset=".36" stop-color="#0037ff"/><stop offset=".456" stop-color="#0091ff"/><stop offset=".493" stop-color="#00a1ff"/><stop offset=".529" stop-color="#009cff"/><stop offset=".566" stop-color="#0082ff"/><stop offset=".618" stop-color="#0048ff"/><stop offset=".676" stop-color="#0000fd"/><stop offset=".721" stop-color="#0000d5"/><stop offset=".765" stop-color="#0000c5"/><stop offset=".824" stop-color="#0000c6"/><stop offset=".934" stop-color="#0000d9"/><stop offset="1" stop-color="#0000d2"/></linearGradient><linearGradient id="F33"><stop offset="0" stop-color="#0000d3"/><stop offset=".132" stop-color="#0000dc"/><stop offset=".235" stop-color="#0000e4"/><stop offset=".294" stop-color="#0000f8"/><stop offset=".316" stop-color="#0007ff"/><stop offset=".412" stop-color="#005bff"/><stop offset=".463" stop-color="#0083ff"/><stop offset=".507" stop-color="#008fff"/><stop offset=".551" stop-color="#007fff"/><stop offset=".603" stop-color="#0051ff"/><stop offset=".669" stop-color="#0004ff"/><stop offset=".691" stop-color="#0000ec"/><stop offset=".728" stop-color="#0000d2"/><stop offset=".779" stop-color="#0000c5"/><stop offset=".875" stop-color="#0000d3"/><stop offset=".941" stop-color="#0000db"/><stop offset="1" stop-color="#0000d4"/></linearGradient><linearGradient id="F34"><stop offset="0" stop-color="#0000d2"/><stop offset=".11" stop-color="#0000db"/><stop offset=".221" stop-color="#0000dd"/><stop offset=".279" stop-color="#0000ea"/><stop offset=".316" stop-color="#0000fe"/><stop offset=".456" stop-color="#006eff"/><stop offset=".5" stop-color="#007dff"/><stop offset=".544" stop-color="#0075ff"/><stop offset=".596" stop-color="#004fff"/><stop offset=".669" stop-color="#0002ff"/><stop offset=".721" stop-color="#0000d7"/><stop offset=".772" stop-color="#0000c8"/><stop offset=".846" stop-color="#0000cf"/><stop offset=".934" stop-color="#0000dd"/><stop offset="1" stop-color="#0000d5"/></linearGradient><linearGradient id="F35"><stop offset="0" stop-color="#0000d1"/><stop offset=".103" stop-color="#0000d9"/><stop offset=".235" stop-color="#0000da"/><stop offset=".294" stop-color="#0000ea"/><stop offset=".331" stop-color="#0001ff"/><stop offset=".449" stop-color="#005aff"/><stop offset=".493" stop-color="#006dff"/><stop offset=".537" stop-color="#006aff"/><stop offset=".588" stop-color="#004dff"/><stop offset=".669" stop-color="#0001ff"/><stop offset=".721" stop-color="#0000d9"/><stop offset=".772" stop-color="#0000cb"/><stop offset=".853" stop-color="#0000d3"/><stop offset=".941" stop-color="#0000df"/><stop offset="1" stop-color="#0000d6"/></linearGradient><linearGradient id="F36"><stop offset="0" stop-color="#0000d1"/><stop offset=".11" stop-color="#0000d8"/><stop offset=".235" stop-color="#0000d6"/><stop offset=".301" stop-color="#0000e8"/><stop offset=".338" stop-color="#0000fe"/><stop offset=".456" stop-color="#0051ff"/><stop offset=".5" stop-color="#0060ff"/><stop offset=".551" stop-color="#0059ff"/><stop offset=".603" stop-color="#003aff"/><stop offset=".669" stop-color="#0000ff"/><stop offset=".721" stop-color="#0000db"/><stop offset=".772" stop-color="#0000cd"/><stop offset=".853" stop-color="#0000d5"/><stop offset=".941" stop-color="#0000e0"/><stop offset="1" stop-color="#0000d6"/></linearGradient><linearGradient id="F37"><stop offset="0" stop-color="#0000d0"/><stop offset=".103" stop-color="#0000d6"/><stop offset=".235" stop-color="#0000d3"/><stop offset=".294" stop-color="#0000e0"/><stop offset=".353" stop-color="#0001ff"/><stop offset=".456" stop-color="#0044ff"/><stop offset=".5" stop-color="#0053ff"/><stop offset=".544" stop-color="#0051ff"/><stop offset=".596" stop-color="#0039ff"/><stop offset=".669" stop-color="#0000fe"/><stop offset=".721" stop-color="#0000dd"/><stop offset=".772" stop-color="#0000d0"/><stop offset=".86" stop-color="#0000d9"/><stop offset=".949" stop-color="#0000e0"/><stop offset="1" stop-color="#0000d6"/></linearGradient><linearGradient id="F38"><stop offset="0" stop-color="#0000cf"/><stop offset=".103" stop-color="#0000d5"/><stop offset=".235" stop-color="#0000d0"/><stop offset=".301" stop-color="#0000df"/><stop offset=".368" stop-color="#0003ff"/><stop offset=".463" stop-color="#003cff"/><stop offset=".515" stop-color="#0049ff"/><stop offset=".566" stop-color="#0042ff"/><stop offset=".625" stop-color="#0020ff"/><stop offset=".669" stop-color="#0000fd"/><stop offset=".721" stop-color="#0000de"/><stop offset=".779" stop-color="#0000d2"/><stop offset=".941" stop-color="#0000e1"/><stop offset="1" stop-color="#0000d6"/></linearGradient><linearGradient id="F39"><stop offset="0" stop-color="#0000cd"/><stop offset=".088" stop-color="#0000d4"/><stop offset=".243" stop-color="#0000ce"/><stop offset=".309" stop-color="#0000de"/><stop offset=".375" stop-color="#0001ff"/><stop offset=".471" stop-color="#0035ff"/><stop offset=".522" stop-color="#0040ff"/><stop offset=".574" stop-color="#0038ff"/><stop offset=".625" stop-color="#001dff"/><stop offset=".662" stop-color="#0002ff"/><stop offset=".728" stop-color="#0000dc"/><stop offset=".787" stop-color="#0000d4"/><stop offset=".934" stop-color="#0000e1"/><stop offset="1" stop-color="#0000d5"/></linearGradient><linearGradient id="F40"><stop offset="0" stop-color="#0000cc"/><stop offset=".088" stop-color="#0000d3"/><stop offset=".243" stop-color="#0000cc"/><stop offset=".309" stop-color="#0000da"/><stop offset=".39" stop-color="#0002ff"/><stop offset=".471" stop-color="#002bff"/><stop offset=".529" stop-color="#0038ff"/><stop offset=".588" stop-color="#002dff"/><stop offset=".654" stop-color="#0005ff"/><stop offset=".669" stop-color="#0000fa"/><stop offset=".728" stop-color="#0000dc"/><stop offset=".794" stop-color="#0000d5"/><stop offset=".926" stop-color="#0000e2"/><stop offset="1" stop-color="#0000d4"/></linearGradient><linearGradient id="F41"><stop offset="0" stop-color="#0000ca"/><stop offset=".081" stop-color="#0000d3"/><stop offset=".235" stop-color="#0000ca"/><stop offset=".309" stop-color="#0000d7"/><stop offset=".397" stop-color="#0000ff"/><stop offset=".485" stop-color="#0028ff"/><stop offset=".544" stop-color="#0030ff"/><stop offset=".596" stop-color="#0025ff"/><stop offset=".662" stop-color="#0000fc"/><stop offset=".713" stop-color="#0000e1"/><stop offset=".772" stop-color="#0000d6"/><stop offset=".934" stop-color="#0000e2"/><stop offset="1" stop-color="#0000d3"/></linearGradient><linearGradient id="F42"><stop offset="0" stop-color="#0000c9"/><stop offset=".088" stop-color="#0000d2"/><stop offset=".243" stop-color="#0000c9"/><stop offset=".324" stop-color="#0000d8"/><stop offset=".412" stop-color="#0001ff"/><stop offset=".485" stop-color="#0020ff"/><stop offset=".551" stop-color="#0028ff"/><stop offset=".603" stop-color="#001eff"/><stop offset=".654" stop-color="#0000fd"/><stop offset=".713" stop-color="#0000e0"/><stop offset=".779" stop-color="#0000d7"/><stop offset=".926" stop-color="#0000e2"/><stop offset=".993" stop-color="#0000d4"/><stop offset="1" stop-color="#0000d1"/></linearGradient><linearGradient id="F43"><stop offset="0" stop-color="#0000c9"/><stop offset=".082" stop-color="#0000d1"/><stop offset=".254" stop-color="#0000c9"/><stop offset=".336" stop-color="#0000da"/><stop offset=".425" stop-color="#0002ff"/><stop offset=".5" stop-color="#001cff"/><stop offset=".56" stop-color="#0021ff"/><stop offset=".612" stop-color="#0014ff"/><stop offset=".649" stop-color="#0000fd"/><stop offset=".709" stop-color="#0000e0"/><stop offset=".776" stop-color="#0000d8"/><stop offset=".925" stop-color="#0000e2"/><stop offset=".985" stop-color="#0000d8"/><stop offset="1" stop-color="#0000d2"/></linearGradient><linearGradient id="F44"><stop offset="0" stop-color="#0000c9"/><stop offset=".076" stop-color="#0000d0"/><stop offset=".258" stop-color="#0000c9"/><stop offset=".341" stop-color="#0000da"/><stop offset=".439" stop-color="#0003ff"/><stop offset=".515" stop-color="#0018ff"/><stop offset=".583" stop-color="#0017ff"/><stop offset=".636" stop-color="#0001ff"/><stop offset=".705" stop-color="#0000df"/><stop offset=".78" stop-color="#0000d9"/><stop offset=".924" stop-color="#0000e3"/><stop offset=".992" stop-color="#0000d6"/><stop offset="1" stop-color="#0000d3"/></linearGradient><linearGradient id="F45"><stop offset="0" stop-color="#0000c7"/><stop offset=".076" stop-color="#0000d0"/><stop offset=".258" stop-color="#0000c9"/><stop offset=".333" stop-color="#0000d5"/><stop offset=".447" stop-color="#0001ff"/><stop offset=".523" stop-color="#0013ff"/><stop offset=".583" stop-color="#000fff"/><stop offset=".629" stop-color="#0000fd"/><stop offset=".697" stop-color="#0000de"/><stop offset=".773" stop-color="#0000d9"/><stop offset=".917" stop-color="#0000e3"/><stop offset=".992" stop-color="#0000d4"/><stop offset="1" stop-color="#0000d0"/></linearGradient><linearGradient id="F46"><stop offset="0" stop-color="#0000c7"/><stop offset=".077" stop-color="#0000cf"/><stop offset=".277" stop-color="#0000cb"/><stop offset=".354" stop-color="#0000db"/><stop offset=".462" stop-color="#0002ff"/><stop offset=".538" stop-color="#000eff"/><stop offset=".592" stop-color="#0007ff"/><stop offset=".623" stop-color="#0000fa"/><stop offset=".692" stop-color="#0000dc"/><stop offset=".769" stop-color="#0000d9"/><stop offset=".923" stop-color="#0000e3"/><stop offset=".992" stop-color="#0000d4"/><stop offset="1" stop-color="#0000d1"/></linearGradient><linearGradient id="F47"><stop offset="0" stop-color="#0000c6"/><stop offset=".078" stop-color="#0000cf"/><stop offset=".305" stop-color="#0000cf"/><stop offset=".406" stop-color="#0000ec"/><stop offset=".477" stop-color="#0002ff"/><stop offset=".555" stop-color="#0008ff"/><stop offset=".609" stop-color="#0000fb"/><stop offset=".695" stop-color="#0000d9"/><stop offset=".789" stop-color="#0000dc"/><stop offset=".922" stop-color="#0000e3"/><stop offset=".992" stop-color="#0000d4"/><stop offset="1" stop-color="#0000d1"/></linearGradient><linearGradient id="F48"><stop offset="0" stop-color="#0000c5"/><stop offset=".079" stop-color="#0000cf"/><stop offset=".31" stop-color="#0000d1"/><stop offset=".492" stop-color="#0001ff"/><stop offset=".571" stop-color="#0001ff"/><stop offset=".635" stop-color="#0000ed"/><stop offset=".698" stop-color="#0000d9"/><stop offset=".913" stop-color="#0000e3"/><stop offset=".984" stop-color="#0000d6"/><stop offset="1" stop-color="#0000d0"/></linearGradient><linearGradient id="F49"><stop offset="0" stop-color="#0000c5"/><stop offset=".089" stop-color="#0000d0"/><stop offset=".315" stop-color="#0000d5"/><stop offset=".492" stop-color="#0000fd"/><stop offset=".573" stop-color="#0000fc"/><stop offset=".702" stop-color="#0000da"/><stop offset=".903" stop-color="#0000e4"/><stop offset=".976" stop-color="#0000d8"/><stop offset="1" stop-color="#0000cf"/></linearGradient><linearGradient id="F50"><stop offset="0" stop-color="#0000c4"/><stop offset=".074" stop-color="#0000d1"/><stop offset=".32" stop-color="#0000d9"/><stop offset=".492" stop-color="#0000fc"/><stop offset=".574" stop-color="#0000fa"/><stop offset=".697" stop-color="#0000dd"/><stop offset=".893" stop-color="#0000e6"/><stop offset=".975" stop-color="#0000d8"/><stop offset="1" stop-color="#0000ce"/></linearGradient><linearGradient id="F51"><stop offset="0" stop-color="#0000c4"/><stop offset=".083" stop-color="#0000d4"/><stop offset=".333" stop-color="#0000de"/><stop offset=".5" stop-color="#0000fb"/><stop offset=".583" stop-color="#0000f7"/><stop offset=".7" stop-color="#0000e0"/><stop offset=".892" stop-color="#0000e8"/><stop offset=".975" stop-color="#0000d8"/><stop offset="1" stop-color="#0000ce"/></linearGradient><linearGradient id="F52"><stop offset="0" stop-color="#0000c4"/><stop offset=".076" stop-color="#0000d6"/><stop offset=".22" stop-color="#0000de"/><stop offset=".347" stop-color="#0000e3"/><stop offset=".5" stop-color="#0000fb"/><stop offset=".593" stop-color="#0000f5"/><stop offset=".712" stop-color="#0000e3"/><stop offset=".89" stop-color="#0000ea"/><stop offset=".966" stop-color="#0000db"/><stop offset="1" stop-color="#0000cd"/></linearGradient><linearGradient id="F53"><stop offset="0" stop-color="#0000c8"/><stop offset=".096" stop-color="#0000de"/><stop offset=".237" stop-color="#0000e2"/><stop offset=".36" stop-color="#0000e8"/><stop offset=".5" stop-color="#0000fc"/><stop offset=".605" stop-color="#0000f4"/><stop offset=".719" stop-color="#0000e7"/><stop offset=".895" stop-color="#0000ec"/><stop offset=".965" stop-color="#0000de"/><stop offset="1" stop-color="#0000d1"/></linearGradient><linearGradient id="F54"><stop offset="0" stop-color="#0000ca"/><stop offset=".08" stop-color="#0000e0"/><stop offset=".205" stop-color="#0000e8"/><stop offset=".348" stop-color="#0000e9"/><stop offset=".509" stop-color="#0000fd"/><stop offset=".616" stop-color="#0000f4"/><stop offset=".723" stop-color="#0000ea"/><stop offset=".884" stop-color="#0000ef"/><stop offset=".955" stop-color="#0000e2"/><stop offset="1" stop-color="#0000d0"/></linearGradient><linearGradient id="F55"><stop offset="0" stop-color="#0000cf"/><stop offset=".083" stop-color="#0000e6"/><stop offset=".213" stop-color="#0000ec"/><stop offset=".352" stop-color="#0000ed"/><stop offset=".5" stop-color="#0000ff"/><stop offset=".611" stop-color="#0000f7"/><stop offset=".722" stop-color="#0000ee"/><stop offset=".898" stop-color="#0000f0"/><stop offset=".972" stop-color="#0000e0"/><stop offset="1" stop-color="#0000d4"/></linearGradient><linearGradient id="F56"><stop offset="0" stop-color="#0000d5"/><stop offset=".077" stop-color="#0000e9"/><stop offset=".192" stop-color="#0000f1"/><stop offset=".356" stop-color="#0000f1"/><stop offset=".471" stop-color="#0001ff"/><stop offset=".587" stop-color="#0000fd"/><stop offset=".712" stop-color="#0000f1"/><stop offset=".904" stop-color="#0000f1"/><stop offset=".981" stop-color="#0000e0"/><stop offset="1" stop-color="#0000d8"/></linearGradient><linearGradient id="F57"><stop offset="0" stop-color="#0000db"/><stop offset=".11" stop-color="#0000f1"/><stop offset=".23" stop-color="#0000f4"/><stop offset=".35" stop-color="#0000f4"/><stop offset=".46" stop-color="#0004ff"/><stop offset=".57" stop-color="#0003ff"/><stop offset=".72" stop-color="#0000f3"/><stop offset=".89" stop-color="#0000f3"/><stop offset=".99" stop-color="#0000e0"/><stop offset="1" stop-color="#0000dc"/></linearGradient><linearGradient id="F58"><stop offset="0" stop-color="#0000de"/><stop offset=".094" stop-color="#0000f3"/><stop offset=".208" stop-color="#0000f9"/><stop offset=".333" stop-color="#0000f5"/><stop offset=".427" stop-color="#0004ff"/><stop offset=".521" stop-color="#000aff"/><stop offset=".635" stop-color="#0000fc"/><stop offset=".74" stop-color="#0000f6"/><stop offset=".885" stop-color="#0000f5"/><stop offset=".99" stop-color="#0000e0"/><stop offset="1" stop-color="#0000dd"/></linearGradient><linearGradient id="F59"><stop offset="0" stop-color="#0000e1"/><stop offset=".109" stop-color="#0000f8"/><stop offset=".217" stop-color="#0000fc"/><stop offset=".326" stop-color="#0000f8"/><stop offset=".413" stop-color="#0006ff"/><stop offset=".522" stop-color="#000eff"/><stop offset=".652" stop-color="#0000fd"/><stop offset=".739" stop-color="#0000f8"/><stop offset=".87" stop-color="#0000f7"/><stop offset=".978" stop-color="#0000e3"/><stop offset="1" stop-color="#0000dd"/></linearGradient><linearGradient id="F60"><stop offset="0" stop-color="#0000e6"/><stop offset=".116" stop-color="#0000fd"/><stop offset=".256" stop-color="#0000fc"/><stop offset=".326" stop-color="#0000fd"/><stop offset=".5" stop-color="#0012ff"/><stop offset=".628" stop-color="#0006ff"/><stop offset=".698" stop-color="#0000fb"/><stop offset=".872" stop-color="#0000f8"/><stop offset=".988" stop-color="#0000e3"/><stop offset="1" stop-color="#0000df"/></linearGradient><linearGradient id="F61"><stop offset="0" stop-color="#0000e7"/><stop offset=".11" stop-color="#0000ff"/><stop offset=".207" stop-color="#0003ff"/><stop offset=".317" stop-color="#0002ff"/><stop offset=".476" stop-color="#0015ff"/><stop offset=".61" stop-color="#000dff"/><stop offset=".72" stop-color="#0000fd"/><stop offset=".866" stop-color="#0000fa"/><stop offset=".988" stop-color="#0000e2"/><stop offset="1" stop-color="#0000de"/></linearGradient><linearGradient id="F62"><stop offset="0" stop-color="#0000ec"/><stop offset=".092" stop-color="#0001ff"/><stop offset=".197" stop-color="#0006ff"/><stop offset=".303" stop-color="#0006ff"/><stop offset=".474" stop-color="#0018ff"/><stop offset=".605" stop-color="#0011ff"/><stop offset=".75" stop-color="#0000ff"/><stop offset=".895" stop-color="#0000f8"/><stop offset="1" stop-color="#0000e1"/></linearGradient><linearGradient id="F63"><stop offset="0" stop-color="#0000f5"/><stop offset=".074" stop-color="#0003ff"/><stop offset=".324" stop-color="#000dff"/><stop offset=".5" stop-color="#001bff"/><stop offset=".691" stop-color="#0009ff"/><stop offset=".838" stop-color="#0000fe"/><stop offset=".956" stop-color="#0000f1"/><stop offset="1" stop-color="#0000e7"/></linearGradient><linearGradient id="F64"><stop offset="0" stop-color="#0000fc"/><stop offset=".167" stop-color="#0007ff"/><stop offset=".367" stop-color="#0014ff"/><stop offset=".517" stop-color="#001bff"/><stop offset=".833" stop-color="#0000fd"/><stop offset=".967" stop-color="#0000f3"/><stop offset="1" stop-color="#0000ed"/></linearGradient><linearGradient id="F65"><stop offset="0" stop-color="#0001ff"/><stop offset=".3" stop-color="#000fff"/><stop offset=".5" stop-color="#001aff"/><stop offset=".74" stop-color="#0007ff"/><stop offset=".88" stop-color="#0000fa"/><stop offset="1" stop-color="#0000f2"/></linearGradient><linearGradient id="F66"><stop offset="0" stop-color="#0000ff"/><stop offset=".472" stop-color="#0016ff"/><stop offset=".667" stop-color="#000eff"/><stop offset=".889" stop-color="#0000fc"/><stop offset="1" stop-color="#0000f4"/></linearGradient><clipPath id="clipF"><ellipse cx="517.6" cy="716.4" rx="101.65" ry="99.10"/></clipPath></defs>
<g clip-path="url(#clipF)"><rect x="490.5" y="616.55" width="54.2" height="4.08" fill="url(#F0)"/><rect x="480.0" y="619.53" width="75.3" height="4.08" fill="url(#F1)"/><rect x="472.4" y="622.51" width="90.4" height="4.08" fill="url(#F2)"/><rect x="466.4" y="625.49" width="102.4" height="4.08" fill="url(#F3)"/><rect x="460.4" y="628.47" width="114.4" height="4.08" fill="url(#F4)"/><rect x="455.9" y="631.45" width="123.5" height="4.08" fill="url(#F5)"/><rect x="452.8" y="634.43" width="129.5" height="4.08" fill="url(#F6)"/><rect x="448.3" y="637.41" width="138.5" height="4.08" fill="url(#F7)"/><rect x="445.3" y="640.39" width="144.6" height="4.08" fill="url(#F8)"/><rect x="442.3" y="643.38" width="150.6" height="4.08" fill="url(#F9)"/><rect x="439.3" y="646.36" width="156.6" height="4.08" fill="url(#F10)"/><rect x="436.3" y="649.34" width="162.6" height="4.08" fill="url(#F11)"/><rect x="433.3" y="652.32" width="168.7" height="4.08" fill="url(#F12)"/><rect x="431.8" y="655.30" width="171.7" height="4.08" fill="url(#F13)"/><rect x="428.8" y="658.28" width="177.7" height="4.08" fill="url(#F14)"/><rect x="427.2" y="661.26" width="180.7" height="4.08" fill="url(#F15)"/><rect x="425.7" y="664.24" width="183.7" height="4.08" fill="url(#F16)"/><rect x="424.2" y="667.22" width="186.7" height="4.08" fill="url(#F17)"/><rect x="422.7" y="670.20" width="189.7" height="4.08" fill="url(#F18)"/><rect x="421.2" y="673.18" width="192.8" height="4.08" fill="url(#F19)"/><rect x="419.7" y="676.16" width="195.8" height="4.08" fill="url(#F20)"/><rect x="418.2" y="679.14" width="198.8" height="4.08" fill="url(#F21)"/><rect x="418.2" y="682.12" width="198.8" height="4.08" fill="url(#F22)"/><rect x="416.7" y="685.10" width="201.8" height="4.08" fill="url(#F23)"/><rect x="415.2" y="688.08" width="204.8" height="4.08" fill="url(#F24)"/><rect x="415.2" y="691.06" width="204.8" height="4.08" fill="url(#F25)"/><rect x="415.2" y="694.05" width="204.8" height="4.08" fill="url(#F26)"/><rect x="415.2" y="697.03" width="204.8" height="4.08" fill="url(#F27)"/><rect x="415.2" y="700.01" width="204.8" height="4.08" fill="url(#F28)"/><rect x="415.2" y="702.99" width="204.8" height="4.08" fill="url(#F29)"/><rect x="415.2" y="705.97" width="204.8" height="4.08" fill="url(#F30)"/><rect x="415.2" y="708.95" width="204.8" height="4.08" fill="url(#F31)"/><rect x="415.2" y="711.93" width="204.8" height="4.08" fill="url(#F32)"/><rect x="415.2" y="714.91" width="204.8" height="4.08" fill="url(#F33)"/><rect x="415.2" y="717.89" width="204.8" height="4.08" fill="url(#F34)"/><rect x="415.2" y="720.87" width="204.8" height="4.08" fill="url(#F35)"/><rect x="415.2" y="723.85" width="204.8" height="4.08" fill="url(#F36)"/><rect x="415.2" y="726.83" width="204.8" height="4.08" fill="url(#F37)"/><rect x="415.2" y="729.81" width="204.8" height="4.08" fill="url(#F38)"/><rect x="415.2" y="732.79" width="204.8" height="4.08" fill="url(#F39)"/><rect x="415.2" y="735.77" width="204.8" height="4.08" fill="url(#F40)"/><rect x="415.2" y="738.75" width="204.8" height="4.08" fill="url(#F41)"/><rect x="415.2" y="741.74" width="204.8" height="4.08" fill="url(#F42)"/><rect x="416.7" y="744.72" width="201.8" height="4.08" fill="url(#F43)"/><rect x="418.2" y="747.70" width="198.8" height="4.08" fill="url(#F44)"/><rect x="418.2" y="750.68" width="198.8" height="4.08" fill="url(#F45)"/><rect x="419.7" y="753.66" width="195.8" height="4.08" fill="url(#F46)"/><rect x="421.2" y="756.64" width="192.8" height="4.08" fill="url(#F47)"/><rect x="422.7" y="759.62" width="189.7" height="4.08" fill="url(#F48)"/><rect x="424.2" y="762.60" width="186.7" height="4.08" fill="url(#F49)"/><rect x="425.7" y="765.58" width="183.7" height="4.08" fill="url(#F50)"/><rect x="427.2" y="768.56" width="180.7" height="4.08" fill="url(#F51)"/><rect x="428.8" y="771.54" width="177.7" height="4.08" fill="url(#F52)"/><rect x="431.8" y="774.52" width="171.7" height="4.08" fill="url(#F53)"/><rect x="433.3" y="777.50" width="168.7" height="4.08" fill="url(#F54)"/><rect x="436.3" y="780.48" width="162.6" height="4.08" fill="url(#F55)"/><rect x="439.3" y="783.46" width="156.6" height="4.08" fill="url(#F56)"/><rect x="442.3" y="786.44" width="150.6" height="4.08" fill="url(#F57)"/><rect x="445.3" y="789.42" width="144.6" height="4.08" fill="url(#F58)"/><rect x="448.3" y="792.41" width="138.5" height="4.08" fill="url(#F59)"/><rect x="452.8" y="795.39" width="129.5" height="4.08" fill="url(#F60)"/><rect x="455.9" y="798.37" width="123.5" height="4.08" fill="url(#F61)"/><rect x="460.4" y="801.35" width="114.4" height="4.08" fill="url(#F62)"/><rect x="466.4" y="804.33" width="102.4" height="4.08" fill="url(#F63)"/><rect x="472.4" y="807.31" width="90.4" height="4.08" fill="url(#F64)"/><rect x="480.0" y="810.29" width="75.3" height="4.08" fill="url(#F65)"/><rect x="490.5" y="813.27" width="54.2" height="4.08" fill="url(#F66)"/></g>
<g fill="none" stroke="#111" stroke-width="1.1" stroke-linejoin="round"><path d="M417.2 697.5C416.8 696.9 415.5 694.7 414.7 694.0C413.9 693.3 413.1 693.1 412.3 693.1C411.5 693.1 410.5 693.4 409.8 694.0C409.1 694.6 408.4 695.3 408.0 696.5C407.6 697.7 407.6 698.9 407.6 701.4C407.6 703.9 408.0 708.3 408.1 711.3C408.2 714.3 408.2 716.4 408.0 719.2C407.8 722.0 407.3 725.5 407.1 728.1C406.9 730.7 406.7 733.0 406.8 735.0C406.9 737.0 407.2 738.6 407.8 740.0C408.4 741.4 409.4 742.7 410.3 743.4C411.2 744.1 412.3 744.4 413.3 744.4C414.3 744.4 415.3 744.0 416.2 743.4C417.1 742.8 418.2 741.4 418.6 741.0"/><path d="M618.0 697.5C618.4 696.9 619.7 694.7 620.5 694.0C621.3 693.3 622.1 693.1 622.9 693.1C623.7 693.1 624.7 693.4 625.4 694.0C626.1 694.6 626.8 695.3 627.2 696.5C627.6 697.7 627.6 698.9 627.6 701.4C627.6 703.9 627.2 708.3 627.1 711.3C627.0 714.3 627.0 716.4 627.2 719.2C627.4 722.0 627.9 725.5 628.1 728.1C628.3 730.7 628.5 733.0 628.4 735.0C628.3 737.0 628.0 738.6 627.4 740.0C626.8 741.4 625.8 742.7 624.9 743.4C624.0 744.1 622.9 744.4 621.9 744.4C620.9 744.4 619.9 744.0 619.0 743.4C618.1 742.8 617.0 741.4 616.6 741.0"/><path d="M500.0 618.2L512.6 604.8C514.4 602.8 515.8 602.8 517.6 602.8C519.4 602.8 520.8 602.8 522.6 604.8L535.2 618.2"/></g>
<ellipse cx="517.6" cy="716.4" rx="101.65" ry="99.10" fill="none" stroke="#0a0a14" stroke-width="1.5"/>
<g class="el" font-size="6.7" fill="#05051a" fill-opacity=".9"><circle cx="490.8" cy="636.1" r="0.95"/><text x="492.9" y="638.4">Fp1</text><circle cx="544.4" cy="636.1" r="0.95"/><text x="546.5" y="638.4">Fp2</text><circle cx="447.5" cy="666.8" r="0.95"/><text x="449.6" y="669.1">F7</text><circle cx="587.7" cy="666.8" r="0.95"/><text x="589.8" y="669.1">F8</text><circle cx="431.0" cy="716.4" r="0.95"/><text x="433.1" y="718.7">T7</text><circle cx="604.2" cy="716.4" r="0.95"/><text x="606.3" y="718.7">T8</text><circle cx="447.5" cy="766.0" r="0.95"/><text x="449.6" y="768.3">P7</text><circle cx="587.7" cy="766.0" r="0.95"/><text x="589.8" y="768.3">P8</text><circle cx="490.8" cy="796.7" r="0.95"/><text x="492.9" y="799.0">O1</text><circle cx="544.4" cy="796.7" r="0.95"/><text x="546.5" y="799.0">O2</text><circle cx="482.3" cy="673.9" r="0.95"/><text x="484.4" y="676.2">F3</text><circle cx="552.9" cy="673.9" r="0.95"/><text x="555.0" y="676.2">F4</text><circle cx="517.6" cy="674.1" r="0.95"/><text x="519.7" y="676.4">Fz</text><circle cx="517.6" cy="716.4" r="0.95"/><text x="519.7" y="718.7">Cz</text><circle cx="517.6" cy="758.7" r="0.95"/><text x="519.7" y="761.0">Pz</text><circle cx="474.3" cy="716.4" r="0.95"/><text x="476.4" y="718.7">C3</text><circle cx="560.9" cy="716.4" r="0.95"/><text x="563.0" y="718.7">C4</text><circle cx="482.3" cy="758.9" r="0.95"/><text x="484.4" y="761.2">P3</text><circle cx="552.9" cy="758.9" r="0.95"/><text x="555.0" y="761.2">P4</text></g>
<rect x="274.2" y="71.2" width="10.7" height="217.4" fill="url(#jet)"/>
<text font-size="24.0" transform="translate(286.2 87.0) scale(0.975 1)">0.15</text>
<text font-size="24.0" transform="translate(288.7 287.1) scale(0.975 1)">0</text>
<text font-size="24.0" text-anchor="middle" transform="translate(310.0 185.0) rotate(-90) scale(0.952 1)">DTF</text>
<rect x="634.0" y="71.2" width="10.7" height="217.2" fill="url(#jet)"/>
<text font-size="24.0" transform="translate(645.2 86.2) scale(0.975 1)">0.15</text>
<text font-size="24.0" transform="translate(648.4 287.2) scale(0.975 1)">0</text>
<text font-size="24.0" text-anchor="middle" transform="translate(672.2 185.2) rotate(-90) scale(0.952 1)">DTF</text>
<rect x="274.2" y="334.1" width="10.7" height="217.6" fill="url(#jet)"/>
<text font-size="24.0" transform="translate(286.2 351.0) scale(0.975 1)">0.15</text>
<text font-size="24.0" transform="translate(288.7 551.1) scale(0.975 1)">0</text>
<text font-size="24.0" text-anchor="middle" transform="translate(310.0 452.8) rotate(-90) scale(0.952 1)">DTF</text>
<rect x="634.0" y="334.1" width="10.7" height="217.4" fill="url(#jet)"/>
<text font-size="24.0" transform="translate(645.3 350.4) scale(0.975 1)">0.15</text>
<text font-size="24.0" transform="translate(648.4 551.1) scale(0.975 1)">0</text>
<text font-size="24.0" text-anchor="middle" transform="translate(672.2 452.9) rotate(-90) scale(0.952 1)">DTF</text>
<rect x="279.9" y="600.2" width="10.8" height="217.6" fill="url(#jet)"/>
<text font-size="24.0" transform="translate(291.1 617.9) scale(0.975 1)">0.03</text>
<text font-size="24.0" transform="translate(294.3 817.3) scale(0.975 1)">0</text>
<text font-size="24.0" text-anchor="middle" transform="translate(315.8 718.8) rotate(-90) scale(0.952 1)">DTF</text>
<rect x="639.1" y="600.2" width="10.8" height="217.6" fill="url(#jet)"/>
<text font-size="24.0" transform="translate(650.5 617.2) scale(0.975 1)">0.03</text>
<text font-size="24.0" transform="translate(654.5 817.3) scale(0.975 1)">0</text>
<text font-size="24.0" text-anchor="middle" transform="translate(677.5 719.0) rotate(-90) scale(0.952 1)">DTF</text>
<text font-size="31.3" text-anchor="middle" transform="translate(161.0 23.6) scale(0.985 1)">HCs</text>
<text font-size="31.3" text-anchor="middle" transform="translate(517.2 23.6) scale(0.985 1)">TLE</text>
<text font-size="31.3" transform="translate(6.4 66.7) scale(0.985 1)">A</text>
<text font-size="31.3" transform="translate(369.0 66.2) scale(0.985 1)">B</text>
<text font-size="31.3" transform="translate(8.8 352.9) scale(0.985 1)">C</text>
<text font-size="31.3" transform="translate(371.4 352.7) scale(0.985 1)">D</text>
<text font-size="31.3" transform="translate(6.4 597.9) scale(0.985 1)">E</text>
<text font-size="31.3" transform="translate(369.0 597.9) scale(0.985 1)">F</text>
<text font-size="31.3" transform="translate(0.0 868.3) scale(0.985 1)">G</text>
<text font-size="31.3" transform="translate(371.9 867.4) scale(0.985 1)">H</text>
<text font-size="24.0" text-anchor="middle" transform="translate(163.3 61.1) scale(0.975 1)">Incongruent</text>
<text font-size="24.0" text-anchor="middle" transform="translate(521.4 61.5) scale(0.975 1)">Incongruent</text>
<text font-size="24.0" text-anchor="middle" transform="translate(162.8 326.3) scale(0.975 1)">Congruent</text>
<text font-size="24.0" text-anchor="middle" transform="translate(521.2 326.3) scale(0.975 1)">Congruent</text>
<text font-size="24.0" text-anchor="middle" transform="translate(162.8 593.0) scale(0.975 1)">EC_effect</text>
<text font-size="24.0" text-anchor="middle" transform="translate(521.2 593.0) scale(0.975 1)">EC_effect</text>
<rect x="73.2" y="939.4" width="44" height="122.4" fill="#000" stroke="#000" stroke-width="1"/>
<path d="M95.2 939.9V924.6M88.8 924.6H101.6" stroke="#000" stroke-width="1.7" fill="none"/>
<rect x="141.4" y="984.8" width="44" height="77.0" fill="#000" stroke="#000" stroke-width="1"/>
<path d="M163.4 985.3V971.1M157.0 971.1H169.8" stroke="#000" stroke-width="1.7" fill="none"/>
<rect x="209.7" y="1021.3" width="44" height="40.5" fill="#000" stroke="#000" stroke-width="1"/>
<path d="M231.7 1021.8V1012.6M225.3 1012.6H238.1" stroke="#000" stroke-width="1.7" fill="none"/>
<rect x="277.7" y="1019.4" width="44" height="42.4" fill="#000" stroke="#000" stroke-width="1"/>
<path d="M299.7 1019.9V1006.6M293.3 1006.6H306.1" stroke="#000" stroke-width="1.7" fill="none"/>
<path d="M60.8 881.8V1061.8M55.8 1061.8H331.7" stroke="#000" stroke-width="2.0" fill="none"/>
<path d="M55.8 1002.1H60.8" stroke="#000" stroke-width="2.0"/>
<path d="M55.8 942.5H60.8" stroke="#000" stroke-width="2.0"/>
<path d="M55.8 882.8H60.8" stroke="#000" stroke-width="2.0"/>
<text font-size="24.4" text-anchor="end" transform="translate(52.6 897.3) scale(0.93 1)">15</text>
<text font-size="24.4" text-anchor="end" transform="translate(52.6 950.7) scale(0.93 1)">10</text>
<text font-size="24.4" text-anchor="end" transform="translate(52.6 1010.6) scale(0.93 1)">5</text>
<text font-size="24.4" text-anchor="end" transform="translate(52.6 1064.6) scale(0.93 1)">0</text>
<text font-size="24.0" transform="translate(54.6 879.5) scale(0.975 1)">*10<tspan font-size="15.2" dy="-9.4">-3</tspan></text>
<text font-size="23.8" text-anchor="middle" transform="translate(18.5 958.2) rotate(-90) scale(0.972 1)">DTF_effect</text>
<path d="M95.3 887.2V877.7H298.3V887.2" stroke="#000" stroke-width="1.6" fill="none"/>
<text x="200.3" y="881.4" font-size="23" text-anchor="middle">***</text>
<path d="M95.3 904.2V894.7H231.9V904.2" stroke="#000" stroke-width="1.6" fill="none"/>
<text x="166.7" y="898.4" font-size="23" text-anchor="middle">***</text>
<path d="M95.3 919.8V910.3H162.0V919.8" stroke="#000" stroke-width="1.6" fill="none"/>
<text x="129.0" y="914.3" font-size="23" text-anchor="middle">**</text>
<text font-size="24.0" text-anchor="end" transform="translate(104.5 1077.6) rotate(-45) scale(0.975 1)">Frontal</text>
<text font-size="24.0" text-anchor="end" transform="translate(172.7 1077.6) rotate(-45) scale(0.975 1)">Parietal</text>
<text font-size="24.0" text-anchor="end" transform="translate(241.0 1077.6) rotate(-45) scale(0.975 1)">Temporal</text>
<text font-size="24.0" text-anchor="end" transform="translate(309.0 1077.6) rotate(-45) scale(0.975 1)">Occipital</text>
<rect x="449.2" y="987.4" width="44" height="74.4" fill="#ff0000" stroke="#ea0000" stroke-width="1"/>
<path d="M471.2 987.9V977.6M464.8 977.6H477.6" stroke="#ff0000" stroke-width="1.7" fill="none"/>
<rect x="516.5" y="1033.9" width="44" height="27.9" fill="#ff0000" stroke="#ea0000" stroke-width="1"/>
<path d="M538.5 1034.4V1024.9M532.1 1024.9H544.9" stroke="#ff0000" stroke-width="1.7" fill="none"/>
<rect x="583.7" y="1046.8" width="44" height="15.0" fill="#ff0000" stroke="#ea0000" stroke-width="1"/>
<path d="M605.7 1047.3V1041.2M599.3 1041.2H612.1" stroke="#ff0000" stroke-width="1.7" fill="none"/>
<rect x="650.8" y="1027.5" width="44" height="34.3" fill="#ff0000" stroke="#ea0000" stroke-width="1"/>
<path d="M672.8 1028.0V1013.4M666.4 1013.4H679.2" stroke="#ff0000" stroke-width="1.7" fill="none"/>
<path d="M436.8 881.8V1061.8M431.8 1061.8H706.2" stroke="#000" stroke-width="2.0" fill="none"/>
<path d="M431.8 1002.1H436.8" stroke="#000" stroke-width="2.0"/>
<path d="M431.8 942.5H436.8" stroke="#000" stroke-width="2.0"/>
<path d="M431.8 882.8H436.8" stroke="#000" stroke-width="2.0"/>
<text font-size="24.4" text-anchor="end" transform="translate(428.6 897.3) scale(0.93 1)">15</text>
<text font-size="24.4" text-anchor="end" transform="translate(428.6 950.7) scale(0.93 1)">10</text>
<text font-size="24.4" text-anchor="end" transform="translate(428.6 1010.6) scale(0.93 1)">5</text>
<text font-size="24.4" text-anchor="end" transform="translate(428.6 1064.6) scale(0.93 1)">0</text>
<text font-size="24.0" transform="translate(430.6 879.5) scale(0.975 1)">*10<tspan font-size="15.2" dy="-9.4">-3</tspan></text>
<text font-size="23.8" text-anchor="middle" transform="translate(394.5 958.2) rotate(-90) scale(0.972 1)">DTF_effect</text>
<path d="M471.1 942.4V932.9H674.1V942.4" stroke="#000" stroke-width="1.6" fill="none"/>
<text x="576.2" y="936.5" font-size="23" text-anchor="middle">*</text>
<path d="M471.1 959.2V949.7H607.8V959.2" stroke="#000" stroke-width="1.6" fill="none"/>
<text x="542.3" y="953.2" font-size="23" text-anchor="middle">***</text>
<path d="M471.1 974.6V965.1H537.7V974.6" stroke="#000" stroke-width="1.6" fill="none"/>
<text x="504.6" y="969.2" font-size="23" text-anchor="middle">**</text>
<text font-size="24.0" text-anchor="end" transform="translate(480.5 1077.6) rotate(-45) scale(0.975 1)">Frontal</text>
<text font-size="24.0" text-anchor="end" transform="translate(547.8 1077.6) rotate(-45) scale(0.975 1)">Parietal</text>
<text font-size="24.0" text-anchor="end" transform="translate(615.0 1077.6) rotate(-45) scale(0.975 1)">Temporal</text>
<text font-size="24.0" text-anchor="end" transform="translate(682.1 1077.6) rotate(-45) scale(0.975 1)">Occipital</text>
</svg></body></html>
